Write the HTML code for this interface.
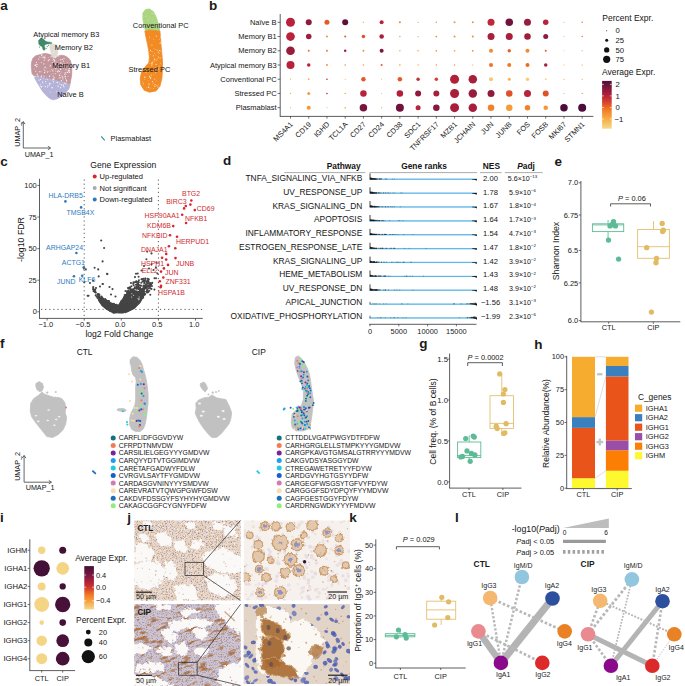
<!DOCTYPE html><html><head><meta charset="utf-8"><style>html,body{margin:0;padding:0;background:#fff;}svg{display:block;}</style></head><body>
<svg width="685" height="686" viewBox="0 0 685 686" font-family='"Liberation Sans", sans-serif'>
<rect x="0.00" y="0.00" width="685.00" height="686.00" fill="#fff"/>
<text x="0.30" y="9.90" font-size="13.5" text-anchor="start" font-weight="bold" fill="#1a1a1a">a</text>
<path d="M33.2,57.9 L35.9,55.7 L40.3,54.6 L44.7,53.5 L49.1,54.1 L52.4,55.7 L55.6,56.8 L57.8,56.3 L61.1,55.2 L64.4,55.7 L67.7,57.4 L70.4,60.6 L71.5,65.0 L71.8,70.5 L71.5,76.0 L70.7,80.3 L69.9,84.7 L63.3,82.5 L56.7,80.9 L50.2,79.2 L43.6,78.1 L38.1,77.0 L34.3,76.0 L32.1,73.8 L31.6,69.4 L31.3,65.0 L31.8,61.2 Z" fill="#c3959c" stroke="#c3959c" stroke-width="0.8" stroke-linejoin="round"/>
<path d="M34.3,75.7 L38.1,76.8 L43.6,77.9 L50.2,79.0 L56.7,80.7 L63.3,82.3 L70.1,84.5 L68.8,89.1 L65.5,92.9 L61.1,96.7 L56.7,98.9 L52.9,99.8 L49.6,98.4 L46.3,95.6 L42.5,91.3 L39.2,85.8 L36.5,81.4 L34.8,78.1 Z" fill="#b5b3d8" stroke="#b5b3d8" stroke-width="0.8" stroke-linejoin="round"/>
<path d="M50.2,44.2 L53.4,44.0 L56.7,44.8 L57.8,47.5 L57.8,51.9 L57.3,56.3 L55.6,57.9 L52.9,57.4 L51.3,54.6 L50.4,50.8 L49.9,47.0 Z" fill="#dedcd3" stroke="#dedcd3" stroke-width="0.6" stroke-linejoin="round"/>
<path d="M38.5,40.5 L40.5,38.6 L43.0,38.8 L45.0,40.5 L46.0,42.5 L45.0,45.0 L43.0,46.5 L40.5,46.0 L38.8,44.0 Z" fill="#3f8a68" stroke="#3f8a68" stroke-width="0.5" stroke-linejoin="round"/>
<path d="M45.0,41.3 L48.0,42.0 L51.5,42.4 L51.7,43.6 L48.0,43.9 L45.0,44.2 Z" fill="#3f8a68" stroke="#3f8a68" stroke-width="0.5" stroke-linejoin="round"/>
<path d="M41.8,45.0 L44.0,45.3 L45.2,48.5 L44.6,50.2 L43.2,49.9 L42.4,47.5 Z" fill="#3f8a68" stroke="#3f8a68" stroke-width="0.5" stroke-linejoin="round"/>
<circle cx="47.20" cy="46.60" r="0.55" fill="#3f8a68"/>
<circle cx="46.30" cy="48.20" r="0.55" fill="#3f8a68"/>
<circle cx="48.50" cy="45.20" r="0.55" fill="#3f8a68"/>
<circle cx="39.50" cy="47.00" r="0.55" fill="#3f8a68"/>
<path d="M142.9,12.9 L145.5,9.6 L149.4,8.9 L153.4,11.6 L156.0,16.8 L157.9,22.0 L159.2,27.3 L159.9,31.9 L154.7,31.2 L149.4,30.6 L145.5,31.2 L144.2,26.0 L142.9,19.4 Z" fill="#acd582" stroke="#acd582" stroke-width="0.8" stroke-linejoin="round"/>
<path d="M144.8,31.2 L149.4,29.9 L154.7,30.6 L159.9,31.2 L160.6,39.1 L161.2,46.9 L161.9,54.8 L162.5,61.4 L162.5,69.2 L161.9,78.4 L159.9,86.3 L156.0,90.9 L149.4,92.2 L144.2,90.2 L140.9,85.0 L140.2,78.4 L141.6,71.9 L145.5,66.6 L148.8,62.7 L149.4,57.4 L148.8,50.9 L147.5,44.3 L146.1,37.8 Z" fill="#f28b24" stroke="#f28b24" stroke-width="0.8" stroke-linejoin="round"/>
</g>
<circle cx="62.55" cy="64.24" r="0.52" fill="#fff" opacity="0.9"/>
<circle cx="49.98" cy="83.28" r="0.63" fill="#fff" opacity="0.9"/>
<circle cx="65.43" cy="72.77" r="0.62" fill="#fff" opacity="0.9"/>
<circle cx="60.86" cy="62.98" r="0.68" fill="#fff" opacity="0.9"/>
<circle cx="69.57" cy="70.30" r="0.43" fill="#fff" opacity="0.9"/>
<circle cx="48.88" cy="53.39" r="0.43" fill="#fff" opacity="0.9"/>
<circle cx="49.52" cy="75.80" r="0.43" fill="#fff" opacity="0.9"/>
<circle cx="41.23" cy="62.50" r="0.51" fill="#fff" opacity="0.9"/>
<circle cx="65.50" cy="78.71" r="0.57" fill="#fff" opacity="0.9"/>
<circle cx="45.31" cy="86.63" r="0.60" fill="#fff" opacity="0.9"/>
<circle cx="69.46" cy="72.26" r="0.64" fill="#fff" opacity="0.9"/>
<circle cx="58.81" cy="66.56" r="0.56" fill="#fff" opacity="0.9"/>
<circle cx="52.21" cy="80.27" r="0.36" fill="#fff" opacity="0.9"/>
<circle cx="48.57" cy="60.30" r="0.54" fill="#fff" opacity="0.9"/>
<circle cx="60.12" cy="84.38" r="0.48" fill="#fff" opacity="0.9"/>
<circle cx="49.56" cy="76.40" r="0.62" fill="#fff" opacity="0.9"/>
<circle cx="52.84" cy="70.88" r="0.52" fill="#fff" opacity="0.9"/>
<circle cx="55.73" cy="70.89" r="0.41" fill="#fff" opacity="0.9"/>
<circle cx="62.82" cy="77.90" r="0.65" fill="#fff" opacity="0.9"/>
<circle cx="41.29" cy="76.66" r="0.68" fill="#fff" opacity="0.9"/>
<circle cx="55.11" cy="74.04" r="0.44" fill="#fff" opacity="0.9"/>
<circle cx="52.75" cy="78.95" r="0.50" fill="#fff" opacity="0.9"/>
<circle cx="54.80" cy="61.59" r="0.53" fill="#fff" opacity="0.9"/>
<circle cx="51.40" cy="69.13" r="0.47" fill="#fff" opacity="0.9"/>
<circle cx="53.54" cy="81.93" r="0.56" fill="#fff" opacity="0.9"/>
<circle cx="50.33" cy="53.34" r="0.43" fill="#fff" opacity="0.9"/>
<circle cx="39.09" cy="80.05" r="0.65" fill="#fff" opacity="0.9"/>
<circle cx="64.66" cy="64.25" r="0.64" fill="#fff" opacity="0.9"/>
<circle cx="58.92" cy="56.00" r="0.36" fill="#fff" opacity="0.9"/>
<circle cx="41.98" cy="57.26" r="0.57" fill="#fff" opacity="0.9"/>
<circle cx="45.78" cy="55.34" r="0.41" fill="#fff" opacity="0.9"/>
<circle cx="53.10" cy="60.07" r="0.45" fill="#fff" opacity="0.9"/>
<circle cx="60.46" cy="73.83" r="0.46" fill="#fff" opacity="0.9"/>
<circle cx="50.95" cy="53.13" r="0.49" fill="#fff" opacity="0.9"/>
<circle cx="48.84" cy="61.03" r="0.39" fill="#fff" opacity="0.9"/>
<circle cx="67.99" cy="76.49" r="0.42" fill="#fff" opacity="0.9"/>
<circle cx="56.23" cy="91.22" r="0.36" fill="#fff" opacity="0.9"/>
<circle cx="60.75" cy="59.69" r="0.60" fill="#fff" opacity="0.9"/>
<circle cx="59.13" cy="78.15" r="0.43" fill="#fff" opacity="0.9"/>
<circle cx="52.66" cy="62.71" r="0.58" fill="#fff" opacity="0.9"/>
<circle cx="47.80" cy="79.64" r="0.46" fill="#fff" opacity="0.9"/>
<circle cx="57.24" cy="54.82" r="0.45" fill="#fff" opacity="0.9"/>
<circle cx="61.75" cy="71.98" r="0.44" fill="#fff" opacity="0.9"/>
<circle cx="52.35" cy="70.14" r="0.47" fill="#fff" opacity="0.9"/>
<circle cx="40.23" cy="84.36" r="0.50" fill="#fff" opacity="0.9"/>
<circle cx="39.76" cy="57.01" r="0.58" fill="#fff" opacity="0.9"/>
<circle cx="43.84" cy="75.99" r="0.46" fill="#fff" opacity="0.9"/>
<circle cx="63.31" cy="68.28" r="0.42" fill="#fff" opacity="0.9"/>
<circle cx="69.29" cy="68.50" r="0.66" fill="#fff" opacity="0.9"/>
<circle cx="59.48" cy="75.26" r="0.69" fill="#fff" opacity="0.9"/>
<circle cx="41.39" cy="86.82" r="0.38" fill="#fff" opacity="0.9"/>
<circle cx="46.72" cy="68.33" r="0.45" fill="#fff" opacity="0.9"/>
<circle cx="66.70" cy="80.99" r="0.68" fill="#fff" opacity="0.9"/>
<circle cx="54.05" cy="57.01" r="0.36" fill="#fff" opacity="0.9"/>
<circle cx="45.64" cy="81.53" r="0.62" fill="#fff" opacity="0.9"/>
<circle cx="47.12" cy="79.40" r="0.43" fill="#fff" opacity="0.9"/>
<circle cx="35.27" cy="64.80" r="0.66" fill="#fff" opacity="0.9"/>
<circle cx="50.31" cy="65.30" r="0.63" fill="#fff" opacity="0.9"/>
<circle cx="58.82" cy="56.40" r="0.39" fill="#fff" opacity="0.9"/>
<circle cx="48.84" cy="57.55" r="0.41" fill="#fff" opacity="0.9"/>
<circle cx="41.66" cy="87.71" r="0.39" fill="#fff" opacity="0.9"/>
<circle cx="68.43" cy="70.16" r="0.69" fill="#fff" opacity="0.9"/>
<circle cx="68.37" cy="66.11" r="0.44" fill="#fff" opacity="0.9"/>
<circle cx="51.08" cy="56.81" r="0.58" fill="#fff" opacity="0.9"/>
<circle cx="55.86" cy="73.59" r="0.46" fill="#fff" opacity="0.9"/>
<circle cx="36.45" cy="62.33" r="0.57" fill="#fff" opacity="0.9"/>
<circle cx="59.53" cy="83.77" r="0.44" fill="#fff" opacity="0.9"/>
<circle cx="53.66" cy="66.75" r="0.44" fill="#fff" opacity="0.9"/>
<circle cx="35.25" cy="65.48" r="0.69" fill="#fff" opacity="0.9"/>
<circle cx="49.92" cy="83.30" r="0.58" fill="#fff" opacity="0.9"/>
<circle cx="69.63" cy="70.74" r="0.46" fill="#fff" opacity="0.9"/>
<circle cx="45.09" cy="67.20" r="0.65" fill="#fff" opacity="0.9"/>
<circle cx="67.74" cy="66.53" r="0.47" fill="#fff" opacity="0.9"/>
<circle cx="53.77" cy="79.79" r="0.56" fill="#fff" opacity="0.9"/>
<circle cx="41.75" cy="55.47" r="0.54" fill="#fff" opacity="0.9"/>
<circle cx="57.42" cy="65.96" r="0.63" fill="#fff" opacity="0.9"/>
<circle cx="38.17" cy="76.07" r="0.63" fill="#fff" opacity="0.9"/>
<circle cx="44.79" cy="57.13" r="0.53" fill="#fff" opacity="0.9"/>
<circle cx="68.77" cy="66.09" r="0.66" fill="#fff" opacity="0.9"/>
<circle cx="61.85" cy="85.10" r="0.41" fill="#fff" opacity="0.9"/>
<circle cx="49.31" cy="59.58" r="0.60" fill="#fff" opacity="0.9"/>
<circle cx="58.71" cy="64.12" r="0.37" fill="#fff" opacity="0.9"/>
<circle cx="53.97" cy="77.99" r="0.65" fill="#fff" opacity="0.9"/>
<circle cx="50.13" cy="70.99" r="0.47" fill="#fff" opacity="0.9"/>
<circle cx="57.86" cy="72.00" r="0.55" fill="#fff" opacity="0.9"/>
<circle cx="34.49" cy="69.04" r="0.40" fill="#fff" opacity="0.9"/>
<circle cx="37.01" cy="64.44" r="0.64" fill="#fff" opacity="0.9"/>
<circle cx="47.91" cy="71.25" r="0.56" fill="#fff" opacity="0.9"/>
<circle cx="53.15" cy="76.04" r="0.58" fill="#fff" opacity="0.9"/>
<circle cx="49.53" cy="84.95" r="0.61" fill="#fff" opacity="0.9"/>
<circle cx="41.53" cy="75.76" r="0.52" fill="#fff" opacity="0.9"/>
<circle cx="41.00" cy="71.79" r="0.55" fill="#fff" opacity="0.9"/>
<circle cx="43.01" cy="83.03" r="0.37" fill="#fff" opacity="0.9"/>
<circle cx="34.86" cy="76.56" r="0.66" fill="#fff" opacity="0.9"/>
<circle cx="67.32" cy="66.97" r="0.59" fill="#fff" opacity="0.9"/>
<circle cx="65.96" cy="69.84" r="0.60" fill="#fff" opacity="0.9"/>
<circle cx="61.46" cy="80.54" r="0.65" fill="#fff" opacity="0.9"/>
<circle cx="54.85" cy="60.46" r="0.44" fill="#fff" opacity="0.9"/>
<circle cx="40.70" cy="79.34" r="0.62" fill="#fff" opacity="0.9"/>
<circle cx="60.69" cy="68.70" r="0.53" fill="#fff" opacity="0.9"/>
<circle cx="64.32" cy="82.17" r="0.44" fill="#fff" opacity="0.9"/>
<circle cx="65.68" cy="83.67" r="0.60" fill="#fff" opacity="0.9"/>
<circle cx="64.11" cy="72.78" r="0.41" fill="#fff" opacity="0.9"/>
<circle cx="45.02" cy="58.06" r="0.67" fill="#fff" opacity="0.9"/>
<circle cx="56.03" cy="71.59" r="0.39" fill="#fff" opacity="0.9"/>
<circle cx="43.82" cy="63.91" r="0.61" fill="#fff" opacity="0.9"/>
<circle cx="49.55" cy="53.01" r="0.57" fill="#fff" opacity="0.9"/>
<circle cx="56.23" cy="92.10" r="0.42" fill="#fff" opacity="0.9"/>
<circle cx="43.39" cy="78.03" r="0.45" fill="#fff" opacity="0.9"/>
<circle cx="55.43" cy="64.04" r="0.59" fill="#fff" opacity="0.9"/>
<circle cx="62.76" cy="79.39" r="0.48" fill="#fff" opacity="0.9"/>
<circle cx="43.36" cy="57.19" r="0.63" fill="#fff" opacity="0.9"/>
<circle cx="37.46" cy="76.02" r="0.55" fill="#fff" opacity="0.9"/>
<circle cx="44.45" cy="76.15" r="0.47" fill="#fff" opacity="0.9"/>
<circle cx="53.14" cy="52.04" r="0.50" fill="#fff" opacity="0.9"/>
<circle cx="49.98" cy="66.63" r="0.49" fill="#fff" opacity="0.9"/>
<circle cx="63.32" cy="84.80" r="0.52" fill="#fff" opacity="0.9"/>
<circle cx="57.91" cy="70.12" r="0.42" fill="#fff" opacity="0.9"/>
<circle cx="65.18" cy="76.53" r="0.70" fill="#fff" opacity="0.9"/>
<circle cx="50.46" cy="92.06" r="0.49" fill="#fff" opacity="0.9"/>
<circle cx="44.21" cy="60.18" r="0.57" fill="#fff" opacity="0.9"/>
<circle cx="53.24" cy="69.25" r="0.35" fill="#fff" opacity="0.9"/>
<circle cx="47.57" cy="72.44" r="0.49" fill="#fff" opacity="0.9"/>
<circle cx="66.45" cy="80.05" r="0.61" fill="#fff" opacity="0.9"/>
<circle cx="51.71" cy="87.80" r="0.57" fill="#fff" opacity="0.9"/>
<circle cx="57.95" cy="82.22" r="0.49" fill="#fff" opacity="0.9"/>
<circle cx="57.17" cy="82.42" r="0.68" fill="#fff" opacity="0.9"/>
<circle cx="56.22" cy="68.77" r="0.44" fill="#fff" opacity="0.9"/>
<circle cx="53.77" cy="59.30" r="0.64" fill="#fff" opacity="0.9"/>
<circle cx="51.38" cy="74.42" r="0.37" fill="#fff" opacity="0.9"/>
<circle cx="52.41" cy="87.75" r="0.50" fill="#fff" opacity="0.9"/>
<circle cx="46.21" cy="83.53" r="0.36" fill="#fff" opacity="0.9"/>
<circle cx="59.62" cy="71.29" r="0.59" fill="#fff" opacity="0.9"/>
<circle cx="56.20" cy="62.03" r="0.42" fill="#fff" opacity="0.9"/>
<circle cx="67.44" cy="64.92" r="0.38" fill="#fff" opacity="0.9"/>
<circle cx="65.23" cy="77.11" r="0.48" fill="#fff" opacity="0.9"/>
<circle cx="52.46" cy="87.36" r="0.41" fill="#fff" opacity="0.9"/>
<circle cx="58.12" cy="86.24" r="0.64" fill="#fff" opacity="0.9"/>
<circle cx="42.79" cy="81.26" r="0.43" fill="#fff" opacity="0.9"/>
<circle cx="54.44" cy="60.27" r="0.63" fill="#fff" opacity="0.9"/>
<circle cx="66.67" cy="67.82" r="0.43" fill="#fff" opacity="0.9"/>
<circle cx="44.66" cy="72.72" r="0.62" fill="#fff" opacity="0.9"/>
<circle cx="63.42" cy="61.12" r="0.57" fill="#fff" opacity="0.9"/>
<circle cx="61.13" cy="81.10" r="0.44" fill="#fff" opacity="0.9"/>
<circle cx="53.06" cy="58.65" r="0.40" fill="#fff" opacity="0.9"/>
<circle cx="60.63" cy="69.33" r="0.61" fill="#fff" opacity="0.9"/>
<circle cx="41.62" cy="86.47" r="0.60" fill="#fff" opacity="0.9"/>
<circle cx="44.22" cy="57.11" r="0.49" fill="#fff" opacity="0.9"/>
<circle cx="51.69" cy="56.80" r="0.42" fill="#fff" opacity="0.9"/>
<circle cx="67.56" cy="62.39" r="0.36" fill="#fff" opacity="0.9"/>
<circle cx="35.81" cy="71.19" r="0.52" fill="#fff" opacity="0.9"/>
<circle cx="47.12" cy="60.09" r="0.43" fill="#fff" opacity="0.9"/>
<circle cx="64.81" cy="74.20" r="0.55" fill="#fff" opacity="0.9"/>
<circle cx="40.48" cy="86.32" r="0.47" fill="#fff" opacity="0.9"/>
<circle cx="44.78" cy="70.39" r="0.55" fill="#fff" opacity="0.9"/>
<circle cx="68.75" cy="71.20" r="0.66" fill="#fff" opacity="0.9"/>
<circle cx="62.34" cy="59.31" r="0.67" fill="#fff" opacity="0.9"/>
<circle cx="58.59" cy="54.74" r="0.48" fill="#fff" opacity="0.9"/>
<circle cx="37.20" cy="74.22" r="0.64" fill="#fff" opacity="0.9"/>
<circle cx="61.78" cy="84.97" r="0.65" fill="#fff" opacity="0.9"/>
<circle cx="58.52" cy="70.71" r="0.57" fill="#fff" opacity="0.9"/>
<circle cx="41.72" cy="54.89" r="0.68" fill="#fff" opacity="0.9"/>
<circle cx="55.62" cy="68.78" r="0.56" fill="#fff" opacity="0.9"/>
<circle cx="54.41" cy="77.06" r="0.37" fill="#fff" opacity="0.9"/>
<circle cx="46.13" cy="71.81" r="0.42" fill="#fff" opacity="0.9"/>
<circle cx="67.20" cy="72.36" r="0.58" fill="#fff" opacity="0.9"/>
<circle cx="60.54" cy="87.68" r="0.60" fill="#fff" opacity="0.9"/>
<circle cx="62.09" cy="64.08" r="0.69" fill="#fff" opacity="0.9"/>
<circle cx="64.52" cy="74.52" r="0.48" fill="#fff" opacity="0.9"/>
<circle cx="53.26" cy="73.28" r="0.39" fill="#fff" opacity="0.9"/>
<circle cx="47.81" cy="85.97" r="0.66" fill="#fff" opacity="0.9"/>
<circle cx="47.37" cy="87.17" r="0.46" fill="#fff" opacity="0.9"/>
<circle cx="44.15" cy="72.39" r="0.44" fill="#fff" opacity="0.9"/>
<circle cx="54.29" cy="67.85" r="0.47" fill="#fff" opacity="0.9"/>
<circle cx="55.37" cy="57.03" r="0.58" fill="#fff" opacity="0.9"/>
<circle cx="60.05" cy="77.71" r="0.66" fill="#fff" opacity="0.9"/>
<circle cx="65.26" cy="65.98" r="0.40" fill="#fff" opacity="0.9"/>
<circle cx="46.81" cy="77.01" r="0.38" fill="#fff" opacity="0.9"/>
<circle cx="45.82" cy="79.60" r="0.37" fill="#fff" opacity="0.9"/>
<circle cx="64.60" cy="83.25" r="0.46" fill="#fff" opacity="0.9"/>
<circle cx="43.93" cy="68.93" r="0.46" fill="#fff" opacity="0.9"/>
<circle cx="61.94" cy="76.05" r="0.53" fill="#fff" opacity="0.9"/>
<circle cx="45.02" cy="67.72" r="0.37" fill="#fff" opacity="0.9"/>
<circle cx="64.05" cy="58.46" r="0.53" fill="#fff" opacity="0.9"/>
<circle cx="63.36" cy="85.74" r="0.61" fill="#fff" opacity="0.9"/>
<circle cx="57.74" cy="71.32" r="0.51" fill="#fff" opacity="0.9"/>
<circle cx="38.71" cy="59.12" r="0.59" fill="#fff" opacity="0.9"/>
<circle cx="39.38" cy="71.73" r="0.60" fill="#fff" opacity="0.9"/>
<circle cx="53.83" cy="64.76" r="0.39" fill="#fff" opacity="0.9"/>
<circle cx="42.47" cy="82.34" r="0.53" fill="#fff" opacity="0.9"/>
<circle cx="66.03" cy="82.88" r="0.41" fill="#fff" opacity="0.9"/>
<circle cx="60.41" cy="65.62" r="0.66" fill="#fff" opacity="0.9"/>
<circle cx="67.71" cy="72.42" r="0.59" fill="#fff" opacity="0.9"/>
<circle cx="63.93" cy="86.84" r="0.63" fill="#fff" opacity="0.9"/>
<circle cx="62.81" cy="76.69" r="0.52" fill="#fff" opacity="0.9"/>
<circle cx="63.85" cy="80.06" r="0.36" fill="#fff" opacity="0.9"/>
<circle cx="66.05" cy="74.01" r="0.42" fill="#fff" opacity="0.9"/>
<circle cx="43.97" cy="85.18" r="0.35" fill="#fff" opacity="0.9"/>
<circle cx="36.80" cy="66.53" r="0.66" fill="#fff" opacity="0.9"/>
<circle cx="53.72" cy="79.45" r="0.54" fill="#fff" opacity="0.9"/>
<circle cx="151.62" cy="63.06" r="0.55" fill="#fff" opacity="0.85"/>
<circle cx="154.12" cy="48.77" r="0.39" fill="#fff" opacity="0.85"/>
<circle cx="151.15" cy="65.76" r="0.46" fill="#fff" opacity="0.85"/>
<circle cx="156.67" cy="64.52" r="0.41" fill="#fff" opacity="0.85"/>
<circle cx="148.65" cy="87.13" r="0.57" fill="#fff" opacity="0.85"/>
<circle cx="155.07" cy="84.82" r="0.58" fill="#fff" opacity="0.85"/>
<circle cx="159.31" cy="53.39" r="0.44" fill="#fff" opacity="0.85"/>
<circle cx="158.10" cy="52.73" r="0.52" fill="#fff" opacity="0.85"/>
<circle cx="150.55" cy="50.53" r="0.44" fill="#fff" opacity="0.85"/>
<circle cx="159.59" cy="65.96" r="0.39" fill="#fff" opacity="0.85"/>
<circle cx="151.33" cy="75.11" r="0.51" fill="#fff" opacity="0.85"/>
<circle cx="149.40" cy="77.40" r="0.45" fill="#fff" opacity="0.85"/>
<circle cx="156.17" cy="59.97" r="0.59" fill="#fff" opacity="0.85"/>
<circle cx="156.19" cy="35.57" r="0.34" fill="#fff" opacity="0.85"/>
<circle cx="150.51" cy="88.08" r="0.42" fill="#fff" opacity="0.85"/>
<circle cx="156.36" cy="80.90" r="0.33" fill="#fff" opacity="0.85"/>
<circle cx="152.19" cy="62.60" r="0.40" fill="#fff" opacity="0.85"/>
<circle cx="149.07" cy="70.97" r="0.34" fill="#fff" opacity="0.85"/>
<circle cx="150.51" cy="78.39" r="0.56" fill="#fff" opacity="0.85"/>
<circle cx="157.87" cy="71.29" r="0.33" fill="#fff" opacity="0.85"/>
<circle cx="160.72" cy="37.09" r="0.56" fill="#fff" opacity="0.85"/>
<circle cx="160.73" cy="42.27" r="0.46" fill="#fff" opacity="0.85"/>
<circle cx="149.00" cy="84.16" r="0.60" fill="#fff" opacity="0.85"/>
<circle cx="160.48" cy="63.23" r="0.36" fill="#fff" opacity="0.85"/>
<circle cx="157.23" cy="50.56" r="0.45" fill="#fff" opacity="0.85"/>
<circle cx="154.77" cy="86.47" r="0.59" fill="#fff" opacity="0.85"/>
<circle cx="149.57" cy="76.35" r="0.55" fill="#fff" opacity="0.85"/>
<circle cx="155.95" cy="55.11" r="0.34" fill="#fff" opacity="0.85"/>
<circle cx="153.36" cy="88.56" r="0.46" fill="#fff" opacity="0.85"/>
<circle cx="153.62" cy="39.08" r="0.42" fill="#fff" opacity="0.85"/>
<circle cx="145.71" cy="72.42" r="0.38" fill="#fff" opacity="0.85"/>
<circle cx="150.29" cy="50.64" r="0.48" fill="#fff" opacity="0.85"/>
<circle cx="143.35" cy="83.67" r="0.51" fill="#fff" opacity="0.85"/>
<circle cx="146.82" cy="72.10" r="0.49" fill="#fff" opacity="0.85"/>
<circle cx="158.49" cy="84.38" r="0.39" fill="#fff" opacity="0.85"/>
<circle cx="150.85" cy="50.13" r="0.34" fill="#fff" opacity="0.85"/>
<circle cx="155.87" cy="64.35" r="0.51" fill="#fff" opacity="0.85"/>
<circle cx="152.62" cy="83.94" r="0.43" fill="#fff" opacity="0.85"/>
<circle cx="145.02" cy="76.97" r="0.50" fill="#fff" opacity="0.85"/>
<circle cx="156.40" cy="36.30" r="0.40" fill="#fff" opacity="0.85"/>
<circle cx="148.58" cy="86.96" r="0.49" fill="#fff" opacity="0.85"/>
<circle cx="146.72" cy="87.87" r="0.41" fill="#fff" opacity="0.85"/>
<circle cx="158.29" cy="69.11" r="0.55" fill="#fff" opacity="0.85"/>
<circle cx="153.55" cy="83.09" r="0.42" fill="#fff" opacity="0.85"/>
<circle cx="155.30" cy="67.86" r="0.46" fill="#fff" opacity="0.85"/>
<circle cx="152.55" cy="62.68" r="0.42" fill="#fff" opacity="0.85"/>
<circle cx="160.56" cy="68.60" r="0.46" fill="#fff" opacity="0.85"/>
<circle cx="149.43" cy="63.30" r="0.38" fill="#fff" opacity="0.85"/>
<circle cx="150.36" cy="54.60" r="0.33" fill="#fff" opacity="0.85"/>
<circle cx="152.06" cy="63.23" r="0.55" fill="#fff" opacity="0.85"/>
<circle cx="156.36" cy="71.76" r="0.31" fill="#fff" opacity="0.85"/>
<circle cx="142.74" cy="85.72" r="0.34" fill="#fff" opacity="0.85"/>
<circle cx="160.10" cy="43.19" r="0.55" fill="#fff" opacity="0.85"/>
<circle cx="159.36" cy="50.46" r="0.57" fill="#fff" opacity="0.85"/>
<circle cx="142.83" cy="81.80" r="0.41" fill="#fff" opacity="0.85"/>
<circle cx="149.55" cy="37.19" r="0.48" fill="#fff" opacity="0.85"/>
<circle cx="158.19" cy="66.82" r="0.30" fill="#fff" opacity="0.85"/>
<circle cx="154.43" cy="53.15" r="0.47" fill="#fff" opacity="0.85"/>
<circle cx="160.19" cy="58.03" r="0.53" fill="#fff" opacity="0.85"/>
<circle cx="153.37" cy="55.76" r="0.58" fill="#fff" opacity="0.85"/>
<circle cx="151.19" cy="51.73" r="0.38" fill="#fff" opacity="0.85"/>
<circle cx="154.72" cy="78.93" r="0.55" fill="#fff" opacity="0.85"/>
<circle cx="144.88" cy="79.31" r="0.37" fill="#fff" opacity="0.85"/>
<circle cx="152.50" cy="51.82" r="0.35" fill="#fff" opacity="0.85"/>
<circle cx="157.64" cy="85.90" r="0.39" fill="#fff" opacity="0.85"/>
<circle cx="160.11" cy="51.12" r="0.50" fill="#fff" opacity="0.85"/>
<circle cx="158.59" cy="56.90" r="0.51" fill="#fff" opacity="0.85"/>
<circle cx="154.24" cy="61.66" r="0.32" fill="#fff" opacity="0.85"/>
<circle cx="155.15" cy="84.37" r="0.35" fill="#fff" opacity="0.85"/>
<circle cx="154.43" cy="59.73" r="0.40" fill="#fff" opacity="0.85"/>
<circle cx="148.20" cy="80.86" r="0.35" fill="#fff" opacity="0.85"/>
<circle cx="156.20" cy="36.08" r="0.40" fill="#fff" opacity="0.85"/>
<circle cx="157.83" cy="58.14" r="0.44" fill="#fff" opacity="0.85"/>
<circle cx="150.82" cy="77.16" r="0.52" fill="#fff" opacity="0.85"/>
<circle cx="152.01" cy="64.86" r="0.58" fill="#fff" opacity="0.85"/>
<circle cx="159.15" cy="39.14" r="0.41" fill="#fff" opacity="0.85"/>
<circle cx="157.39" cy="70.70" r="0.54" fill="#fff" opacity="0.85"/>
<circle cx="156.67" cy="85.67" r="0.46" fill="#fff" opacity="0.85"/>
<circle cx="160.77" cy="70.40" r="0.40" fill="#fff" opacity="0.85"/>
<circle cx="144.74" cy="77.28" r="0.58" fill="#fff" opacity="0.85"/>
<circle cx="153.05" cy="61.30" r="0.43" fill="#fff" opacity="0.85"/>
<circle cx="158.07" cy="87.08" r="0.52" fill="#fff" opacity="0.85"/>
<circle cx="155.81" cy="72.13" r="0.50" fill="#fff" opacity="0.85"/>
<circle cx="151.88" cy="45.12" r="0.53" fill="#fff" opacity="0.85"/>
<circle cx="154.39" cy="59.21" r="0.59" fill="#fff" opacity="0.85"/>
<circle cx="155.98" cy="49.42" r="0.46" fill="#fff" opacity="0.85"/>
<circle cx="149.77" cy="60.60" r="0.43" fill="#fff" opacity="0.85"/>
<circle cx="158.61" cy="51.96" r="0.35" fill="#fff" opacity="0.85"/>
<circle cx="152.60" cy="81.54" r="0.53" fill="#fff" opacity="0.85"/>
<circle cx="153.93" cy="74.59" r="0.40" fill="#fff" opacity="0.85"/>
<circle cx="146.14" cy="16.59" r="0.37" fill="#fff" opacity="0.6"/>
<circle cx="148.19" cy="20.42" r="0.33" fill="#fff" opacity="0.6"/>
<circle cx="145.95" cy="16.55" r="0.34" fill="#fff" opacity="0.6"/>
<circle cx="156.03" cy="21.68" r="0.34" fill="#fff" opacity="0.6"/>
<circle cx="150.44" cy="27.69" r="0.42" fill="#fff" opacity="0.6"/>
<circle cx="152.31" cy="19.04" r="0.34" fill="#fff" opacity="0.6"/>
<circle cx="153.38" cy="13.39" r="0.46" fill="#fff" opacity="0.6"/>
<circle cx="144.86" cy="25.43" r="0.38" fill="#fff" opacity="0.6"/>
<circle cx="154.24" cy="22.64" r="0.33" fill="#fff" opacity="0.6"/>
<circle cx="152.08" cy="13.34" r="0.35" fill="#fff" opacity="0.6"/>
<circle cx="149.73" cy="17.14" r="0.43" fill="#fff" opacity="0.6"/>
<circle cx="158.80" cy="18.42" r="0.47" fill="#fff" opacity="0.6"/>
<circle cx="147.38" cy="24.77" r="0.37" fill="#fff" opacity="0.6"/>
<circle cx="152.03" cy="13.59" r="0.47" fill="#fff" opacity="0.6"/>
<circle cx="147.13" cy="20.34" r="0.36" fill="#fff" opacity="0.6"/>
<text x="33.20" y="37.20" font-size="7.45" text-anchor="start" fill="#141414">Atypical memory B3</text>
<text x="54.80" y="50.40" font-size="7.45" text-anchor="start" fill="#141414">Memory B2</text>
<text x="52.20" y="67.60" font-size="7.45" text-anchor="start" fill="#141414">Memory B1</text>
<text x="57.20" y="96.80" font-size="7.45" text-anchor="start" fill="#141414">Na&#239;ve B</text>
<text x="132.80" y="27.70" font-size="7.45" text-anchor="start" fill="#141414">Conventional PC</text>
<text x="128.50" y="72.20" font-size="7.45" text-anchor="start" fill="#141414">Stressed PC</text>
<line x1="101.20" y1="136.30" x2="104.70" y2="140.40" stroke="#2a8a9a" stroke-width="1.1"/>
<text x="110.60" y="140.80" font-size="7.45" text-anchor="start" fill="#141414">Plasmablast</text>
<path d="M23.3,148.0 L23.3,121.6 M23.3,148.0 L50.5,148.0" stroke="#555" stroke-width="0.9" fill="none"/>
<path d="M21.5,124.19999999999999 L23.3,121.6 L25.1,124.19999999999999" stroke="#555" stroke-width="0.9" fill="none"/>
<path d="M47.9,146.2 L50.5,148.0 L47.9,149.8" stroke="#555" stroke-width="0.9" fill="none"/>
<text x="19.80" y="132.40" font-size="7.2" text-anchor="middle" fill="#141414" transform="rotate(-90 19.80 132.40)">UMAP_2</text>
<text x="24.70" y="156.60" font-size="7.2" text-anchor="start" fill="#141414">UMAP_1</text>
<text x="209.00" y="9.90" font-size="13.5" text-anchor="start" font-weight="bold" fill="#1a1a1a">b</text>
<line x1="280.20" y1="14.00" x2="280.20" y2="116.40" stroke="#333" stroke-width="0.8"/>
<line x1="279.80" y1="116.40" x2="593.40" y2="116.40" stroke="#333" stroke-width="0.8"/>
<line x1="277.60" y1="22.30" x2="280.20" y2="22.30" stroke="#333" stroke-width="0.7"/>
<text x="276.60" y="24.90" font-size="7.5" text-anchor="end" fill="#161616">Na&#239;ve B</text>
<line x1="277.60" y1="36.53" x2="280.20" y2="36.53" stroke="#333" stroke-width="0.7"/>
<text x="276.60" y="39.13" font-size="7.5" text-anchor="end" fill="#161616">Memory B1</text>
<line x1="277.60" y1="50.76" x2="280.20" y2="50.76" stroke="#333" stroke-width="0.7"/>
<text x="276.60" y="53.36" font-size="7.5" text-anchor="end" fill="#161616">Memory B2</text>
<line x1="277.60" y1="64.99" x2="280.20" y2="64.99" stroke="#333" stroke-width="0.7"/>
<text x="276.60" y="67.59" font-size="7.5" text-anchor="end" fill="#161616">Atypical memory B3</text>
<line x1="277.60" y1="79.22" x2="280.20" y2="79.22" stroke="#333" stroke-width="0.7"/>
<text x="276.60" y="81.82" font-size="7.5" text-anchor="end" fill="#161616">Conventional PC</text>
<line x1="277.60" y1="93.45" x2="280.20" y2="93.45" stroke="#333" stroke-width="0.7"/>
<text x="276.60" y="96.05" font-size="7.5" text-anchor="end" fill="#161616">Stressed PC</text>
<line x1="277.60" y1="107.68" x2="280.20" y2="107.68" stroke="#333" stroke-width="0.7"/>
<text x="276.60" y="110.28" font-size="7.5" text-anchor="end" fill="#161616">Plasmablast</text>
<line x1="290.50" y1="116.40" x2="290.50" y2="118.60" stroke="#333" stroke-width="0.7"/>
<text x="293.50" y="124.80" font-size="7.4" text-anchor="end" fill="#161616" transform="rotate(-45 293.50 124.80)">MS4A1</text>
<line x1="308.73" y1="116.40" x2="308.73" y2="118.60" stroke="#333" stroke-width="0.7"/>
<text x="311.73" y="124.80" font-size="7.4" text-anchor="end" fill="#161616" transform="rotate(-45 311.73 124.80)">CD19</text>
<line x1="326.96" y1="116.40" x2="326.96" y2="118.60" stroke="#333" stroke-width="0.7"/>
<text x="329.96" y="124.80" font-size="7.4" text-anchor="end" fill="#161616" transform="rotate(-45 329.96 124.80)">IGHD</text>
<line x1="345.19" y1="116.40" x2="345.19" y2="118.60" stroke="#333" stroke-width="0.7"/>
<text x="348.19" y="124.80" font-size="7.4" text-anchor="end" fill="#161616" transform="rotate(-45 348.19 124.80)">TCL1A</text>
<line x1="363.42" y1="116.40" x2="363.42" y2="118.60" stroke="#333" stroke-width="0.7"/>
<text x="366.42" y="124.80" font-size="7.4" text-anchor="end" fill="#161616" transform="rotate(-45 366.42 124.80)">CD27</text>
<line x1="381.65" y1="116.40" x2="381.65" y2="118.60" stroke="#333" stroke-width="0.7"/>
<text x="384.65" y="124.80" font-size="7.4" text-anchor="end" fill="#161616" transform="rotate(-45 384.65 124.80)">CD24</text>
<line x1="399.88" y1="116.40" x2="399.88" y2="118.60" stroke="#333" stroke-width="0.7"/>
<text x="402.88" y="124.80" font-size="7.4" text-anchor="end" fill="#161616" transform="rotate(-45 402.88 124.80)">CD38</text>
<line x1="418.11" y1="116.40" x2="418.11" y2="118.60" stroke="#333" stroke-width="0.7"/>
<text x="421.11" y="124.80" font-size="7.4" text-anchor="end" fill="#161616" transform="rotate(-45 421.11 124.80)">SDC1</text>
<line x1="436.34" y1="116.40" x2="436.34" y2="118.60" stroke="#333" stroke-width="0.7"/>
<text x="439.34" y="124.80" font-size="7.4" text-anchor="end" fill="#161616" transform="rotate(-45 439.34 124.80)">TNFRSF17</text>
<line x1="454.57" y1="116.40" x2="454.57" y2="118.60" stroke="#333" stroke-width="0.7"/>
<text x="457.57" y="124.80" font-size="7.4" text-anchor="end" fill="#161616" transform="rotate(-45 457.57 124.80)">MZB1</text>
<line x1="472.80" y1="116.40" x2="472.80" y2="118.60" stroke="#333" stroke-width="0.7"/>
<text x="475.80" y="124.80" font-size="7.4" text-anchor="end" fill="#161616" transform="rotate(-45 475.80 124.80)">JCHAIN</text>
<line x1="491.03" y1="116.40" x2="491.03" y2="118.60" stroke="#333" stroke-width="0.7"/>
<text x="494.03" y="124.80" font-size="7.4" text-anchor="end" fill="#161616" transform="rotate(-45 494.03 124.80)">JUN</text>
<line x1="509.26" y1="116.40" x2="509.26" y2="118.60" stroke="#333" stroke-width="0.7"/>
<text x="512.26" y="124.80" font-size="7.4" text-anchor="end" fill="#161616" transform="rotate(-45 512.26 124.80)">JUNB</text>
<line x1="527.49" y1="116.40" x2="527.49" y2="118.60" stroke="#333" stroke-width="0.7"/>
<text x="530.49" y="124.80" font-size="7.4" text-anchor="end" fill="#161616" transform="rotate(-45 530.49 124.80)">FOS</text>
<line x1="545.72" y1="116.40" x2="545.72" y2="118.60" stroke="#333" stroke-width="0.7"/>
<text x="548.72" y="124.80" font-size="7.4" text-anchor="end" fill="#161616" transform="rotate(-45 548.72 124.80)">FOSB</text>
<line x1="563.95" y1="116.40" x2="563.95" y2="118.60" stroke="#333" stroke-width="0.7"/>
<text x="566.95" y="124.80" font-size="7.4" text-anchor="end" fill="#161616" transform="rotate(-45 566.95 124.80)">MKI67</text>
<line x1="582.18" y1="116.40" x2="582.18" y2="118.60" stroke="#333" stroke-width="0.7"/>
<text x="585.18" y="124.80" font-size="7.4" text-anchor="end" fill="#161616" transform="rotate(-45 585.18 124.80)">STMN1</text>
<circle cx="290.50" cy="22.30" r="4.50" fill="#b8223a"/>
<circle cx="308.73" cy="22.30" r="3.00" fill="#901a3c"/>
<circle cx="326.96" cy="22.30" r="2.50" fill="#e45927"/>
<circle cx="345.19" cy="22.30" r="3.00" fill="#5e0f3b"/>
<circle cx="363.42" cy="22.30" r="0.75" fill="#f7b755"/>
<circle cx="381.65" cy="22.30" r="2.00" fill="#b8223a"/>
<circle cx="399.88" cy="22.30" r="1.00" fill="#f2822a"/>
<circle cx="418.11" cy="22.30" r="0.65" fill="#f7a13c"/>
<circle cx="436.34" cy="22.30" r="0.75" fill="#f59030"/>
<circle cx="454.57" cy="22.30" r="1.00" fill="#f59534"/>
<circle cx="472.80" cy="22.30" r="1.00" fill="#f59030"/>
<circle cx="491.03" cy="22.30" r="3.50" fill="#be2837"/>
<circle cx="509.26" cy="22.30" r="3.75" fill="#6f133c"/>
<circle cx="527.49" cy="22.30" r="3.50" fill="#981c3c"/>
<circle cx="545.72" cy="22.30" r="2.75" fill="#b8223a"/>
<circle cx="563.95" cy="22.30" r="0.50" fill="#f59030"/>
<circle cx="582.18" cy="22.30" r="0.75" fill="#f07a28"/>
<circle cx="290.50" cy="36.53" r="4.35" fill="#b8223a"/>
<circle cx="308.73" cy="36.53" r="2.75" fill="#a01d3b"/>
<circle cx="326.96" cy="36.53" r="1.00" fill="#f59030"/>
<circle cx="345.19" cy="36.53" r="1.00" fill="#e45927"/>
<circle cx="363.42" cy="36.53" r="1.75" fill="#df5129"/>
<circle cx="381.65" cy="36.53" r="2.25" fill="#a81f3b"/>
<circle cx="399.88" cy="36.53" r="0.75" fill="#f7a13c"/>
<circle cx="418.11" cy="36.53" r="0.65" fill="#f7a13c"/>
<circle cx="436.34" cy="36.53" r="0.85" fill="#f48a2c"/>
<circle cx="454.57" cy="36.53" r="1.00" fill="#f59030"/>
<circle cx="472.80" cy="36.53" r="1.00" fill="#f48a2c"/>
<circle cx="491.03" cy="36.53" r="3.50" fill="#a81f3b"/>
<circle cx="509.26" cy="36.53" r="3.50" fill="#a81f3b"/>
<circle cx="527.49" cy="36.53" r="3.25" fill="#a01d3b"/>
<circle cx="545.72" cy="36.53" r="2.50" fill="#901a3c"/>
<circle cx="563.95" cy="36.53" r="0.50" fill="#f7a13c"/>
<circle cx="582.18" cy="36.53" r="0.75" fill="#f07a28"/>
<circle cx="290.50" cy="50.76" r="4.35" fill="#981c3c"/>
<circle cx="308.73" cy="50.76" r="1.00" fill="#ef7226"/>
<circle cx="326.96" cy="50.76" r="1.00" fill="#f07a28"/>
<circle cx="345.19" cy="50.76" r="1.25" fill="#a01d3b"/>
<circle cx="363.42" cy="50.76" r="1.00" fill="#f59030"/>
<circle cx="381.65" cy="50.76" r="2.00" fill="#80163c"/>
<circle cx="399.88" cy="50.76" r="0.75" fill="#f7a640"/>
<circle cx="418.11" cy="50.76" r="0.75" fill="#f69b38"/>
<circle cx="436.34" cy="50.76" r="0.85" fill="#f59030"/>
<circle cx="454.57" cy="50.76" r="0.85" fill="#f69b38"/>
<circle cx="472.80" cy="50.76" r="0.85" fill="#f07a28"/>
<circle cx="491.03" cy="50.76" r="2.00" fill="#f48a2c"/>
<circle cx="509.26" cy="50.76" r="1.75" fill="#e86226"/>
<circle cx="527.49" cy="50.76" r="2.00" fill="#f48a2c"/>
<circle cx="545.72" cy="50.76" r="1.00" fill="#e45927"/>
<circle cx="563.95" cy="50.76" r="0.50" fill="#f7b755"/>
<circle cx="582.18" cy="50.76" r="0.60" fill="#f59030"/>
<circle cx="290.50" cy="64.99" r="4.00" fill="#b8223a"/>
<circle cx="308.73" cy="64.99" r="1.75" fill="#b8223a"/>
<circle cx="326.96" cy="64.99" r="1.00" fill="#f59534"/>
<circle cx="345.19" cy="64.99" r="0.75" fill="#f48a2c"/>
<circle cx="363.42" cy="64.99" r="0.75" fill="#f69b38"/>
<circle cx="381.65" cy="64.99" r="1.00" fill="#e45927"/>
<circle cx="399.88" cy="64.99" r="0.75" fill="#f59534"/>
<circle cx="418.11" cy="64.99" r="0.65" fill="#f7a13c"/>
<circle cx="436.34" cy="64.99" r="0.75" fill="#f59534"/>
<circle cx="454.57" cy="64.99" r="0.75" fill="#f59030"/>
<circle cx="472.80" cy="64.99" r="0.60" fill="#f59534"/>
<circle cx="491.03" cy="64.99" r="2.00" fill="#ef7226"/>
<circle cx="509.26" cy="64.99" r="2.00" fill="#f07a28"/>
<circle cx="527.49" cy="64.99" r="2.00" fill="#ed6a24"/>
<circle cx="545.72" cy="64.99" r="1.75" fill="#a81f3b"/>
<circle cx="563.95" cy="64.99" r="0.50" fill="#f69b38"/>
<circle cx="582.18" cy="64.99" r="0.60" fill="#f48a2c"/>
<circle cx="290.50" cy="79.22" r="0.60" fill="#f7b755"/>
<circle cx="308.73" cy="79.22" r="0.85" fill="#f8ac44"/>
<circle cx="326.96" cy="79.22" r="0.75" fill="#a01d3b"/>
<circle cx="345.19" cy="79.22" r="0.50" fill="#f7a13c"/>
<circle cx="363.42" cy="79.22" r="2.25" fill="#e45927"/>
<circle cx="381.65" cy="79.22" r="0.50" fill="#f8ac44"/>
<circle cx="399.88" cy="79.22" r="2.25" fill="#e45927"/>
<circle cx="418.11" cy="79.22" r="1.75" fill="#c42e34"/>
<circle cx="436.34" cy="79.22" r="1.75" fill="#d6402c"/>
<circle cx="454.57" cy="79.22" r="4.50" fill="#b0203a"/>
<circle cx="472.80" cy="79.22" r="4.25" fill="#a81f3b"/>
<circle cx="491.03" cy="79.22" r="2.00" fill="#f6c86e"/>
<circle cx="509.26" cy="79.22" r="1.50" fill="#f8b24c"/>
<circle cx="527.49" cy="79.22" r="1.75" fill="#f5ce77"/>
<circle cx="545.72" cy="79.22" r="1.00" fill="#f4d988"/>
<circle cx="563.95" cy="79.22" r="0.50" fill="#f48a2c"/>
<circle cx="582.18" cy="79.22" r="0.50" fill="#f2822a"/>
<circle cx="290.50" cy="93.45" r="0.60" fill="#f8ac44"/>
<circle cx="308.73" cy="93.45" r="1.50" fill="#f69b38"/>
<circle cx="326.96" cy="93.45" r="0.75" fill="#981c3c"/>
<circle cx="345.19" cy="93.45" r="0.65" fill="#f59534"/>
<circle cx="363.42" cy="93.45" r="3.25" fill="#b8223a"/>
<circle cx="381.65" cy="93.45" r="0.50" fill="#f7a640"/>
<circle cx="399.88" cy="93.45" r="3.25" fill="#b0203a"/>
<circle cx="418.11" cy="93.45" r="3.00" fill="#901a3c"/>
<circle cx="436.34" cy="93.45" r="3.00" fill="#a81f3b"/>
<circle cx="454.57" cy="93.45" r="4.50" fill="#a81f3b"/>
<circle cx="472.80" cy="93.45" r="4.25" fill="#981c3c"/>
<circle cx="491.03" cy="93.45" r="3.50" fill="#901a3c"/>
<circle cx="509.26" cy="93.45" r="3.25" fill="#df5129"/>
<circle cx="527.49" cy="93.45" r="3.50" fill="#b8223a"/>
<circle cx="545.72" cy="93.45" r="3.00" fill="#df5129"/>
<circle cx="563.95" cy="93.45" r="0.50" fill="#f59030"/>
<circle cx="582.18" cy="93.45" r="0.60" fill="#f2822a"/>
<circle cx="290.50" cy="107.68" r="0.60" fill="#f7b755"/>
<circle cx="308.73" cy="107.68" r="2.00" fill="#f59534"/>
<circle cx="326.96" cy="107.68" r="0.60" fill="#f6c86e"/>
<circle cx="345.19" cy="107.68" r="0.75" fill="#f69b38"/>
<circle cx="363.42" cy="107.68" r="3.75" fill="#77153c"/>
<circle cx="381.65" cy="107.68" r="0.60" fill="#f8ac44"/>
<circle cx="399.88" cy="107.68" r="4.00" fill="#6f133c"/>
<circle cx="418.11" cy="107.68" r="2.50" fill="#b8223a"/>
<circle cx="436.34" cy="107.68" r="3.25" fill="#88183c"/>
<circle cx="454.57" cy="107.68" r="4.50" fill="#a81f3b"/>
<circle cx="472.80" cy="107.68" r="4.25" fill="#a81f3b"/>
<circle cx="491.03" cy="107.68" r="3.25" fill="#f2822a"/>
<circle cx="509.26" cy="107.68" r="3.25" fill="#f69b38"/>
<circle cx="527.49" cy="107.68" r="2.75" fill="#f2822a"/>
<circle cx="545.72" cy="107.68" r="2.25" fill="#f59534"/>
<circle cx="563.95" cy="107.68" r="3.75" fill="#4e0c3b"/>
<circle cx="582.18" cy="107.68" r="4.00" fill="#4e0c3b"/>
<text x="602.30" y="20.60" font-size="8.5" text-anchor="start" fill="#141414">Percent Expr.</text>
<circle cx="606.70" cy="30.70" r="0.50" fill="#111"/>
<text x="615.60" y="33.40" font-size="7.7" text-anchor="start" fill="#141414">0</text>
<circle cx="606.70" cy="40.20" r="1.50" fill="#111"/>
<text x="615.60" y="42.90" font-size="7.7" text-anchor="start" fill="#141414">25</text>
<circle cx="606.70" cy="49.90" r="2.65" fill="#111"/>
<text x="615.60" y="52.60" font-size="7.7" text-anchor="start" fill="#141414">50</text>
<circle cx="606.70" cy="59.30" r="3.60" fill="#111"/>
<text x="615.60" y="62.00" font-size="7.7" text-anchor="start" fill="#141414">75</text>
<text x="602.00" y="74.90" font-size="8.5" text-anchor="start" fill="#141414">Average Expr.</text>
<defs><linearGradient id="gb" x1="0" y1="0" x2="0" y2="1">
<stop offset="0.000" stop-color="#4e0c3b"/>
<stop offset="0.050" stop-color="#5f103b"/>
<stop offset="0.100" stop-color="#70133c"/>
<stop offset="0.150" stop-color="#81173c"/>
<stop offset="0.200" stop-color="#921a3c"/>
<stop offset="0.250" stop-color="#a31e3b"/>
<stop offset="0.300" stop-color="#b3213a"/>
<stop offset="0.350" stop-color="#c12b36"/>
<stop offset="0.400" stop-color="#cd3730"/>
<stop offset="0.450" stop-color="#d9452b"/>
<stop offset="0.500" stop-color="#e25728"/>
<stop offset="0.550" stop-color="#ec6824"/>
<stop offset="0.600" stop-color="#f07928"/>
<stop offset="0.650" stop-color="#f4892c"/>
<stop offset="0.700" stop-color="#f59534"/>
<stop offset="0.750" stop-color="#f7a13c"/>
<stop offset="0.800" stop-color="#f8ad45"/>
<stop offset="0.850" stop-color="#f7b857"/>
<stop offset="0.900" stop-color="#f6c468"/>
<stop offset="0.950" stop-color="#f5d07a"/>
<stop offset="1.000" stop-color="#f4db8b"/>
</linearGradient></defs>
<rect x="602.10" y="80.90" width="9.60" height="47.80" fill="url(#gb)"/>
<line x1="602.10" y1="84.40" x2="604.00" y2="84.40" stroke="#fff" stroke-width="0.6"/>
<line x1="609.80" y1="84.40" x2="611.70" y2="84.40" stroke="#fff" stroke-width="0.6"/>
<text x="615.50" y="87.10" font-size="7.7" text-anchor="start" fill="#141414">2</text>
<line x1="602.10" y1="95.90" x2="604.00" y2="95.90" stroke="#fff" stroke-width="0.6"/>
<line x1="609.80" y1="95.90" x2="611.70" y2="95.90" stroke="#fff" stroke-width="0.6"/>
<text x="615.50" y="98.60" font-size="7.7" text-anchor="start" fill="#141414">1</text>
<line x1="602.10" y1="107.50" x2="604.00" y2="107.50" stroke="#fff" stroke-width="0.6"/>
<line x1="609.80" y1="107.50" x2="611.70" y2="107.50" stroke="#fff" stroke-width="0.6"/>
<text x="615.50" y="110.20" font-size="7.7" text-anchor="start" fill="#141414">0</text>
<line x1="602.10" y1="119.00" x2="604.00" y2="119.00" stroke="#fff" stroke-width="0.6"/>
<line x1="609.80" y1="119.00" x2="611.70" y2="119.00" stroke="#fff" stroke-width="0.6"/>
<text x="614.40" y="121.70" font-size="7.7" text-anchor="start" fill="#141414">&#8722;1</text>
<text x="0.30" y="165.70" font-size="13.5" text-anchor="start" font-weight="bold" fill="#1a1a1a">c</text>
<line x1="39.50" y1="178.80" x2="39.50" y2="318.40" stroke="#333" stroke-width="0.8"/>
<line x1="39.10" y1="318.40" x2="202.80" y2="318.40" stroke="#333" stroke-width="0.8"/>
<line x1="37.30" y1="311.80" x2="39.50" y2="311.80" stroke="#333" stroke-width="0.7"/>
<text x="36.80" y="314.40" font-size="7.5" text-anchor="end" fill="#222">0</text>
<line x1="37.30" y1="280.21" x2="39.50" y2="280.21" stroke="#333" stroke-width="0.7"/>
<text x="36.80" y="282.81" font-size="7.5" text-anchor="end" fill="#222">25</text>
<line x1="37.30" y1="248.62" x2="39.50" y2="248.62" stroke="#333" stroke-width="0.7"/>
<text x="36.80" y="251.22" font-size="7.5" text-anchor="end" fill="#222">50</text>
<line x1="37.30" y1="217.03" x2="39.50" y2="217.03" stroke="#333" stroke-width="0.7"/>
<text x="36.80" y="219.63" font-size="7.5" text-anchor="end" fill="#222">75</text>
<line x1="37.30" y1="185.44" x2="39.50" y2="185.44" stroke="#333" stroke-width="0.7"/>
<text x="36.80" y="188.04" font-size="7.5" text-anchor="end" fill="#222">100</text>
<line x1="47.10" y1="318.40" x2="47.10" y2="320.60" stroke="#333" stroke-width="0.7"/>
<text x="45.90" y="327.40" font-size="7.5" text-anchor="middle" fill="#222">&#8722;1.0</text>
<line x1="84.20" y1="318.40" x2="84.20" y2="320.60" stroke="#333" stroke-width="0.7"/>
<text x="83.00" y="327.40" font-size="7.5" text-anchor="middle" fill="#222">&#8722;0.5</text>
<line x1="121.30" y1="318.40" x2="121.30" y2="320.60" stroke="#333" stroke-width="0.7"/>
<text x="120.10" y="327.40" font-size="7.5" text-anchor="middle" fill="#222">0.0</text>
<line x1="158.40" y1="318.40" x2="158.40" y2="320.60" stroke="#333" stroke-width="0.7"/>
<text x="157.20" y="327.40" font-size="7.5" text-anchor="middle" fill="#222">0.5</text>
<line x1="195.50" y1="318.40" x2="195.50" y2="320.60" stroke="#333" stroke-width="0.7"/>
<text x="194.30" y="327.40" font-size="7.5" text-anchor="middle" fill="#222">1.0</text>
<text x="119.30" y="336.90" font-size="8.6" text-anchor="middle" fill="#141414">log2 Fold Change</text>
<text x="24.30" y="239.50" font-size="8.8" text-anchor="middle" fill="#141414" transform="rotate(-90 24.30 239.50)">-log10 FDR</text>
<line x1="84.20" y1="179.50" x2="84.20" y2="318.00" stroke="#333" stroke-width="0.8" stroke-dasharray="1.2 2.9"/>
<line x1="158.40" y1="179.50" x2="158.40" y2="318.00" stroke="#333" stroke-width="0.8" stroke-dasharray="1.2 2.9"/>
<line x1="41.00" y1="309.40" x2="203.00" y2="309.40" stroke="#333" stroke-width="0.8" stroke-dasharray="1.2 2.9"/>
<path d="M99,297 L104,300 L110,302.5 L117,305 L120,305 L121.5,308.5 L120,312.6 L113,312.8 L107,309.5 L102,305.5 L99,301 Z" fill="#454545" stroke="#454545" stroke-width="1.2" stroke-linejoin="round"/>
<path d="M118.5,306 L122,300 L125,295.5 L129,291.5 L134,288.5 L139,287.5 L143.5,290 L144.5,294.5 L140,302.5 L134,308.5 L127,312 L120,313 Z" fill="#454545" stroke="#454545" stroke-width="1.2" stroke-linejoin="round"/>
<g fill="#454545">
<circle cx="115.7" cy="307.6" r="1.05"/>
<circle cx="118.5" cy="308.5" r="1.05"/>
<circle cx="103.6" cy="299.0" r="1.05"/>
<circle cx="112.0" cy="309.3" r="1.05"/>
<circle cx="98.0" cy="294.4" r="1.05"/>
<circle cx="105.2" cy="307.3" r="1.05"/>
<circle cx="98.9" cy="294.2" r="1.05"/>
<circle cx="113.9" cy="303.9" r="1.05"/>
<circle cx="103.2" cy="305.0" r="1.05"/>
<circle cx="113.0" cy="308.6" r="1.05"/>
<circle cx="103.8" cy="300.6" r="1.05"/>
<circle cx="101.4" cy="296.5" r="1.05"/>
<circle cx="110.6" cy="311.0" r="1.05"/>
<circle cx="117.3" cy="308.1" r="1.05"/>
<circle cx="99.6" cy="298.9" r="1.05"/>
<circle cx="105.4" cy="303.7" r="1.05"/>
<circle cx="109.5" cy="305.6" r="1.05"/>
<circle cx="106.8" cy="304.4" r="1.05"/>
<circle cx="93.2" cy="289.6" r="1.05"/>
<circle cx="109.7" cy="309.7" r="1.05"/>
<circle cx="104.3" cy="304.1" r="1.05"/>
<circle cx="115.2" cy="311.2" r="1.05"/>
<circle cx="103.1" cy="304.8" r="1.05"/>
<circle cx="106.9" cy="305.3" r="1.05"/>
<circle cx="106.1" cy="308.2" r="1.05"/>
<circle cx="106.5" cy="301.8" r="1.05"/>
<circle cx="108.3" cy="303.9" r="1.05"/>
<circle cx="114.0" cy="311.6" r="1.05"/>
<circle cx="100.7" cy="297.6" r="1.05"/>
<circle cx="93.9" cy="290.8" r="1.05"/>
<circle cx="100.1" cy="298.8" r="1.05"/>
<circle cx="97.7" cy="294.3" r="1.05"/>
<circle cx="98.3" cy="296.9" r="1.05"/>
<circle cx="110.0" cy="310.7" r="1.05"/>
<circle cx="101.5" cy="302.6" r="1.05"/>
<circle cx="114.4" cy="308.0" r="1.05"/>
<circle cx="118.3" cy="311.4" r="1.05"/>
<circle cx="97.4" cy="296.5" r="1.05"/>
<circle cx="113.9" cy="305.0" r="1.05"/>
<circle cx="97.6" cy="294.6" r="1.05"/>
<circle cx="112.1" cy="307.0" r="1.05"/>
<circle cx="101.9" cy="297.5" r="1.05"/>
<circle cx="108.4" cy="302.0" r="1.05"/>
<circle cx="108.7" cy="307.5" r="1.05"/>
<circle cx="99.4" cy="294.9" r="1.05"/>
<circle cx="94.1" cy="289.8" r="1.05"/>
<circle cx="99.8" cy="301.5" r="1.05"/>
<circle cx="102.8" cy="301.1" r="1.05"/>
<circle cx="113.7" cy="312.6" r="1.05"/>
<circle cx="106.4" cy="303.4" r="1.05"/>
<circle cx="118.5" cy="307.3" r="1.05"/>
<circle cx="101.8" cy="301.4" r="1.05"/>
<circle cx="107.4" cy="305.6" r="1.05"/>
<circle cx="94.3" cy="291.3" r="1.05"/>
<circle cx="101.2" cy="300.8" r="1.05"/>
<circle cx="115.4" cy="311.8" r="1.05"/>
<circle cx="113.6" cy="305.8" r="1.05"/>
<circle cx="116.2" cy="311.7" r="1.05"/>
<circle cx="104.5" cy="300.5" r="1.05"/>
<circle cx="95.7" cy="295.2" r="1.05"/>
<circle cx="101.6" cy="297.9" r="1.05"/>
<circle cx="101.0" cy="298.8" r="1.05"/>
<circle cx="113.5" cy="308.4" r="1.05"/>
<circle cx="119.7" cy="308.7" r="1.05"/>
<circle cx="108.7" cy="301.2" r="1.05"/>
<circle cx="98.9" cy="300.0" r="1.05"/>
<circle cx="116.9" cy="306.7" r="1.05"/>
<circle cx="107.9" cy="306.4" r="1.05"/>
<circle cx="99.1" cy="296.9" r="1.05"/>
<circle cx="103.3" cy="299.6" r="1.05"/>
<circle cx="102.3" cy="298.7" r="1.05"/>
<circle cx="106.6" cy="304.0" r="1.05"/>
<circle cx="102.7" cy="303.9" r="1.05"/>
<circle cx="116.2" cy="306.4" r="1.05"/>
<circle cx="106.4" cy="307.7" r="1.05"/>
<circle cx="108.7" cy="307.4" r="1.05"/>
<circle cx="102.1" cy="298.9" r="1.05"/>
<circle cx="119.4" cy="307.9" r="1.05"/>
<circle cx="95.0" cy="292.0" r="1.05"/>
<circle cx="109.3" cy="302.2" r="1.05"/>
<circle cx="106.4" cy="301.9" r="1.05"/>
<circle cx="99.5" cy="297.9" r="1.05"/>
<circle cx="108.5" cy="306.2" r="1.05"/>
<circle cx="107.4" cy="306.8" r="1.05"/>
<circle cx="117.5" cy="308.5" r="1.05"/>
<circle cx="101.3" cy="301.0" r="1.05"/>
<circle cx="98.4" cy="296.4" r="1.05"/>
<circle cx="106.4" cy="305.3" r="1.05"/>
<circle cx="95.2" cy="292.1" r="1.05"/>
<circle cx="96.6" cy="296.6" r="1.05"/>
<circle cx="113.9" cy="306.4" r="1.05"/>
<circle cx="95.2" cy="289.9" r="1.05"/>
<circle cx="106.3" cy="300.2" r="1.05"/>
<circle cx="100.6" cy="300.5" r="1.05"/>
<circle cx="109.7" cy="306.1" r="1.05"/>
<circle cx="102.4" cy="297.9" r="1.05"/>
<circle cx="95.8" cy="292.6" r="1.05"/>
<circle cx="93.2" cy="287.0" r="1.05"/>
<circle cx="102.4" cy="301.4" r="1.05"/>
<circle cx="116.6" cy="304.7" r="1.05"/>
<circle cx="107.2" cy="301.1" r="1.05"/>
<circle cx="93.3" cy="288.4" r="1.05"/>
<circle cx="103.2" cy="304.1" r="1.05"/>
<circle cx="105.2" cy="299.0" r="1.05"/>
<circle cx="113.5" cy="308.4" r="1.05"/>
<circle cx="120.4" cy="306.8" r="1.05"/>
<circle cx="116.2" cy="311.1" r="1.05"/>
<circle cx="93.7" cy="291.3" r="1.05"/>
<circle cx="113.3" cy="306.3" r="1.05"/>
<circle cx="115.8" cy="312.1" r="1.05"/>
<circle cx="115.1" cy="311.1" r="1.05"/>
<circle cx="100.5" cy="301.1" r="1.05"/>
<circle cx="98.6" cy="297.0" r="1.05"/>
<circle cx="102.3" cy="303.7" r="1.05"/>
<circle cx="107.3" cy="308.2" r="1.05"/>
<circle cx="110.3" cy="305.2" r="1.05"/>
<circle cx="115.1" cy="306.9" r="1.05"/>
<circle cx="106.1" cy="307.3" r="1.05"/>
<circle cx="118.6" cy="312.2" r="1.05"/>
<circle cx="105.6" cy="300.3" r="1.05"/>
<circle cx="120.4" cy="309.9" r="1.05"/>
<circle cx="104.8" cy="304.9" r="1.05"/>
<circle cx="97.7" cy="298.3" r="1.05"/>
<circle cx="119.4" cy="306.0" r="1.05"/>
<circle cx="116.9" cy="307.9" r="1.05"/>
<circle cx="118.5" cy="308.4" r="1.05"/>
<circle cx="118.9" cy="311.5" r="1.05"/>
<circle cx="119.0" cy="307.6" r="1.05"/>
<circle cx="108.7" cy="301.0" r="1.05"/>
<circle cx="109.6" cy="307.6" r="1.05"/>
<circle cx="100.3" cy="298.1" r="1.05"/>
<circle cx="109.5" cy="306.4" r="1.05"/>
<circle cx="112.9" cy="304.2" r="1.05"/>
<circle cx="98.1" cy="294.7" r="1.05"/>
<circle cx="115.2" cy="312.2" r="1.05"/>
<circle cx="108.4" cy="301.1" r="1.05"/>
<circle cx="121.0" cy="307.4" r="1.05"/>
<circle cx="108.5" cy="304.8" r="1.05"/>
<circle cx="120.0" cy="311.8" r="1.05"/>
<circle cx="103.4" cy="303.9" r="1.05"/>
<circle cx="146.0" cy="288.2" r="1.05"/>
<circle cx="126.4" cy="309.8" r="1.05"/>
<circle cx="124.6" cy="302.1" r="1.05"/>
<circle cx="137.5" cy="303.3" r="1.05"/>
<circle cx="148.8" cy="279.3" r="1.05"/>
<circle cx="138.8" cy="301.8" r="1.05"/>
<circle cx="144.6" cy="285.7" r="1.05"/>
<circle cx="150.1" cy="286.6" r="1.05"/>
<circle cx="131.0" cy="302.3" r="1.05"/>
<circle cx="150.7" cy="284.8" r="1.05"/>
<circle cx="127.3" cy="291.2" r="1.05"/>
<circle cx="141.6" cy="296.6" r="1.05"/>
<circle cx="150.7" cy="284.0" r="1.05"/>
<circle cx="142.7" cy="290.9" r="1.05"/>
<circle cx="151.2" cy="284.3" r="1.05"/>
<circle cx="134.1" cy="301.9" r="1.05"/>
<circle cx="128.4" cy="309.3" r="1.05"/>
<circle cx="146.4" cy="287.0" r="1.05"/>
<circle cx="139.4" cy="300.7" r="1.05"/>
<circle cx="122.8" cy="300.5" r="1.05"/>
<circle cx="121.7" cy="312.5" r="1.05"/>
<circle cx="145.0" cy="280.6" r="1.05"/>
<circle cx="133.1" cy="306.8" r="1.05"/>
<circle cx="120.2" cy="311.1" r="1.05"/>
<circle cx="144.9" cy="287.1" r="1.05"/>
<circle cx="119.6" cy="311.5" r="1.05"/>
<circle cx="135.0" cy="305.7" r="1.05"/>
<circle cx="141.0" cy="293.2" r="1.05"/>
<circle cx="136.3" cy="286.9" r="1.05"/>
<circle cx="137.0" cy="284.9" r="1.05"/>
<circle cx="121.8" cy="306.7" r="1.05"/>
<circle cx="141.3" cy="298.6" r="1.05"/>
<circle cx="127.1" cy="292.3" r="1.05"/>
<circle cx="149.2" cy="286.7" r="1.05"/>
<circle cx="146.8" cy="281.2" r="1.05"/>
<circle cx="134.4" cy="305.3" r="1.05"/>
<circle cx="129.5" cy="296.6" r="1.05"/>
<circle cx="144.0" cy="291.3" r="1.05"/>
<circle cx="135.5" cy="298.1" r="1.05"/>
<circle cx="130.7" cy="289.1" r="1.05"/>
<circle cx="150.2" cy="283.0" r="1.05"/>
<circle cx="134.4" cy="294.1" r="1.05"/>
<circle cx="143.5" cy="278.8" r="1.05"/>
<circle cx="136.0" cy="284.7" r="1.05"/>
<circle cx="145.7" cy="285.1" r="1.05"/>
<circle cx="130.1" cy="307.0" r="1.05"/>
<circle cx="127.3" cy="291.8" r="1.05"/>
<circle cx="147.3" cy="291.2" r="1.05"/>
<circle cx="141.3" cy="282.7" r="1.05"/>
<circle cx="132.2" cy="299.3" r="1.05"/>
<circle cx="130.6" cy="295.0" r="1.05"/>
<circle cx="132.3" cy="293.8" r="1.05"/>
<circle cx="148.3" cy="292.1" r="1.05"/>
<circle cx="132.5" cy="289.5" r="1.05"/>
<circle cx="121.2" cy="301.3" r="1.05"/>
<circle cx="127.8" cy="302.4" r="1.05"/>
<circle cx="125.9" cy="306.0" r="1.05"/>
<circle cx="151.4" cy="288.9" r="1.05"/>
<circle cx="139.4" cy="293.5" r="1.05"/>
<circle cx="129.8" cy="309.1" r="1.05"/>
<circle cx="129.2" cy="305.6" r="1.05"/>
<circle cx="144.7" cy="281.3" r="1.05"/>
<circle cx="147.4" cy="290.7" r="1.05"/>
<circle cx="131.1" cy="293.2" r="1.05"/>
<circle cx="132.2" cy="292.3" r="1.05"/>
<circle cx="144.8" cy="288.4" r="1.05"/>
<circle cx="123.6" cy="304.3" r="1.05"/>
<circle cx="133.2" cy="296.5" r="1.05"/>
<circle cx="124.1" cy="301.4" r="1.05"/>
<circle cx="139.8" cy="300.0" r="1.05"/>
<circle cx="131.0" cy="300.3" r="1.05"/>
<circle cx="146.9" cy="287.2" r="1.05"/>
<circle cx="140.2" cy="294.3" r="1.05"/>
<circle cx="147.7" cy="283.8" r="1.05"/>
<circle cx="133.8" cy="301.4" r="1.05"/>
<circle cx="132.6" cy="298.1" r="1.05"/>
<circle cx="138.1" cy="281.9" r="1.05"/>
<circle cx="140.5" cy="297.2" r="1.05"/>
<circle cx="121.1" cy="307.1" r="1.05"/>
<circle cx="138.1" cy="300.1" r="1.05"/>
<circle cx="138.3" cy="292.3" r="1.05"/>
<circle cx="132.9" cy="303.4" r="1.05"/>
<circle cx="127.4" cy="299.0" r="1.05"/>
<circle cx="133.3" cy="283.8" r="1.05"/>
<circle cx="123.4" cy="304.7" r="1.05"/>
<circle cx="133.3" cy="293.0" r="1.05"/>
<circle cx="130.7" cy="299.1" r="1.05"/>
<circle cx="128.8" cy="298.8" r="1.05"/>
<circle cx="135.2" cy="295.8" r="1.05"/>
<circle cx="136.6" cy="292.0" r="1.05"/>
<circle cx="131.4" cy="304.4" r="1.05"/>
<circle cx="133.7" cy="306.4" r="1.05"/>
<circle cx="128.7" cy="291.8" r="1.05"/>
<circle cx="143.1" cy="291.4" r="1.05"/>
<circle cx="143.5" cy="285.5" r="1.05"/>
<circle cx="130.9" cy="304.9" r="1.05"/>
<circle cx="133.4" cy="295.5" r="1.05"/>
<circle cx="123.6" cy="303.5" r="1.05"/>
<circle cx="144.6" cy="291.5" r="1.05"/>
<circle cx="127.0" cy="309.9" r="1.05"/>
<circle cx="133.2" cy="296.1" r="1.05"/>
<circle cx="136.3" cy="281.4" r="1.05"/>
<circle cx="140.6" cy="285.6" r="1.05"/>
<circle cx="136.1" cy="294.2" r="1.05"/>
<circle cx="130.6" cy="301.2" r="1.05"/>
<circle cx="134.6" cy="297.3" r="1.05"/>
<circle cx="124.3" cy="309.8" r="1.05"/>
<circle cx="124.1" cy="297.4" r="1.05"/>
<circle cx="130.6" cy="297.1" r="1.05"/>
<circle cx="141.0" cy="285.7" r="1.05"/>
<circle cx="132.7" cy="298.8" r="1.05"/>
<circle cx="125.4" cy="304.3" r="1.05"/>
<circle cx="137.2" cy="300.9" r="1.05"/>
<circle cx="151.9" cy="286.0" r="1.05"/>
<circle cx="125.7" cy="301.5" r="1.05"/>
<circle cx="136.4" cy="291.8" r="1.05"/>
<circle cx="136.6" cy="288.0" r="1.05"/>
<circle cx="144.0" cy="289.0" r="1.05"/>
<circle cx="122.6" cy="311.3" r="1.05"/>
<circle cx="131.4" cy="291.8" r="1.05"/>
<circle cx="145.2" cy="294.1" r="1.05"/>
<circle cx="144.4" cy="289.1" r="1.05"/>
<circle cx="125.3" cy="303.0" r="1.05"/>
<circle cx="141.7" cy="297.9" r="1.05"/>
<circle cx="137.2" cy="287.1" r="1.05"/>
<circle cx="144.5" cy="283.2" r="1.05"/>
<circle cx="127.0" cy="298.4" r="1.05"/>
<circle cx="122.4" cy="304.4" r="1.05"/>
<circle cx="138.7" cy="298.7" r="1.05"/>
<circle cx="147.3" cy="289.4" r="1.05"/>
<circle cx="131.3" cy="306.7" r="1.05"/>
<circle cx="142.5" cy="288.7" r="1.05"/>
<circle cx="146.5" cy="291.7" r="1.05"/>
<circle cx="144.5" cy="294.7" r="1.05"/>
<circle cx="130.5" cy="293.1" r="1.05"/>
<circle cx="141.1" cy="297.5" r="1.05"/>
<circle cx="141.1" cy="292.7" r="1.05"/>
<circle cx="126.8" cy="310.9" r="1.05"/>
<circle cx="143.8" cy="281.5" r="1.05"/>
<circle cx="127.3" cy="298.5" r="1.05"/>
<circle cx="122.9" cy="301.2" r="1.05"/>
<circle cx="140.9" cy="294.0" r="1.05"/>
<circle cx="131.6" cy="297.2" r="1.05"/>
<circle cx="149.0" cy="283.3" r="1.05"/>
<circle cx="126.4" cy="295.0" r="1.05"/>
<circle cx="134.7" cy="301.7" r="1.05"/>
<circle cx="127.5" cy="306.6" r="1.05"/>
<circle cx="120.9" cy="303.5" r="1.05"/>
<circle cx="124.7" cy="295.0" r="1.05"/>
<circle cx="128.8" cy="294.1" r="1.05"/>
<circle cx="124.7" cy="299.9" r="1.05"/>
<circle cx="131.6" cy="298.6" r="1.05"/>
<circle cx="128.3" cy="304.0" r="1.05"/>
<circle cx="136.2" cy="294.8" r="1.05"/>
<circle cx="149.3" cy="285.3" r="1.05"/>
<circle cx="139.0" cy="285.0" r="1.05"/>
<circle cx="127.7" cy="299.6" r="1.05"/>
<circle cx="132.8" cy="293.3" r="1.05"/>
<circle cx="120.8" cy="308.6" r="1.05"/>
<circle cx="140.7" cy="290.3" r="1.05"/>
<circle cx="132.6" cy="308.1" r="1.05"/>
<circle cx="139.3" cy="289.0" r="1.05"/>
<circle cx="123.1" cy="312.4" r="1.05"/>
<circle cx="137.8" cy="301.8" r="1.05"/>
<circle cx="132.7" cy="290.4" r="1.05"/>
<circle cx="126.2" cy="295.1" r="1.05"/>
<circle cx="147.7" cy="278.8" r="1.05"/>
<circle cx="137.5" cy="297.4" r="1.05"/>
<circle cx="137.5" cy="292.7" r="1.05"/>
<circle cx="131.7" cy="299.3" r="1.05"/>
<circle cx="140.1" cy="287.7" r="1.05"/>
<circle cx="126.6" cy="308.7" r="1.05"/>
<circle cx="137.1" cy="287.4" r="1.05"/>
<circle cx="149.3" cy="290.7" r="1.05"/>
<circle cx="128.1" cy="303.6" r="1.05"/>
<circle cx="127.7" cy="310.3" r="1.05"/>
<circle cx="147.3" cy="290.2" r="1.05"/>
<circle cx="141.5" cy="279.2" r="1.05"/>
<circle cx="119.6" cy="304.6" r="1.05"/>
<circle cx="145.8" cy="287.2" r="1.05"/>
<circle cx="137.9" cy="289.9" r="1.05"/>
<circle cx="123.7" cy="309.7" r="1.05"/>
<circle cx="128.0" cy="302.5" r="1.05"/>
<circle cx="146.7" cy="282.8" r="1.05"/>
<circle cx="131.0" cy="293.1" r="1.05"/>
<circle cx="131.4" cy="295.4" r="1.05"/>
<circle cx="136.2" cy="293.9" r="1.05"/>
<circle cx="142.8" cy="293.6" r="1.05"/>
<circle cx="139.6" cy="299.0" r="1.05"/>
<circle cx="128.6" cy="309.1" r="1.05"/>
<circle cx="124.5" cy="298.9" r="1.05"/>
<circle cx="125.5" cy="302.0" r="1.05"/>
<circle cx="147.1" cy="292.4" r="1.05"/>
<circle cx="130.6" cy="301.6" r="1.05"/>
<circle cx="150.1" cy="288.2" r="1.05"/>
<circle cx="134.7" cy="294.5" r="1.05"/>
<circle cx="142.9" cy="288.6" r="1.05"/>
<circle cx="125.1" cy="299.9" r="1.05"/>
<circle cx="130.1" cy="289.0" r="1.05"/>
<circle cx="143.8" cy="292.7" r="1.05"/>
<circle cx="119.6" cy="305.7" r="1.05"/>
<circle cx="135.7" cy="300.6" r="1.05"/>
<circle cx="144.0" cy="288.2" r="1.05"/>
<circle cx="139.9" cy="289.3" r="1.05"/>
<circle cx="122.6" cy="308.2" r="1.05"/>
<circle cx="125.4" cy="312.2" r="1.05"/>
<circle cx="134.8" cy="287.3" r="1.05"/>
<circle cx="134.5" cy="293.8" r="1.05"/>
<circle cx="125.8" cy="308.1" r="1.05"/>
<circle cx="149.5" cy="284.0" r="1.05"/>
<circle cx="131.2" cy="295.0" r="1.05"/>
<circle cx="138.8" cy="287.5" r="1.05"/>
<circle cx="130.0" cy="296.3" r="1.05"/>
<circle cx="134.3" cy="304.6" r="1.05"/>
<circle cx="129.5" cy="306.9" r="1.05"/>
<circle cx="142.4" cy="294.2" r="1.05"/>
<circle cx="129.4" cy="298.2" r="1.05"/>
<circle cx="148.4" cy="281.0" r="1.05"/>
<circle cx="136.1" cy="301.9" r="1.05"/>
<circle cx="133.9" cy="294.9" r="1.05"/>
<circle cx="148.4" cy="281.8" r="1.05"/>
<circle cx="122.6" cy="303.5" r="1.05"/>
<circle cx="128.5" cy="290.3" r="1.05"/>
<circle cx="125.3" cy="304.0" r="1.05"/>
<circle cx="139.6" cy="293.6" r="1.05"/>
<circle cx="138.1" cy="283.8" r="1.05"/>
<circle cx="142.2" cy="279.0" r="1.05"/>
<circle cx="139.9" cy="290.7" r="1.05"/>
<circle cx="129.4" cy="307.4" r="1.05"/>
<circle cx="136.7" cy="295.8" r="1.05"/>
<circle cx="146.2" cy="286.4" r="1.05"/>
<circle cx="122.4" cy="302.8" r="1.05"/>
<circle cx="141.5" cy="292.1" r="1.05"/>
<circle cx="128.2" cy="305.3" r="1.05"/>
<circle cx="129.8" cy="294.0" r="1.05"/>
<circle cx="127.1" cy="306.6" r="1.05"/>
<circle cx="123.7" cy="299.8" r="1.05"/>
<circle cx="135.3" cy="302.6" r="1.05"/>
<circle cx="144.0" cy="288.4" r="1.05"/>
<circle cx="142.6" cy="296.9" r="1.05"/>
<circle cx="136.4" cy="291.0" r="1.05"/>
<circle cx="133.4" cy="291.6" r="1.05"/>
<circle cx="141.5" cy="296.5" r="1.05"/>
<circle cx="138.2" cy="285.1" r="1.05"/>
<circle cx="142.7" cy="293.2" r="1.05"/>
<circle cx="125.6" cy="302.7" r="1.05"/>
<circle cx="133.7" cy="298.9" r="1.05"/>
<circle cx="125.0" cy="307.1" r="1.05"/>
<circle cx="138.9" cy="280.2" r="1.05"/>
<circle cx="137.5" cy="300.0" r="1.05"/>
<circle cx="132.3" cy="307.9" r="1.05"/>
<circle cx="131.1" cy="290.8" r="1.05"/>
<circle cx="133.6" cy="302.5" r="1.05"/>
<circle cx="146.0" cy="284.6" r="1.05"/>
<circle cx="135.0" cy="282.2" r="1.05"/>
<circle cx="137.4" cy="295.1" r="1.05"/>
<circle cx="143.6" cy="280.2" r="1.05"/>
<circle cx="138.8" cy="289.8" r="1.05"/>
<circle cx="138.4" cy="287.5" r="1.05"/>
<circle cx="128.2" cy="300.8" r="1.05"/>
<circle cx="133.1" cy="297.8" r="1.05"/>
<circle cx="145.4" cy="278.9" r="1.05"/>
<circle cx="147.6" cy="281.9" r="1.05"/>
<circle cx="135.6" cy="293.4" r="1.05"/>
<circle cx="136.7" cy="282.1" r="1.05"/>
<circle cx="128.8" cy="302.6" r="1.05"/>
<circle cx="143.5" cy="286.6" r="1.05"/>
<circle cx="125.6" cy="304.2" r="1.05"/>
<circle cx="137.7" cy="298.8" r="1.05"/>
<circle cx="144.7" cy="287.5" r="1.05"/>
<circle cx="120.1" cy="306.2" r="1.05"/>
<circle cx="138.7" cy="286.1" r="1.05"/>
<circle cx="144.9" cy="286.9" r="1.05"/>
<circle cx="134.4" cy="302.2" r="1.05"/>
<circle cx="132.4" cy="296.6" r="1.05"/>
<circle cx="133.1" cy="300.1" r="1.05"/>
<circle cx="148.4" cy="286.1" r="1.05"/>
<circle cx="127.4" cy="296.6" r="1.05"/>
<circle cx="131.5" cy="290.0" r="1.05"/>
<circle cx="128.9" cy="288.0" r="1.05"/>
<circle cx="147.9" cy="280.3" r="1.05"/>
<circle cx="132.7" cy="294.9" r="1.05"/>
<circle cx="136.2" cy="281.9" r="1.05"/>
<circle cx="130.6" cy="305.3" r="1.05"/>
<circle cx="133.7" cy="285.3" r="1.05"/>
<circle cx="129.3" cy="287.6" r="1.05"/>
<circle cx="143.7" cy="294.6" r="1.05"/>
<circle cx="135.3" cy="288.9" r="1.05"/>
<circle cx="143.8" cy="294.0" r="1.05"/>
<circle cx="144.4" cy="283.0" r="1.05"/>
<circle cx="141.1" cy="298.1" r="1.05"/>
<circle cx="123.9" cy="301.2" r="1.05"/>
<circle cx="128.7" cy="304.5" r="1.05"/>
<circle cx="120.3" cy="303.3" r="1.05"/>
<circle cx="148.6" cy="288.2" r="1.05"/>
<circle cx="130.2" cy="287.3" r="1.05"/>
<circle cx="143.2" cy="297.6" r="1.05"/>
<circle cx="136.5" cy="301.4" r="1.05"/>
<circle cx="130.4" cy="293.9" r="1.05"/>
<circle cx="137.5" cy="283.9" r="1.05"/>
<circle cx="140.0" cy="289.9" r="1.05"/>
<circle cx="137.5" cy="288.5" r="1.05"/>
<circle cx="138.8" cy="282.3" r="1.05"/>
<circle cx="139.6" cy="294.0" r="1.05"/>
<circle cx="140.5" cy="297.9" r="1.05"/>
<circle cx="139.8" cy="293.6" r="1.05"/>
<circle cx="131.4" cy="286.3" r="1.05"/>
<circle cx="120.5" cy="310.0" r="1.05"/>
<circle cx="147.6" cy="285.9" r="1.05"/>
<circle cx="142.6" cy="281.4" r="1.05"/>
<circle cx="145.3" cy="278.6" r="1.05"/>
<circle cx="150.1" cy="285.1" r="1.05"/>
<circle cx="125.1" cy="309.4" r="1.05"/>
<circle cx="152.2" cy="282.9" r="1.05"/>
<circle cx="134.2" cy="293.2" r="1.05"/>
<circle cx="127.0" cy="295.1" r="1.05"/>
<circle cx="126.5" cy="295.0" r="1.05"/>
<circle cx="134.2" cy="294.0" r="1.05"/>
<circle cx="128.1" cy="293.6" r="1.05"/>
<circle cx="127.9" cy="308.6" r="1.05"/>
<circle cx="101.2" cy="240.5" r="1.05"/>
<circle cx="104.1" cy="248.0" r="1.05"/>
<circle cx="102.6" cy="261.4" r="1.05"/>
<circle cx="94.6" cy="267.7" r="1.05"/>
<circle cx="85.8" cy="269.4" r="1.05"/>
<circle cx="98.2" cy="269.4" r="1.05"/>
<circle cx="107.0" cy="273.8" r="1.05"/>
<circle cx="98.7" cy="276.4" r="1.05"/>
<circle cx="102.6" cy="284.0" r="1.05"/>
<circle cx="87.6" cy="295.7" r="1.05"/>
<circle cx="90.0" cy="283.0" r="1.05"/>
<circle cx="88.5" cy="295.7" r="1.05"/>
<circle cx="107.4" cy="274.1" r="1.05"/>
<circle cx="102.8" cy="284.0" r="1.05"/>
<circle cx="109.5" cy="287.0" r="1.05"/>
<circle cx="112.5" cy="289.1" r="1.05"/>
<circle cx="136.0" cy="273.8" r="1.05"/>
<circle cx="138.6" cy="276.8" r="1.05"/>
<circle cx="135.0" cy="277.1" r="1.05"/>
<circle cx="133.5" cy="282.4" r="1.05"/>
<circle cx="150.3" cy="294.7" r="1.05"/>
<circle cx="154.4" cy="289.6" r="1.05"/>
<circle cx="156.0" cy="278.3" r="1.05"/>
<circle cx="137.7" cy="273.5" r="1.05"/>
<circle cx="147.2" cy="251.6" r="1.05"/>
<circle cx="151.5" cy="253.4" r="1.05"/>
<circle cx="146.4" cy="259.2" r="1.05"/>
<circle cx="151.5" cy="264.3" r="1.05"/>
<circle cx="155.9" cy="267.2" r="1.05"/>
<circle cx="157.4" cy="273.5" r="1.05"/>
<circle cx="154.5" cy="278.2" r="1.05"/>
<circle cx="153.5" cy="270.0" r="1.05"/>
<circle cx="149.0" cy="268.5" r="1.05"/>
<circle cx="144.0" cy="266.0" r="1.05"/>
<circle cx="141.5" cy="270.5" r="1.05"/>
<circle cx="156.5" cy="262.5" r="1.05"/>
<circle cx="83.8" cy="268.5" r="1.05"/>
<circle cx="84.3" cy="282.2" r="1.05"/>
<circle cx="96.0" cy="288.0" r="1.05"/>
<circle cx="93.0" cy="280.5" r="1.05"/>
<circle cx="100.0" cy="286.5" r="1.05"/>
<circle cx="111.0" cy="294.5" r="1.05"/>
<circle cx="115.5" cy="296.5" r="1.05"/>
<circle cx="128.0" cy="288.0" r="1.05"/>
<circle cx="131.0" cy="283.0" r="1.05"/>
<circle cx="125.5" cy="291.0" r="1.05"/>
</g>
<g fill="#fff">
<circle cx="139.3" cy="299.0" r="0.5"/>
<circle cx="133.6" cy="295.2" r="0.5"/>
<circle cx="137.4" cy="289.9" r="0.5"/>
<circle cx="131.8" cy="293.8" r="0.5"/>
<circle cx="136.0" cy="290.1" r="0.5"/>
<circle cx="135.1" cy="289.5" r="0.5"/>
<circle cx="131.6" cy="297.1" r="0.5"/>
<circle cx="138.1" cy="298.4" r="0.5"/>
<circle cx="139.1" cy="297.0" r="0.5"/>
<circle cx="137.1" cy="290.2" r="0.5"/>
<circle cx="138.5" cy="290.6" r="0.5"/>
<circle cx="138.4" cy="299.7" r="0.5"/>
</g>
<circle cx="65.40" cy="201.40" r="1.30" fill="#2f78b8"/>
<circle cx="81.10" cy="207.40" r="1.30" fill="#2f78b8"/>
<circle cx="76.40" cy="253.00" r="1.30" fill="#2f78b8"/>
<circle cx="83.80" cy="267.30" r="1.30" fill="#2f78b8"/>
<circle cx="73.90" cy="276.20" r="1.30" fill="#2f78b8"/>
<circle cx="82.20" cy="275.80" r="1.30" fill="#2f78b8"/>
<text x="48.50" y="198.20" font-size="6.95" text-anchor="start" fill="#2f7cbf">HLA-DRB5</text>
<text x="66.60" y="215.10" font-size="6.95" text-anchor="start" fill="#2f7cbf">TMSB4X</text>
<text x="46.00" y="249.90" font-size="6.95" text-anchor="start" fill="#2f7cbf">ARHGAP24</text>
<text x="61.80" y="265.20" font-size="6.95" text-anchor="start" fill="#2f7cbf">ACTG1</text>
<text x="57.00" y="283.60" font-size="6.95" text-anchor="start" fill="#2f7cbf">JUND</text>
<text x="78.70" y="281.60" font-size="6.95" text-anchor="start" fill="#2f7cbf">KLF6</text>
<circle cx="191.30" cy="200.50" r="1.30" fill="#d7262d"/>
<circle cx="190.40" cy="204.60" r="1.30" fill="#d7262d"/>
<circle cx="185.80" cy="206.00" r="1.30" fill="#d7262d"/>
<circle cx="184.10" cy="208.40" r="1.30" fill="#d7262d"/>
<circle cx="194.80" cy="210.10" r="1.30" fill="#d7262d"/>
<circle cx="182.20" cy="214.80" r="1.30" fill="#d7262d"/>
<circle cx="186.10" cy="223.00" r="1.30" fill="#d7262d"/>
<circle cx="173.20" cy="226.10" r="1.30" fill="#d7262d"/>
<circle cx="170.00" cy="235.20" r="1.30" fill="#d7262d"/>
<circle cx="177.00" cy="236.70" r="1.30" fill="#d7262d"/>
<circle cx="168.90" cy="246.30" r="1.30" fill="#d7262d"/>
<circle cx="175.30" cy="248.30" r="1.30" fill="#d7262d"/>
<circle cx="166.20" cy="253.90" r="1.30" fill="#d7262d"/>
<circle cx="162.10" cy="257.80" r="1.30" fill="#d7262d"/>
<circle cx="166.20" cy="259.60" r="1.30" fill="#d7262d"/>
<circle cx="175.50" cy="258.10" r="1.30" fill="#d7262d"/>
<circle cx="168.00" cy="264.90" r="1.30" fill="#d7262d"/>
<circle cx="163.90" cy="268.40" r="1.30" fill="#d7262d"/>
<circle cx="161.00" cy="271.60" r="1.30" fill="#d7262d"/>
<circle cx="163.30" cy="277.50" r="1.30" fill="#d7262d"/>
<circle cx="159.80" cy="281.20" r="1.30" fill="#d7262d"/>
<circle cx="161.00" cy="285.90" r="1.30" fill="#d7262d"/>
<circle cx="160.60" cy="287.30" r="1.30" fill="#d7262d"/>
<text x="182.00" y="196.40" font-size="6.95" text-anchor="start" fill="#cf2b31">BTG2</text>
<text x="166.20" y="204.30" font-size="6.95" text-anchor="start" fill="#cf2b31">BIRC3</text>
<text x="196.80" y="211.00" font-size="6.95" text-anchor="start" fill="#cf2b31">CD69</text>
<text x="144.60" y="218.00" font-size="6.95" text-anchor="start" fill="#cf2b31">HSP90AA1</text>
<text x="184.90" y="221.10" font-size="6.95" text-anchor="start" fill="#cf2b31">NFKB1</text>
<text x="147.00" y="228.20" font-size="6.95" text-anchor="start" fill="#cf2b31">KDM6B</text>
<text x="142.00" y="237.80" font-size="6.95" text-anchor="start" fill="#cf2b31">NFKBID</text>
<text x="175.90" y="244.00" font-size="6.95" text-anchor="start" fill="#cf2b31">HERPUD1</text>
<text x="140.90" y="252.40" font-size="6.95" text-anchor="start" fill="#cf2b31">DNAJA1</text>
<text x="141.10" y="265.70" font-size="6.95" text-anchor="start" fill="#cf2b31">HSPH1</text>
<text x="176.10" y="265.70" font-size="6.95" text-anchor="start" fill="#cf2b31">JUNB</text>
<text x="141.70" y="273.30" font-size="6.95" text-anchor="start" fill="#cf2b31">ELL2</text>
<text x="165.00" y="274.70" font-size="6.95" text-anchor="start" fill="#cf2b31">JUN</text>
<text x="165.60" y="284.00" font-size="6.95" text-anchor="start" fill="#cf2b31">ZNF331</text>
<text x="158.00" y="294.90" font-size="6.95" text-anchor="start" fill="#cf2b31">HSPA1B</text>
<text x="90.30" y="167.60" font-size="8.6" text-anchor="start" fill="#141414">Gene Expression</text>
<circle cx="94.70" cy="176.40" r="2.00" fill="#d7262d"/>
<text x="99.60" y="179.00" font-size="7.5" text-anchor="start" fill="#141414">Up-regulated</text>
<circle cx="94.70" cy="187.90" r="2.00" fill="#aaaaaa"/>
<text x="99.60" y="190.50" font-size="7.5" text-anchor="start" fill="#141414">Not significant</text>
<circle cx="94.70" cy="199.60" r="2.00" fill="#2f78b8"/>
<text x="99.60" y="202.20" font-size="7.5" text-anchor="start" fill="#141414">Down-regulated</text>
<text x="223.10" y="164.80" font-size="13.5" text-anchor="start" font-weight="bold" fill="#1a1a1a">d</text>
<text x="360.70" y="168.70" font-size="8.4" text-anchor="end" font-weight="bold" fill="#141414">Pathway</text>
<text x="424.00" y="168.60" font-size="8.4" text-anchor="middle" font-weight="bold" fill="#141414">Gene ranks</text>
<text x="491.40" y="168.80" font-size="8.4" text-anchor="middle" font-weight="bold" fill="#141414">NES</text>
<text x="526.0" y="168.8" font-size="8.4" text-anchor="middle" font-weight="bold" fill="#141414"><tspan font-style="italic">P</tspan>adj</text>
<line x1="284.30" y1="172.60" x2="365.30" y2="172.60" stroke="#888" stroke-width="0.7"/>
<line x1="369.60" y1="172.60" x2="477.00" y2="172.60" stroke="#888" stroke-width="0.7"/>
<line x1="480.00" y1="172.60" x2="501.60" y2="172.60" stroke="#888" stroke-width="0.7"/>
<line x1="504.90" y1="172.60" x2="542.70" y2="172.60" stroke="#888" stroke-width="0.7"/>
<text x="362.30" y="181.00" font-size="8.4" text-anchor="end" fill="#141414">TNFA_SIGNALING_VIA_NFKB</text>
<text x="490.50" y="180.90" font-size="7.6" text-anchor="middle" fill="#141414">2.00</text>
<text x="522.5" y="180.90" font-size="7.1" text-anchor="middle" fill="#141414">5.6&#215;10<tspan font-size="4.4" dy="-2.6">&#8722;13</tspan></text>
<line x1="369.8" y1="179.20" x2="477" y2="179.20" stroke="#7cc6ee" stroke-width="1.3"/>
<line x1="369.8" y1="179.40" x2="477" y2="179.40" stroke="#3ea6de" stroke-width="0.5"/>
<line x1="370.00" y1="173.40" x2="370.00" y2="179.70" stroke="#111" stroke-width="0.8"/>
<path d="M371.8,177.9V179.5M373.7,178.1V179.5M380.8,178.4V179.5M386.4,178.5V179.5M373.4,178.1V179.5M372.8,178.0V179.5M374.0,178.1V179.5M371.7,177.9V179.5M378.0,178.3V179.5M371.5,177.9V179.5M374.2,178.2V179.5M394.4,178.5V179.5M372.9,178.0V179.5M380.0,178.4V179.5M374.6,178.2V179.5M385.2,178.5V179.5M377.4,178.3V179.5M381.4,178.4V179.5M373.0,178.1V179.5M372.2,178.0V179.5M371.0,177.8V179.5M379.2,178.4V179.5M377.3,178.3V179.5M379.5,178.4V179.5M375.6,178.2V179.5M375.0,178.2V179.5M375.1,178.2V179.5M375.1,178.2V179.5M371.3,177.9V179.5M386.1,178.5V179.5M380.9,178.4V179.5M371.5,177.9V179.5M381.2,178.4V179.5M392.4,178.5V179.5M372.4,178.0V179.5M376.4,178.3V179.5M371.9,178.0V179.5M379.6,178.4V179.5" stroke="#1a1a1a" stroke-width="0.4" fill="none" opacity="0.85"/>
<path d="M370,179.5 L370,177.3 Q371.5,178.5 377,178.8 L377,179.5Z" fill="#1a1a1a"/>
<path d="M472,179.0 L476.8,179.0 L476.8,180.8 Q475,179.6 472,179.5Z" fill="#1a1a1a"/>
<text x="362.30" y="194.77" font-size="8.4" text-anchor="end" fill="#141414">UV_RESPONSE_UP</text>
<text x="490.50" y="194.67" font-size="7.6" text-anchor="middle" fill="#141414">1.78</text>
<text x="522.5" y="194.67" font-size="7.1" text-anchor="middle" fill="#141414">5.9&#215;10<tspan font-size="4.4" dy="-2.6">&#8722;6</tspan></text>
<line x1="369.8" y1="193.07" x2="477" y2="193.07" stroke="#7cc6ee" stroke-width="1.3"/>
<line x1="369.8" y1="193.27" x2="477" y2="193.27" stroke="#3ea6de" stroke-width="0.5"/>
<line x1="370.00" y1="187.27" x2="370.00" y2="193.57" stroke="#111" stroke-width="0.8"/>
<path d="M385.9,192.3V193.4M377.3,192.2V193.4M380.5,192.3V193.4M379.1,192.2V193.4M376.3,192.1V193.4M383.4,192.3V193.4M373.7,192.0V193.4M385.3,192.3V193.4M402.1,192.4V193.4M372.4,191.9V193.4M387.7,192.3V193.4M376.0,192.1V193.4M374.6,192.1V193.4M372.4,191.9V193.4M392.9,192.4V193.4M371.9,191.8V193.4M381.3,192.3V193.4M375.3,192.1V193.4M388.6,192.4V193.4M379.1,192.2V193.4M400.8,192.4V193.4M372.4,191.9V193.4M372.3,191.9V193.4M383.6,192.3V193.4M374.1,192.0V193.4M390.2,192.4V193.4M378.8,192.2V193.4M374.8,192.1V193.4M394.7,192.4V193.4M371.6,191.8V193.4M378.6,192.2V193.4M376.6,192.2V193.4M371.5,191.8V193.4M372.1,191.8V193.4M371.9,191.8V193.4M373.3,192.0V193.4M373.2,191.9V193.4M373.4,192.0V193.4" stroke="#1a1a1a" stroke-width="0.4" fill="none" opacity="0.85"/>
<path d="M370,193.4 L370,191.2 Q371.5,192.4 377,192.7 L377,193.4Z" fill="#1a1a1a"/>
<path d="M472,192.9 L476.8,192.9 L476.8,194.7 Q475,193.5 472,193.4Z" fill="#1a1a1a"/>
<text x="362.30" y="208.54" font-size="8.4" text-anchor="end" fill="#141414">KRAS_SIGNALING_DN</text>
<text x="490.50" y="208.44" font-size="7.6" text-anchor="middle" fill="#141414">1.67</text>
<text x="522.5" y="208.44" font-size="7.1" text-anchor="middle" fill="#141414">1.8&#215;10<tspan font-size="4.4" dy="-2.6">&#8722;4</tspan></text>
<line x1="369.8" y1="206.94" x2="477" y2="206.94" stroke="#7cc6ee" stroke-width="1.3"/>
<line x1="369.8" y1="207.14" x2="477" y2="207.14" stroke="#3ea6de" stroke-width="0.5"/>
<line x1="370.00" y1="201.14" x2="370.00" y2="207.44" stroke="#111" stroke-width="0.8"/>
<path d="M375.0,205.9V207.2M372.4,205.7V207.2M388.0,206.2V207.2M378.2,206.1V207.2M382.9,206.2V207.2M385.2,206.2V207.2M371.6,205.7V207.2M377.7,206.1V207.2M377.7,206.1V207.2M371.3,205.6V207.2M394.5,206.2V207.2M371.9,205.7V207.2M377.5,206.1V207.2M392.8,206.2V207.2M374.1,205.9V207.2M374.9,205.9V207.2M382.4,206.2V207.2M372.2,205.7V207.2M376.3,206.0V207.2M374.7,205.9V207.2M381.2,206.2V207.2M378.8,206.1V207.2M376.6,206.0V207.2M378.0,206.1V207.2M371.4,205.6V207.2M385.7,206.2V207.2M375.2,206.0V207.2M390.6,206.2V207.2M378.9,206.1V207.2M388.3,206.2V207.2M391.9,206.2V207.2M379.5,206.1V207.2M374.1,205.9V207.2M373.9,205.9V207.2M374.9,205.9V207.2M372.1,205.7V207.2M385.6,206.2V207.2M400.4,206.2V207.2" stroke="#1a1a1a" stroke-width="0.4" fill="none" opacity="0.85"/>
<path d="M370,207.2 L370,205.0 Q371.5,206.2 377,206.5 L377,207.2Z" fill="#1a1a1a"/>
<path d="M472,206.7 L476.8,206.7 L476.8,208.5 Q475,207.3 472,207.2Z" fill="#1a1a1a"/>
<text x="362.30" y="222.31" font-size="8.4" text-anchor="end" fill="#141414">APOPTOSIS</text>
<text x="490.50" y="222.21" font-size="7.6" text-anchor="middle" fill="#141414">1.64</text>
<text x="522.5" y="222.21" font-size="7.1" text-anchor="middle" fill="#141414">1.7&#215;10<tspan font-size="4.4" dy="-2.6">&#8722;3</tspan></text>
<line x1="369.8" y1="220.81" x2="477" y2="220.81" stroke="#7cc6ee" stroke-width="1.3"/>
<line x1="369.8" y1="221.01" x2="477" y2="221.01" stroke="#3ea6de" stroke-width="0.5"/>
<line x1="370.00" y1="215.01" x2="370.00" y2="221.31" stroke="#111" stroke-width="0.8"/>
<path d="M371.9,219.6V221.1M403.0,220.1V221.1M379.0,220.0V221.1M377.5,219.9V221.1M383.0,220.1V221.1M399.8,220.1V221.1M379.3,220.0V221.1M374.3,219.8V221.1M376.8,219.9V221.1M379.5,220.0V221.1M381.0,220.0V221.1M372.3,219.6V221.1M373.1,219.7V221.1M385.0,220.1V221.1M375.2,219.8V221.1M373.3,219.7V221.1M373.6,219.7V221.1M377.5,219.9V221.1M382.2,220.0V221.1M372.2,219.6V221.1M372.4,219.6V221.1M398.6,220.1V221.1M375.4,219.8V221.1M379.7,220.0V221.1M376.2,219.9V221.1M374.3,219.8V221.1M389.6,220.1V221.1M373.2,219.7V221.1M373.4,219.7V221.1M374.2,219.8V221.1M381.8,220.0V221.1M378.3,220.0V221.1M383.0,220.1V221.1M378.6,220.0V221.1M371.9,219.6V221.1M371.7,219.5V221.1M383.6,220.1V221.1M373.7,219.7V221.1" stroke="#1a1a1a" stroke-width="0.4" fill="none" opacity="0.85"/>
<path d="M370,221.1 L370,218.9 Q371.5,220.1 377,220.4 L377,221.1Z" fill="#1a1a1a"/>
<path d="M472,220.6 L476.8,220.6 L476.8,222.4 Q475,221.2 472,221.1Z" fill="#1a1a1a"/>
<text x="362.30" y="236.08" font-size="8.4" text-anchor="end" fill="#141414">INFLAMMATORY_RESPONSE</text>
<text x="490.50" y="235.98" font-size="7.6" text-anchor="middle" fill="#141414">1.54</text>
<text x="522.5" y="235.98" font-size="7.1" text-anchor="middle" fill="#141414">4.7&#215;10<tspan font-size="4.4" dy="-2.6">&#8722;3</tspan></text>
<line x1="369.8" y1="234.68" x2="477" y2="234.68" stroke="#7cc6ee" stroke-width="1.3"/>
<line x1="369.8" y1="234.88" x2="477" y2="234.88" stroke="#3ea6de" stroke-width="0.5"/>
<line x1="370.00" y1="228.88" x2="370.00" y2="235.18" stroke="#111" stroke-width="0.8"/>
<path d="M385.0,233.9V235.0M382.9,233.9V235.0M373.9,233.6V235.0M384.9,233.9V235.0M374.0,233.6V235.0M392.8,234.0V235.0M403.6,234.0V235.0M384.7,233.9V235.0M371.5,233.4V235.0M372.3,233.5V235.0M380.0,233.9V235.0M382.4,233.9V235.0M377.7,233.8V235.0M386.1,233.9V235.0M394.1,234.0V235.0M376.2,233.7V235.0M385.1,233.9V235.0M375.2,233.7V235.0M382.6,233.9V235.0M386.3,233.9V235.0M381.4,233.9V235.0M376.8,233.8V235.0M378.8,233.8V235.0M372.0,233.4V235.0M389.9,234.0V235.0M390.4,234.0V235.0M378.4,233.8V235.0M384.6,233.9V235.0M371.0,233.3V235.0M375.9,233.7V235.0M395.3,234.0V235.0M379.4,233.9V235.0M379.6,233.9V235.0M392.3,234.0V235.0M412.8,234.0V235.0M397.8,234.0V235.0M385.6,233.9V235.0M374.1,233.6V235.0" stroke="#1a1a1a" stroke-width="0.4" fill="none" opacity="0.85"/>
<path d="M370,235.0 L370,232.8 Q371.5,234.0 377,234.3 L377,235.0Z" fill="#1a1a1a"/>
<path d="M472,234.5 L476.8,234.5 L476.8,236.3 Q475,235.1 472,235.0Z" fill="#1a1a1a"/>
<text x="362.30" y="249.85" font-size="8.4" text-anchor="end" fill="#141414">ESTROGEN_RESPONSE_LATE</text>
<text x="490.50" y="249.75" font-size="7.6" text-anchor="middle" fill="#141414">1.47</text>
<text x="522.5" y="249.75" font-size="7.1" text-anchor="middle" fill="#141414">1.8&#215;10<tspan font-size="4.4" dy="-2.6">&#8722;2</tspan></text>
<line x1="369.8" y1="248.55" x2="477" y2="248.55" stroke="#7cc6ee" stroke-width="1.3"/>
<line x1="369.8" y1="248.75" x2="477" y2="248.75" stroke="#3ea6de" stroke-width="0.5"/>
<line x1="370.00" y1="242.75" x2="370.00" y2="249.05" stroke="#111" stroke-width="0.8"/>
<path d="M382.3,247.8V248.8M376.3,247.6V248.8M409.2,247.8V248.8M380.6,247.8V248.8M394.4,247.8V248.8M386.4,247.8V248.8M371.8,247.3V248.8M390.8,247.8V248.8M389.5,247.8V248.8M394.8,247.8V248.8M383.9,247.8V248.8M394.6,247.8V248.8M380.8,247.8V248.8M379.0,247.7V248.8M372.4,247.4V248.8M387.2,247.8V248.8M393.4,247.8V248.8M391.0,247.8V248.8M374.2,247.5V248.8M371.8,247.3V248.8M404.6,247.8V248.8M382.6,247.8V248.8M382.8,247.8V248.8M382.5,247.8V248.8M380.5,247.8V248.8M372.1,247.3V248.8M391.5,247.8V248.8M386.6,247.8V248.8M426.0,247.8V248.8M371.1,247.2V248.8M385.5,247.8V248.8M373.6,247.5V248.8M377.1,247.7V248.8M379.0,247.7V248.8M376.2,247.6V248.8M393.5,247.8V248.8M381.3,247.8V248.8M382.2,247.8V248.8" stroke="#1a1a1a" stroke-width="0.4" fill="none" opacity="0.85"/>
<path d="M370,248.8 L370,246.6 Q371.5,247.8 377,248.1 L377,248.8Z" fill="#1a1a1a"/>
<path d="M472,248.3 L476.8,248.3 L476.8,250.1 Q475,248.9 472,248.8Z" fill="#1a1a1a"/>
<text x="362.30" y="263.62" font-size="8.4" text-anchor="end" fill="#141414">KRAS_SIGNALING_UP</text>
<text x="490.50" y="263.52" font-size="7.6" text-anchor="middle" fill="#141414">1.42</text>
<text x="522.5" y="263.52" font-size="7.1" text-anchor="middle" fill="#141414">3.9&#215;10<tspan font-size="4.4" dy="-2.6">&#8722;2</tspan></text>
<line x1="369.8" y1="262.42" x2="477" y2="262.42" stroke="#7cc6ee" stroke-width="1.3"/>
<line x1="369.8" y1="262.62" x2="477" y2="262.62" stroke="#3ea6de" stroke-width="0.5"/>
<line x1="370.00" y1="256.62" x2="370.00" y2="262.92" stroke="#111" stroke-width="0.8"/>
<path d="M373.6,261.3V262.7M381.5,261.6V262.7M411.5,261.7V262.7M396.3,261.7V262.7M373.7,261.3V262.7M377.0,261.5V262.7M393.0,261.7V262.7M374.5,261.4V262.7M376.4,261.5V262.7M379.0,261.6V262.7M376.9,261.5V262.7M374.4,261.4V262.7M397.2,261.7V262.7M376.8,261.5V262.7M384.0,261.7V262.7M372.4,261.2V262.7M400.0,261.7V262.7M403.2,261.7V262.7M391.5,261.7V262.7M378.8,261.6V262.7M377.2,261.5V262.7M398.3,261.7V262.7M374.6,261.4V262.7M372.0,261.2V262.7M371.1,261.1V262.7M404.1,261.7V262.7M410.7,261.7V262.7M373.6,261.3V262.7M374.1,261.4V262.7M371.5,261.1V262.7M386.5,261.7V262.7M381.6,261.6V262.7M403.6,261.7V262.7M373.5,261.3V262.7M374.4,261.4V262.7M378.2,261.6V262.7M384.1,261.7V262.7M373.9,261.4V262.7" stroke="#1a1a1a" stroke-width="0.4" fill="none" opacity="0.85"/>
<path d="M370,262.7 L370,260.5 Q371.5,261.7 377,262.0 L377,262.7Z" fill="#1a1a1a"/>
<path d="M472,262.2 L476.8,262.2 L476.8,264.0 Q475,262.8 472,262.7Z" fill="#1a1a1a"/>
<text x="362.30" y="277.39" font-size="8.4" text-anchor="end" fill="#141414">HEME_METABOLISM</text>
<text x="490.50" y="277.29" font-size="7.6" text-anchor="middle" fill="#141414">1.43</text>
<text x="522.5" y="277.29" font-size="7.1" text-anchor="middle" fill="#141414">3.9&#215;10<tspan font-size="4.4" dy="-2.6">&#8722;2</tspan></text>
<line x1="369.8" y1="276.29" x2="477" y2="276.29" stroke="#7cc6ee" stroke-width="1.3"/>
<line x1="369.8" y1="276.49" x2="477" y2="276.49" stroke="#3ea6de" stroke-width="0.5"/>
<line x1="370.00" y1="270.49" x2="370.00" y2="276.79" stroke="#111" stroke-width="0.8"/>
<path d="M406.8,275.6V276.6M376.4,275.4V276.6M385.3,275.6V276.6M378.7,275.5V276.6M377.2,275.4V276.6M389.9,275.6V276.6M383.3,275.5V276.6M404.9,275.6V276.6M371.5,275.0V276.6M385.9,275.6V276.6M378.2,275.4V276.6M372.9,275.1V276.6M375.1,275.3V276.6M388.3,275.6V276.6M384.4,275.5V276.6M375.1,275.3V276.6M380.7,275.5V276.6M384.6,275.5V276.6M375.3,275.3V276.6M412.5,275.6V276.6M371.1,274.9V276.6M375.5,275.3V276.6M383.8,275.5V276.6M381.2,275.5V276.6M379.7,275.5V276.6M423.5,275.6V276.6M385.2,275.6V276.6M410.0,275.6V276.6M385.3,275.6V276.6M376.1,275.4V276.6M372.7,275.1V276.6M406.6,275.6V276.6M380.0,275.5V276.6M380.8,275.5V276.6M375.2,275.3V276.6M372.3,275.1V276.6M378.7,275.4V276.6M379.9,275.5V276.6" stroke="#1a1a1a" stroke-width="0.4" fill="none" opacity="0.85"/>
<path d="M370,276.6 L370,274.4 Q371.5,275.6 377,275.9 L377,276.6Z" fill="#1a1a1a"/>
<path d="M472,276.1 L476.8,276.1 L476.8,277.9 Q475,276.7 472,276.6Z" fill="#1a1a1a"/>
<text x="362.30" y="291.16" font-size="8.4" text-anchor="end" fill="#141414">UV_RESPONSE_DN</text>
<text x="490.50" y="291.06" font-size="7.6" text-anchor="middle" fill="#141414">1.48</text>
<text x="522.5" y="291.06" font-size="7.1" text-anchor="middle" fill="#141414">3.9&#215;10<tspan font-size="4.4" dy="-2.6">&#8722;2</tspan></text>
<line x1="369.8" y1="290.16" x2="477" y2="290.16" stroke="#7cc6ee" stroke-width="1.3"/>
<line x1="369.8" y1="290.36" x2="477" y2="290.36" stroke="#3ea6de" stroke-width="0.5"/>
<line x1="370.00" y1="284.36" x2="370.00" y2="290.66" stroke="#111" stroke-width="0.8"/>
<path d="M375.3,289.2V290.5M371.8,288.9V290.5M385.6,289.4V290.5M374.2,289.1V290.5M394.6,289.5V290.5M372.0,288.9V290.5M384.9,289.4V290.5M372.2,288.9V290.5M396.8,289.5V290.5M371.0,288.8V290.5M375.2,289.2V290.5M383.4,289.4V290.5M375.6,289.2V290.5M388.5,289.4V290.5M371.5,288.9V290.5M376.6,289.2V290.5M385.4,289.4V290.5M371.1,288.8V290.5M376.7,289.3V290.5M374.0,289.1V290.5M374.9,289.2V290.5M377.1,289.3V290.5M413.1,289.5V290.5M372.4,289.0V290.5M376.9,289.3V290.5M377.3,289.3V290.5M375.2,289.2V290.5M399.7,289.5V290.5M377.9,289.3V290.5M380.2,289.4V290.5M379.2,289.3V290.5M376.7,289.2V290.5M379.0,289.3V290.5M371.3,288.8V290.5M376.8,289.3V290.5M377.2,289.3V290.5M372.5,289.0V290.5M378.9,289.3V290.5" stroke="#1a1a1a" stroke-width="0.4" fill="none" opacity="0.85"/>
<path d="M370,290.5 L370,288.3 Q371.5,289.5 377,289.8 L377,290.5Z" fill="#1a1a1a"/>
<path d="M472,290.0 L476.8,290.0 L476.8,291.8 Q475,290.6 472,290.5Z" fill="#1a1a1a"/>
<text x="362.30" y="304.93" font-size="8.4" text-anchor="end" fill="#141414">APICAL_JUNCTION</text>
<text x="490.50" y="304.83" font-size="7.6" text-anchor="middle" fill="#141414">&#8722;1.56</text>
<text x="522.5" y="304.83" font-size="7.1" text-anchor="middle" fill="#141414">3.1&#215;10<tspan font-size="4.4" dy="-2.6">&#8722;3</tspan></text>
<line x1="369.8" y1="304.03" x2="477" y2="304.03" stroke="#7cc6ee" stroke-width="1.3"/>
<line x1="369.8" y1="304.23" x2="477" y2="304.23" stroke="#3ea6de" stroke-width="0.5"/>
<line x1="370.00" y1="301.83" x2="370.00" y2="304.53" stroke="#111" stroke-width="0.6"/>
<path d="M475.0,302.8V304.3M454.4,303.3V304.3M471.3,303.1V304.3M475.7,302.7V304.3M475.3,302.8V304.3M473.4,302.9V304.3M470.5,303.1V304.3M453.8,303.3V304.3M460.7,303.3V304.3M467.8,303.2V304.3M475.2,302.8V304.3M472.0,303.0V304.3M470.1,303.1V304.3M471.9,303.0V304.3M467.9,303.2V304.3M472.5,303.0V304.3M462.1,303.3V304.3M470.3,303.1V304.3M472.2,303.0V304.3M466.3,303.2V304.3M473.5,302.9V304.3M453.7,303.3V304.3M474.8,302.8V304.3M475.1,302.8V304.3M470.8,303.1V304.3M383.5,303.3V304.3M376.5,303.3V304.3M375.3,303.3V304.3M402.1,303.3V304.3M372.8,303.3V304.3M374.1,303.3V304.3M407.9,303.3V304.3M401.7,303.3V304.3M386.1,303.3V304.3M379.3,303.3V304.3" stroke="#1a1a1a" stroke-width="0.4" fill="none" opacity="0.85"/>
<path d="M468,303.7 Q474,304.0 477,305.8 L477,303.5Z" fill="#1a1a1a"/>
<text x="362.30" y="318.70" font-size="8.4" text-anchor="end" fill="#141414">OXIDATIVE_PHOSPHORYLATION</text>
<text x="490.50" y="318.60" font-size="7.6" text-anchor="middle" fill="#141414">&#8722;1.99</text>
<text x="522.5" y="318.60" font-size="7.1" text-anchor="middle" fill="#141414">2.3&#215;10<tspan font-size="4.4" dy="-2.6">&#8722;6</tspan></text>
<line x1="369.8" y1="317.90" x2="477" y2="317.90" stroke="#7cc6ee" stroke-width="1.3"/>
<line x1="369.8" y1="318.10" x2="477" y2="318.10" stroke="#3ea6de" stroke-width="0.5"/>
<line x1="370.00" y1="315.70" x2="370.00" y2="318.40" stroke="#111" stroke-width="0.6"/>
<path d="M469.9,317.0V318.2M467.4,317.1V318.2M473.6,316.8V318.2M467.9,317.1V318.2M471.6,316.9V318.2M459.3,317.2V318.2M473.6,316.8V318.2M475.8,316.6V318.2M475.2,316.6V318.2M474.4,316.7V318.2M471.6,316.9V318.2M472.6,316.9V318.2M472.1,316.9V318.2M474.2,316.7V318.2M475.7,316.6V318.2M474.3,316.7V318.2M469.9,317.0V318.2M474.6,316.7V318.2M472.9,316.8V318.2M473.8,316.8V318.2M474.2,316.7V318.2M470.9,317.0V318.2M473.6,316.8V318.2M471.6,316.9V318.2M467.2,317.1V318.2M406.0,317.2V318.2M380.3,317.2V318.2M377.9,317.2V318.2M390.7,317.2V318.2M393.8,317.2V318.2M385.2,317.2V318.2M394.5,317.2V318.2M397.8,317.2V318.2M403.0,317.2V318.2M381.2,317.2V318.2" stroke="#1a1a1a" stroke-width="0.4" fill="none" opacity="0.85"/>
<path d="M468,317.6 Q474,317.9 477,319.7 L477,317.4Z" fill="#1a1a1a"/>
<line x1="369.10" y1="324.30" x2="476.50" y2="324.30" stroke="#333" stroke-width="0.8"/>
<line x1="370.00" y1="324.30" x2="370.00" y2="326.30" stroke="#333" stroke-width="0.7"/>
<text x="370.00" y="333.80" font-size="7.4" text-anchor="middle" fill="#222">0</text>
<line x1="398.80" y1="324.30" x2="398.80" y2="326.30" stroke="#333" stroke-width="0.7"/>
<text x="398.80" y="333.80" font-size="7.4" text-anchor="middle" fill="#222">5000</text>
<line x1="427.60" y1="324.30" x2="427.60" y2="326.30" stroke="#333" stroke-width="0.7"/>
<text x="427.60" y="333.80" font-size="7.4" text-anchor="middle" fill="#222">10000</text>
<line x1="456.40" y1="324.30" x2="456.40" y2="326.30" stroke="#333" stroke-width="0.7"/>
<text x="456.40" y="333.80" font-size="7.4" text-anchor="middle" fill="#222">15000</text>
<text x="554.40" y="165.60" font-size="13.5" text-anchor="start" font-weight="bold" fill="#1a1a1a">e</text>
<line x1="580.90" y1="181.00" x2="580.90" y2="321.80" stroke="#333" stroke-width="0.8"/>
<line x1="580.50" y1="321.80" x2="680.30" y2="321.80" stroke="#333" stroke-width="0.8"/>
<line x1="578.80" y1="320.60" x2="580.90" y2="320.60" stroke="#333" stroke-width="0.7"/>
<text x="578.30" y="323.20" font-size="7.5" text-anchor="end" fill="#222">6.0</text>
<line x1="578.80" y1="282.90" x2="580.90" y2="282.90" stroke="#333" stroke-width="0.7"/>
<text x="578.30" y="285.50" font-size="7.5" text-anchor="end" fill="#222">6.25</text>
<line x1="578.80" y1="250.40" x2="580.90" y2="250.40" stroke="#333" stroke-width="0.7"/>
<text x="578.30" y="253.00" font-size="7.5" text-anchor="end" fill="#222">6.5</text>
<line x1="578.80" y1="215.00" x2="580.90" y2="215.00" stroke="#333" stroke-width="0.7"/>
<text x="578.30" y="217.60" font-size="7.5" text-anchor="end" fill="#222">6.75</text>
<line x1="578.80" y1="182.80" x2="580.90" y2="182.80" stroke="#333" stroke-width="0.7"/>
<text x="578.30" y="185.40" font-size="7.5" text-anchor="end" fill="#222">7.0</text>
<line x1="608.70" y1="321.80" x2="608.70" y2="323.80" stroke="#333" stroke-width="0.7"/>
<text x="608.70" y="329.50" font-size="7.4" text-anchor="middle" fill="#222">CTL</text>
<line x1="653.30" y1="321.80" x2="653.30" y2="323.80" stroke="#333" stroke-width="0.7"/>
<text x="653.30" y="329.50" font-size="7.4" text-anchor="middle" fill="#222">CIP</text>
<text x="559.00" y="251.00" font-size="8.7" text-anchor="middle" fill="#141414" transform="rotate(-90 559.00 251.00)">Shannon Index</text>
<line x1="608.05" y1="220.00" x2="608.05" y2="223.80" stroke="#5dbb96" stroke-width="0.9"/>
<line x1="608.05" y1="231.60" x2="608.05" y2="240.50" stroke="#5dbb96" stroke-width="0.9"/>
<rect x="592.40" y="223.80" width="31.30" height="7.80" fill="#ffffff" stroke="#5dbb96" stroke-width="0.9"/>
<line x1="592.40" y1="224.90" x2="623.70" y2="224.90" stroke="#5dbb96" stroke-width="0.9"/>
<line x1="653.50" y1="221.10" x2="653.50" y2="229.50" stroke="#e3bf6f" stroke-width="0.9"/>
<line x1="653.50" y1="258.30" x2="653.50" y2="258.30" stroke="#e3bf6f" stroke-width="0.9"/>
<rect x="637.60" y="229.50" width="31.80" height="28.80" fill="#ffffff" stroke="#e3bf6f" stroke-width="0.9"/>
<line x1="637.60" y1="246.70" x2="669.40" y2="246.70" stroke="#e3bf6f" stroke-width="0.9"/>
<circle cx="613.50" cy="221.60" r="2.65" fill="#5dbb96"/>
<circle cx="610.00" cy="225.90" r="2.65" fill="#5dbb96"/>
<circle cx="615.40" cy="225.90" r="2.65" fill="#5dbb96"/>
<circle cx="612.20" cy="224.50" r="2.65" fill="#5dbb96"/>
<circle cx="608.50" cy="240.10" r="2.65" fill="#5dbb96"/>
<circle cx="618.60" cy="259.10" r="2.65" fill="#5dbb96"/>
<circle cx="662.20" cy="223.40" r="2.65" fill="#e0bb62"/>
<circle cx="662.60" cy="231.60" r="2.65" fill="#e0bb62"/>
<circle cx="663.30" cy="230.20" r="2.65" fill="#e0bb62"/>
<circle cx="646.70" cy="247.70" r="2.65" fill="#e0bb62"/>
<circle cx="656.50" cy="258.50" r="2.65" fill="#e0bb62"/>
<circle cx="656.00" cy="262.70" r="2.65" fill="#e0bb62"/>
<circle cx="651.40" cy="312.10" r="2.65" fill="#e0bb62"/>
<path d="M610.6,206.5 L610.6,203.8 L650.5,203.8 L650.5,206.5" stroke="#333" stroke-width="0.8" fill="none"/>
<text x="631.9" y="200.6" font-size="7.4" text-anchor="middle" fill="#141414"><tspan font-style="italic">P</tspan> = 0.06</text>
<text x="0.00" y="348.20" font-size="13.5" text-anchor="start" font-weight="bold" fill="#1a1a1a">f</text>
<text x="84.60" y="354.90" font-size="8.4" text-anchor="middle" fill="#141414">CTL</text>
<text x="258.80" y="354.90" font-size="8.4" text-anchor="middle" fill="#141414">CIP</text>
<path d="M35.9,383.5 L39.2,381.6 L42.5,383.5 L43.5,387.3 L42.0,391.1 L39.2,391.6 L36.8,389.2 L35.9,386.4 Z" fill="#c1c1c1" stroke="#c1c1c1" stroke-width="0.8" stroke-linejoin="round"/>
<path d="M42.0,392.0 L43.9,393.9 L46.8,394.9 L50.6,396.3 L55.3,397.7 L58.1,397.3 L61.9,398.7 L64.8,402.5 L65.7,407.2 L65.2,412.9 L66.7,417.6 L65.7,424.2 L62.9,429.9 L58.1,434.7 L52.5,437.5 L46.8,436.6 L43.0,431.8 L39.2,427.1 L35.4,422.3 L31.6,416.7 L30.2,411.0 L30.7,403.4 L33.5,398.7 L38.3,395.4 Z" fill="#c1c1c1" stroke="#c1c1c1" stroke-width="0.8" stroke-linejoin="round"/>
<circle cx="47.25" cy="392.52" r="1.14" fill="#c1c1c1"/>
<circle cx="55.78" cy="392.05" r="0.95" fill="#c1c1c1"/>
<circle cx="51.99" cy="397.73" r="0.95" fill="#c1c1c1"/>
<circle cx="55.11" cy="397.25" r="0.76" fill="#c1c1c1"/>
<path d="M200.4,383.5 L204.2,382.1 L206.6,385.4 L207.5,388.7 L205.2,392.0 L202.3,389.2 L200.2,385.9 Z" fill="#c1c1c1" stroke="#c1c1c1" stroke-width="0.8" stroke-linejoin="round"/>
<path d="M195.7,403.4 L198.5,400.1 L204.2,397.7 L208.9,397.3 L211.8,394.9 L216.5,397.7 L221.2,398.7 L226.0,399.6 L227.9,403.4 L229.8,407.2 L231.7,412.9 L230.7,419.5 L228.8,424.2 L225.0,429.0 L221.2,433.7 L216.5,437.5 L211.8,437.5 L208.0,433.7 L203.3,428.0 L199.5,422.3 L196.6,416.7 L195.2,412.9 L196.2,408.1 Z" fill="#c1c1c1" stroke="#c1c1c1" stroke-width="0.8" stroke-linejoin="round"/>
<circle cx="208.47" cy="394.41" r="0.95" fill="#c1c1c1"/>
<circle cx="212.73" cy="392.52" r="1.14" fill="#c1c1c1"/>
<circle cx="216.04" cy="392.05" r="0.95" fill="#c1c1c1"/>
<circle cx="218.88" cy="390.91" r="0.85" fill="#c1c1c1"/>
<ellipse cx="35.9" cy="415.7" rx="1.4" ry="0.8" fill="#fff" opacity="0.8"/>
<ellipse cx="48.7" cy="410.0" rx="1.4" ry="0.8" fill="#fff" opacity="0.8"/>
<ellipse cx="47.7" cy="420.5" rx="1.4" ry="0.8" fill="#fff" opacity="0.8"/>
<ellipse cx="56.2" cy="419.5" rx="1.4" ry="0.8" fill="#fff" opacity="0.8"/>
<ellipse cx="59.1" cy="416.7" rx="1.4" ry="0.8" fill="#fff" opacity="0.8"/>
<ellipse cx="38.3" cy="421.4" rx="1.4" ry="0.8" fill="#fff" opacity="0.8"/>
<ellipse cx="54.4" cy="425.2" rx="1.4" ry="0.8" fill="#fff" opacity="0.8"/>
<ellipse cx="203.3" cy="411.5" rx="1.5" ry="1.0" fill="#fff" opacity="0.85"/>
<ellipse cx="201.4" cy="415.7" rx="1.5" ry="1.0" fill="#fff" opacity="0.85"/>
<ellipse cx="223.1" cy="411.0" rx="1.5" ry="1.0" fill="#fff" opacity="0.85"/>
<ellipse cx="224.1" cy="419.0" rx="1.5" ry="1.0" fill="#fff" opacity="0.85"/>
<ellipse cx="218.4" cy="416.7" rx="1.5" ry="1.0" fill="#fff" opacity="0.85"/>
<ellipse cx="199.5" cy="403.4" rx="1.5" ry="1.0" fill="#fff" opacity="0.85"/>
<path d="M130.3,359.2 L133.0,356.8 L136.9,357.2 L140.2,360.5 L142.2,364.4 L143.5,369.7 L144.8,373.6 L146.1,378.9 L147.4,386.7 L148.1,394.6 L148.1,402.5 L147.4,409.1 L146.7,415.6 L145.4,423.5 L143.5,428.7 L140.2,431.4 L135.6,431.6 L131.7,429.4 L129.7,424.8 L129.7,418.2 L131.0,413.0 L133.0,409.1 L134.9,405.1 L135.6,399.9 L135.6,393.3 L135.6,386.7 L136.2,381.5 L135.6,377.6 L133.0,374.9 L131.7,371.0 L131.0,365.7 L129.9,362.5 Z" fill="#c1c1c1" stroke="#c1c1c1" stroke-width="0.8" stroke-linejoin="round"/>
<path d="M117.2,409.1 L120.5,408.4 L124.4,408.8 L126.4,410.4 L124.4,411.7 L120.5,411.2 L117.6,410.6 Z" fill="#c1c1c1" stroke="#c1c1c1" stroke-width="0.8" stroke-linejoin="round"/>
<path d="M295.3,357.4 L298.3,355.9 L301.4,358.4 L304.4,362.5 L307.5,368.6 L309.6,374.7 L310.6,380.9 L311.6,389.0 L312.6,395.2 L313.6,401.3 L312.6,409.5 L311.6,417.7 L310.6,423.8 L308.5,428.9 L303.4,430.9 L296.3,430.9 L292.2,427.9 L291.2,421.7 L292.2,413.6 L296.3,409.5 L301.4,405.4 L303.4,399.3 L303.4,391.1 L301.4,383.9 L298.3,376.8 L296.3,370.7 L294.6,363.5 Z" fill="#c1c1c1" stroke="#c1c1c1" stroke-width="0.8" stroke-linejoin="round"/>
<circle cx="140.30" cy="366.00" r="1.05" fill="#f8dcb0"/>
<circle cx="139.20" cy="368.00" r="1.05" fill="#f27b52"/>
<circle cx="141.00" cy="371.00" r="1.05" fill="#1e9ef0"/>
<circle cx="142.00" cy="372.00" r="1.05" fill="#1e9ef0"/>
<circle cx="140.30" cy="379.50" r="1.05" fill="#f8dcb0"/>
<circle cx="132.00" cy="381.50" r="1.05" fill="#f8dcb0"/>
<circle cx="137.80" cy="384.70" r="1.05" fill="#155fd0"/>
<circle cx="140.90" cy="384.00" r="1.05" fill="#1e9ef0"/>
<circle cx="143.80" cy="384.20" r="1.05" fill="#7c1fa3"/>
<circle cx="144.60" cy="388.30" r="1.05" fill="#d07cb4"/>
<circle cx="142.30" cy="391.30" r="1.05" fill="#8fee7c"/>
<circle cx="139.50" cy="393.00" r="1.05" fill="#8fee7c"/>
<circle cx="141.70" cy="393.50" r="1.05" fill="#15707f"/>
<circle cx="143.40" cy="396.00" r="1.05" fill="#1e9ef0"/>
<circle cx="141.40" cy="400.40" r="1.05" fill="#f27b52"/>
<circle cx="144.60" cy="403.50" r="1.05" fill="#155fd0"/>
<circle cx="145.00" cy="404.00" r="1.05" fill="#1e9ef0"/>
<circle cx="140.70" cy="404.90" r="1.05" fill="#8fee7c"/>
<circle cx="134.60" cy="407.90" r="1.05" fill="#f8dcb0"/>
<circle cx="137.00" cy="408.00" r="1.05" fill="#f8dcb0"/>
<circle cx="143.00" cy="409.50" r="1.05" fill="#d07cb4"/>
<circle cx="139.00" cy="410.50" r="1.05" fill="#8fee7c"/>
<circle cx="136.70" cy="410.40" r="1.05" fill="#8fee7c"/>
<circle cx="139.40" cy="410.50" r="1.05" fill="#7c1fa3"/>
<circle cx="141.20" cy="409.20" r="1.05" fill="#155fd0"/>
<circle cx="144.20" cy="411.30" r="1.05" fill="#8fee7c"/>
<circle cx="144.70" cy="415.10" r="1.05" fill="#8fee7c"/>
<circle cx="132.70" cy="413.70" r="1.05" fill="#f8dcb0"/>
<circle cx="131.80" cy="420.50" r="1.05" fill="#f8dcb0"/>
<circle cx="134.00" cy="420.70" r="1.05" fill="#f8dcb0"/>
<circle cx="136.70" cy="420.90" r="1.05" fill="#7c1fa3"/>
<circle cx="138.80" cy="420.50" r="1.05" fill="#155fd0"/>
<circle cx="140.20" cy="421.10" r="1.05" fill="#155fd0"/>
<circle cx="137.80" cy="423.40" r="1.05" fill="#8fee7c"/>
<circle cx="139.90" cy="425.00" r="1.05" fill="#7c1fa3"/>
<circle cx="139.30" cy="426.40" r="1.05" fill="#f27b52"/>
<circle cx="127.00" cy="422.00" r="1.05" fill="#22cbdc"/>
<circle cx="127.30" cy="424.50" r="1.05" fill="#22cbdc"/>
<circle cx="122.90" cy="411.30" r="1.05" fill="#22cbdc"/>
<circle cx="128.80" cy="374.20" r="1.05" fill="#f8dcb0"/>
<circle cx="130.00" cy="401.00" r="1.05" fill="#f8dcb0"/>
<circle cx="66.00" cy="407.40" r="1.00" fill="#d07cb4"/>
<circle cx="304.07" cy="409.62" r="0.95" fill="#7c1fa3"/>
<circle cx="301.24" cy="362.52" r="0.95" fill="#8fee7c"/>
<circle cx="300.11" cy="408.06" r="0.95" fill="#155fd0"/>
<circle cx="307.06" cy="416.19" r="0.95" fill="#1e9ef0"/>
<circle cx="306.91" cy="388.27" r="0.95" fill="#f27b52"/>
<circle cx="307.98" cy="377.04" r="0.95" fill="#f27b52"/>
<circle cx="300.18" cy="364.39" r="0.95" fill="#1e9ef0"/>
<circle cx="307.05" cy="384.89" r="0.95" fill="#1e9ef0"/>
<circle cx="305.10" cy="388.67" r="0.95" fill="#7c1fa3"/>
<circle cx="306.00" cy="387.71" r="0.95" fill="#8fee7c"/>
<circle cx="308.23" cy="380.35" r="0.95" fill="#1d6fb8"/>
<circle cx="304.88" cy="425.07" r="0.95" fill="#155fd0"/>
<circle cx="301.42" cy="413.21" r="0.95" fill="#f8dcb0"/>
<circle cx="306.86" cy="371.82" r="0.95" fill="#1e9ef0"/>
<circle cx="298.81" cy="409.96" r="0.95" fill="#8fee7c"/>
<circle cx="294.32" cy="429.09" r="0.95" fill="#f8dcb0"/>
<circle cx="301.44" cy="414.40" r="0.95" fill="#8fee7c"/>
<circle cx="297.59" cy="408.25" r="0.95" fill="#7c1fa3"/>
<circle cx="304.00" cy="422.84" r="0.95" fill="#8fee7c"/>
<circle cx="304.37" cy="415.26" r="0.95" fill="#15707f"/>
<circle cx="304.25" cy="375.06" r="0.95" fill="#8fee7c"/>
<circle cx="295.20" cy="424.44" r="0.95" fill="#155fd0"/>
<circle cx="301.44" cy="428.00" r="0.95" fill="#22cbdc"/>
<circle cx="308.02" cy="419.19" r="0.95" fill="#8fee7c"/>
<circle cx="301.68" cy="371.36" r="0.95" fill="#1d6fb8"/>
<circle cx="301.09" cy="376.26" r="0.95" fill="#7c1fa3"/>
<circle cx="296.97" cy="411.57" r="0.95" fill="#8fee7c"/>
<circle cx="299.46" cy="366.75" r="0.95" fill="#1e9ef0"/>
<circle cx="302.63" cy="414.86" r="0.95" fill="#1e9ef0"/>
<circle cx="306.00" cy="382.74" r="0.95" fill="#f27b52"/>
<circle cx="309.18" cy="426.90" r="0.95" fill="#1d6fb8"/>
<circle cx="301.19" cy="415.46" r="0.95" fill="#1d6fb8"/>
<circle cx="296.55" cy="407.62" r="0.95" fill="#22cbdc"/>
<circle cx="294.74" cy="420.42" r="0.95" fill="#1e9ef0"/>
<circle cx="303.43" cy="428.77" r="0.95" fill="#7c1fa3"/>
<circle cx="302.82" cy="387.48" r="0.95" fill="#155fd0"/>
<circle cx="305.63" cy="386.91" r="0.95" fill="#1e9ef0"/>
<circle cx="309.68" cy="405.67" r="0.95" fill="#8fee7c"/>
<circle cx="305.74" cy="409.46" r="0.95" fill="#155fd0"/>
<circle cx="301.78" cy="422.61" r="0.95" fill="#155fd0"/>
<circle cx="301.90" cy="383.36" r="0.95" fill="#15707f"/>
<circle cx="303.93" cy="372.31" r="0.95" fill="#7c1fa3"/>
<circle cx="301.06" cy="370.53" r="0.95" fill="#22cbdc"/>
<circle cx="302.21" cy="411.35" r="0.95" fill="#8fee7c"/>
<circle cx="306.80" cy="411.35" r="0.95" fill="#155fd0"/>
<circle cx="310.30" cy="397.28" r="0.95" fill="#155fd0"/>
<circle cx="305.43" cy="417.83" r="0.95" fill="#15707f"/>
<circle cx="301.73" cy="380.67" r="0.95" fill="#1d6fb8"/>
<circle cx="309.80" cy="428.49" r="0.95" fill="#1d6fb8"/>
<circle cx="300.99" cy="408.45" r="0.95" fill="#f8dcb0"/>
<circle cx="308.31" cy="420.98" r="0.95" fill="#15707f"/>
<circle cx="306.59" cy="421.67" r="0.95" fill="#7c1fa3"/>
<circle cx="299.76" cy="363.76" r="0.95" fill="#155fd0"/>
<circle cx="306.42" cy="410.28" r="0.95" fill="#f8dcb0"/>
<circle cx="305.27" cy="428.71" r="0.95" fill="#8fee7c"/>
<circle cx="305.32" cy="428.72" r="0.95" fill="#22cbdc"/>
<circle cx="300.61" cy="359.32" r="0.95" fill="#8fee7c"/>
<circle cx="303.98" cy="365.02" r="0.95" fill="#8fee7c"/>
<circle cx="303.64" cy="374.82" r="0.95" fill="#1e9ef0"/>
<circle cx="305.35" cy="425.18" r="0.95" fill="#1e9ef0"/>
<circle cx="300.37" cy="428.41" r="0.95" fill="#155fd0"/>
<circle cx="299.50" cy="368.13" r="0.95" fill="#d07cb4"/>
<circle cx="298.54" cy="424.33" r="0.95" fill="#8fee7c"/>
<circle cx="302.30" cy="360.92" r="0.95" fill="#8fee7c"/>
<circle cx="308.26" cy="397.12" r="0.95" fill="#8fee7c"/>
<circle cx="301.68" cy="409.64" r="0.95" fill="#8fee7c"/>
<circle cx="308.41" cy="387.21" r="0.95" fill="#1e9ef0"/>
<circle cx="305.33" cy="417.36" r="0.95" fill="#f27b52"/>
<circle cx="302.44" cy="418.44" r="0.95" fill="#1e9ef0"/>
<circle cx="297.32" cy="360.73" r="0.95" fill="#f27b52"/>
<circle cx="305.42" cy="382.37" r="0.95" fill="#7c1fa3"/>
<circle cx="301.59" cy="420.70" r="0.95" fill="#8fee7c"/>
<circle cx="301.64" cy="412.65" r="0.95" fill="#8fee7c"/>
<circle cx="301.89" cy="411.94" r="0.95" fill="#155fd0"/>
<circle cx="306.25" cy="400.85" r="0.95" fill="#8fee7c"/>
<circle cx="300.52" cy="408.92" r="0.95" fill="#7c1fa3"/>
<circle cx="301.44" cy="378.56" r="0.95" fill="#d07cb4"/>
<circle cx="305.86" cy="401.06" r="0.95" fill="#1d6fb8"/>
<circle cx="309.45" cy="427.19" r="0.95" fill="#155fd0"/>
<circle cx="303.96" cy="362.52" r="0.95" fill="#22cbdc"/>
<circle cx="305.24" cy="397.96" r="0.95" fill="#8fee7c"/>
<circle cx="303.06" cy="377.38" r="0.95" fill="#1d6fb8"/>
<circle cx="293.33" cy="423.33" r="0.95" fill="#8fee7c"/>
<circle cx="298.64" cy="406.43" r="0.95" fill="#d07cb4"/>
<circle cx="309.75" cy="407.54" r="0.95" fill="#155fd0"/>
<circle cx="298.50" cy="363.03" r="0.95" fill="#f27b52"/>
<circle cx="303.72" cy="366.71" r="0.95" fill="#8fee7c"/>
<circle cx="310.65" cy="390.45" r="0.95" fill="#1d6fb8"/>
<circle cx="302.70" cy="428.06" r="0.95" fill="#f8dcb0"/>
<circle cx="304.70" cy="407.38" r="0.95" fill="#8fee7c"/>
<circle cx="297.99" cy="370.91" r="0.95" fill="#7c1fa3"/>
<circle cx="303.59" cy="362.02" r="0.95" fill="#7c1fa3"/>
<circle cx="293.20" cy="408.92" r="0.95" fill="#8fee7c"/>
<circle cx="298.99" cy="370.86" r="0.95" fill="#8fee7c"/>
<circle cx="313.63" cy="403.03" r="0.95" fill="#155fd0"/>
<circle cx="298.30" cy="410.84" r="0.95" fill="#d07cb4"/>
<circle cx="300.58" cy="410.94" r="0.95" fill="#22cbdc"/>
<circle cx="309.91" cy="425.29" r="0.95" fill="#f27b52"/>
<circle cx="302.37" cy="423.59" r="0.95" fill="#155fd0"/>
<circle cx="300.60" cy="411.90" r="0.95" fill="#8fee7c"/>
<circle cx="308.76" cy="384.20" r="0.95" fill="#8fee7c"/>
<circle cx="296.90" cy="411.16" r="0.95" fill="#155fd0"/>
<circle cx="308.19" cy="391.92" r="0.95" fill="#1d6fb8"/>
<circle cx="312.90" cy="405.13" r="0.95" fill="#15707f"/>
<circle cx="297.35" cy="423.78" r="0.95" fill="#22cbdc"/>
<circle cx="299.47" cy="421.97" r="0.95" fill="#8fee7c"/>
<circle cx="300.16" cy="371.53" r="0.95" fill="#d07cb4"/>
<circle cx="297.57" cy="410.45" r="0.95" fill="#15707f"/>
<circle cx="309.53" cy="429.08" r="0.95" fill="#f8dcb0"/>
<circle cx="298.26" cy="429.18" r="0.95" fill="#1d6fb8"/>
<circle cx="294.43" cy="414.05" r="0.95" fill="#155fd0"/>
<circle cx="301.58" cy="410.82" r="0.95" fill="#15707f"/>
<circle cx="295.45" cy="425.61" r="0.95" fill="#f27b52"/>
<circle cx="303.70" cy="413.19" r="0.95" fill="#7c1fa3"/>
<circle cx="307.34" cy="383.40" r="0.95" fill="#1d6fb8"/>
<circle cx="307.06" cy="392.59" r="0.95" fill="#d07cb4"/>
<circle cx="302.19" cy="388.87" r="0.95" fill="#8fee7c"/>
<circle cx="310.06" cy="393.22" r="0.95" fill="#1e9ef0"/>
<circle cx="308.07" cy="394.14" r="0.95" fill="#15707f"/>
<circle cx="309.20" cy="386.03" r="0.95" fill="#155fd0"/>
<circle cx="303.83" cy="407.00" r="0.95" fill="#1e9ef0"/>
<circle cx="293.86" cy="416.83" r="0.95" fill="#15707f"/>
<circle cx="306.59" cy="390.67" r="0.95" fill="#15707f"/>
<circle cx="308.85" cy="407.68" r="0.95" fill="#7c1fa3"/>
<circle cx="302.33" cy="361.17" r="0.95" fill="#155fd0"/>
<circle cx="306.05" cy="398.61" r="0.95" fill="#155fd0"/>
<circle cx="300.83" cy="421.60" r="0.95" fill="#1d6fb8"/>
<circle cx="297.88" cy="427.85" r="0.95" fill="#f27b52"/>
<circle cx="302.48" cy="388.85" r="0.95" fill="#1e9ef0"/>
<circle cx="304.78" cy="421.64" r="0.95" fill="#1e9ef0"/>
<circle cx="297.57" cy="407.46" r="0.95" fill="#1e9ef0"/>
<circle cx="304.75" cy="390.43" r="0.95" fill="#8fee7c"/>
<circle cx="306.04" cy="417.18" r="0.95" fill="#155fd0"/>
<circle cx="301.04" cy="408.06" r="0.95" fill="#d07cb4"/>
<circle cx="309.46" cy="425.68" r="0.95" fill="#8fee7c"/>
<circle cx="307.33" cy="376.57" r="0.95" fill="#155fd0"/>
<circle cx="305.71" cy="408.17" r="0.95" fill="#155fd0"/>
<circle cx="303.78" cy="364.37" r="0.95" fill="#8fee7c"/>
<circle cx="299.21" cy="408.70" r="0.95" fill="#8fee7c"/>
<circle cx="300.36" cy="381.33" r="0.95" fill="#15707f"/>
<circle cx="305.85" cy="390.72" r="0.95" fill="#1e9ef0"/>
<circle cx="295.06" cy="415.03" r="0.95" fill="#f8dcb0"/>
<circle cx="307.26" cy="424.02" r="0.95" fill="#1e9ef0"/>
<circle cx="297.17" cy="367.40" r="0.95" fill="#d07cb4"/>
<circle cx="299.63" cy="407.56" r="0.95" fill="#7c1fa3"/>
<circle cx="297.68" cy="416.27" r="0.95" fill="#f27b52"/>
<circle cx="304.25" cy="407.24" r="0.95" fill="#1e9ef0"/>
<circle cx="301.69" cy="412.38" r="0.95" fill="#155fd0"/>
<circle cx="307.14" cy="395.69" r="0.95" fill="#15707f"/>
<circle cx="309.88" cy="388.28" r="0.95" fill="#155fd0"/>
<circle cx="284.50" cy="408.70" r="1.10" fill="#1e9ef0"/>
<circle cx="283.70" cy="409.60" r="1.00" fill="#1e9ef0"/>
<circle cx="290.60" cy="407.80" r="1.00" fill="#155fd0"/>
<line x1="92.40" y1="470.60" x2="95.80" y2="473.90" stroke="#1d6fb8" stroke-width="1.8"/>
<line x1="256.80" y1="470.60" x2="259.60" y2="473.60" stroke="#22cbdc" stroke-width="1.8"/>
<path d="M24.1,482.2 L24.1,455.5 M24.1,482.2 L51.4,482.2" stroke="#555" stroke-width="0.9" fill="none"/>
<path d="M22.3,458.1 L24.1,455.5 L25.900000000000002,458.1" stroke="#555" stroke-width="0.9" fill="none"/>
<path d="M48.8,480.4 L51.4,482.2 L48.8,484.0" stroke="#555" stroke-width="0.9" fill="none"/>
<text x="20.40" y="466.45" font-size="7.2" text-anchor="middle" fill="#141414" transform="rotate(-90 20.40 466.45)">UMAP_2</text>
<text x="25.70" y="490.30" font-size="7.2" text-anchor="start" fill="#141414">UMAP_1</text>
<circle cx="113.20" cy="438.00" r="2.50" fill="#15707f"/>
<text x="118.70" y="440.45" font-size="6.85" text-anchor="start" fill="#141414">CARFLIDFGGVDYW</text>
<circle cx="279.20" cy="438.00" r="2.50" fill="#15707f"/>
<text x="285.30" y="440.45" font-size="6.85" text-anchor="start" fill="#141414">CTTDDLVGATPWGYDTFDFW</text>
<circle cx="113.20" cy="445.52" r="2.50" fill="#f27b52"/>
<text x="118.70" y="447.97" font-size="6.85" text-anchor="start" fill="#141414">CFRPDTNMVDW</text>
<circle cx="279.20" cy="445.52" r="2.50" fill="#f27b52"/>
<text x="285.30" y="447.97" font-size="6.85" text-anchor="start" fill="#141414">CARHGRGLELLSTMPKYYYGMDVW</text>
<circle cx="113.20" cy="453.04" r="2.50" fill="#7c1fa3"/>
<text x="118.70" y="455.49" font-size="6.85" text-anchor="start" fill="#141414">CARSILIELGEGYYYGMDVW</text>
<circle cx="279.20" cy="453.04" r="2.50" fill="#7c1fa3"/>
<text x="285.30" y="455.49" font-size="6.85" text-anchor="start" fill="#141414">CARGPKAVGTGMSALGTRRYYYMDVW</text>
<circle cx="113.20" cy="460.56" r="2.50" fill="#1e9ef0"/>
<text x="118.70" y="463.01" font-size="6.85" text-anchor="start" fill="#141414">CARQYYDTVTGGIMDVW</text>
<circle cx="279.20" cy="460.56" r="2.50" fill="#1e9ef0"/>
<text x="285.30" y="463.01" font-size="6.85" text-anchor="start" fill="#141414">CAKGVDSYASGGYDW</text>
<circle cx="113.20" cy="468.08" r="2.50" fill="#22cbdc"/>
<text x="118.70" y="470.53" font-size="6.85" text-anchor="start" fill="#141414">CARETAFGADWYFDLW</text>
<circle cx="279.20" cy="468.08" r="2.50" fill="#22cbdc"/>
<text x="285.30" y="470.53" font-size="6.85" text-anchor="start" fill="#141414">CTREGAWETRETYYFDYW</text>
<circle cx="113.20" cy="475.60" r="2.50" fill="#155fd0"/>
<text x="118.70" y="478.05" font-size="6.85" text-anchor="start" fill="#141414">CVRGVLSAYTFYGMDVW</text>
<circle cx="279.20" cy="475.60" r="2.50" fill="#155fd0"/>
<text x="285.30" y="478.05" font-size="6.85" text-anchor="start" fill="#141414">CARDGVYHGTGSYYDFW</text>
<circle cx="113.20" cy="483.12" r="2.50" fill="#d07cb4"/>
<text x="118.70" y="485.57" font-size="6.85" text-anchor="start" fill="#141414">CARDASGVNINYYYSMDVW</text>
<circle cx="279.20" cy="483.12" r="2.50" fill="#d07cb4"/>
<text x="285.30" y="485.57" font-size="6.85" text-anchor="start" fill="#141414">CARGEGFWSGSYTGFVYFDYW</text>
<circle cx="113.20" cy="490.64" r="2.50" fill="#f8dcb0"/>
<text x="118.70" y="493.09" font-size="6.85" text-anchor="start" fill="#141414">CAREVRATVTQWGPGWFDSW</text>
<circle cx="279.20" cy="490.64" r="2.50" fill="#f8dcb0"/>
<text x="285.30" y="493.09" font-size="6.85" text-anchor="start" fill="#141414">CARGGGFSDYDPQYFYYMDVW</text>
<circle cx="113.20" cy="498.16" r="2.50" fill="#1d6fb8"/>
<text x="118.70" y="500.61" font-size="6.85" text-anchor="start" fill="#141414">CAKDVFDSSGYFSYHYHYGMDVW</text>
<circle cx="279.20" cy="498.16" r="2.50" fill="#1d6fb8"/>
<text x="285.30" y="500.61" font-size="6.85" text-anchor="start" fill="#141414">CAGFGESTGGYFDYW</text>
<circle cx="113.20" cy="505.68" r="2.50" fill="#8fee7c"/>
<text x="118.70" y="508.13" font-size="6.85" text-anchor="start" fill="#141414">CAKAGCGGFCYGNYFDFW</text>
<circle cx="279.20" cy="505.68" r="2.50" fill="#8fee7c"/>
<text x="285.30" y="508.13" font-size="6.85" text-anchor="start" fill="#141414">CARDRNGWDKYYYFMDVW</text>
<text x="419.20" y="348.00" font-size="13.5" text-anchor="start" font-weight="bold" fill="#1a1a1a">g</text>
<line x1="449.60" y1="353.50" x2="449.60" y2="488.10" stroke="#333" stroke-width="0.8"/>
<line x1="449.20" y1="488.10" x2="521.50" y2="488.10" stroke="#333" stroke-width="0.8"/>
<line x1="447.50" y1="481.90" x2="449.60" y2="481.90" stroke="#333" stroke-width="0.7"/>
<text x="448.00" y="484.60" font-size="7.7" text-anchor="end" fill="#222">0.0</text>
<line x1="447.50" y1="440.95" x2="449.60" y2="440.95" stroke="#333" stroke-width="0.7"/>
<text x="448.00" y="443.65" font-size="7.7" text-anchor="end" fill="#222">0.5</text>
<line x1="447.50" y1="400.00" x2="449.60" y2="400.00" stroke="#333" stroke-width="0.7"/>
<text x="448.00" y="402.70" font-size="7.7" text-anchor="end" fill="#222">1.0</text>
<line x1="447.50" y1="359.05" x2="449.60" y2="359.05" stroke="#333" stroke-width="0.7"/>
<text x="448.00" y="361.75" font-size="7.7" text-anchor="end" fill="#222">1.5</text>
<line x1="469.00" y1="488.10" x2="469.00" y2="490.10" stroke="#333" stroke-width="0.7"/>
<text x="469.00" y="496.90" font-size="7.4" text-anchor="middle" fill="#222">CTL</text>
<line x1="502.90" y1="488.10" x2="502.90" y2="490.10" stroke="#333" stroke-width="0.7"/>
<text x="502.90" y="496.90" font-size="7.4" text-anchor="middle" fill="#222">CIP</text>
<text x="435.60" y="421.50" font-size="8.5" text-anchor="middle" fill="#141414" transform="rotate(-90 435.60 421.50)">Cell freq. (% of B cells)</text>
<line x1="469.20" y1="435.30" x2="469.20" y2="442.00" stroke="#5dbb96" stroke-width="0.9"/>
<line x1="469.20" y1="457.60" x2="469.20" y2="461.30" stroke="#5dbb96" stroke-width="0.9"/>
<rect x="457.60" y="442.00" width="23.20" height="15.60" fill="#ffffff" stroke="#5dbb96" stroke-width="0.9"/>
<line x1="457.60" y1="455.60" x2="480.80" y2="455.60" stroke="#5dbb96" stroke-width="0.9"/>
<line x1="501.75" y1="373.90" x2="501.75" y2="395.70" stroke="#e3bf6f" stroke-width="0.9"/>
<line x1="501.75" y1="428.40" x2="501.75" y2="432.80" stroke="#e3bf6f" stroke-width="0.9"/>
<rect x="490.00" y="395.70" width="23.50" height="32.70" fill="#ffffff" stroke="#e3bf6f" stroke-width="0.9"/>
<line x1="490.00" y1="423.40" x2="513.50" y2="423.40" stroke="#e3bf6f" stroke-width="0.9"/>
<circle cx="465.70" cy="438.50" r="2.60" fill="#5dbb96"/>
<circle cx="473.20" cy="436.10" r="2.60" fill="#5dbb96"/>
<circle cx="474.30" cy="437.10" r="2.60" fill="#5dbb96"/>
<circle cx="467.00" cy="450.90" r="2.60" fill="#5dbb96"/>
<circle cx="462.50" cy="456.40" r="2.60" fill="#5dbb96"/>
<circle cx="471.40" cy="453.40" r="2.60" fill="#5dbb96"/>
<circle cx="474.90" cy="454.90" r="2.60" fill="#5dbb96"/>
<circle cx="470.20" cy="461.30" r="2.60" fill="#5dbb96"/>
<circle cx="460.80" cy="457.00" r="2.60" fill="#5dbb96"/>
<circle cx="499.70" cy="373.90" r="2.60" fill="#e0bb62"/>
<circle cx="504.90" cy="389.50" r="2.60" fill="#e0bb62"/>
<circle cx="503.40" cy="394.00" r="2.60" fill="#e0bb62"/>
<circle cx="503.40" cy="402.40" r="2.60" fill="#e0bb62"/>
<circle cx="496.20" cy="426.20" r="2.60" fill="#e0bb62"/>
<circle cx="506.10" cy="423.70" r="2.60" fill="#e0bb62"/>
<circle cx="497.20" cy="428.60" r="2.60" fill="#e0bb62"/>
<circle cx="504.90" cy="432.80" r="2.60" fill="#e0bb62"/>
<circle cx="503.60" cy="433.50" r="2.60" fill="#e0bb62"/>
<path d="M467.7,366.0 L467.7,362.7 L502.4,362.7 L502.4,366.0" stroke="#333" stroke-width="0.8" fill="none"/>
<text x="485.6" y="360.3" font-size="7.4" text-anchor="middle" fill="#141414"><tspan font-style="italic">P</tspan> = 0.0002</text>
<text x="534.20" y="348.60" font-size="13.5" text-anchor="start" font-weight="bold" fill="#1a1a1a">h</text>
<rect x="572.00" y="478.21" width="23.00" height="9.99" fill="#fdf92e"/>
<rect x="572.00" y="427.89" width="23.00" height="50.33" fill="#e8541a"/>
<rect x="572.00" y="417.11" width="23.00" height="10.77" fill="#3b80be"/>
<rect x="572.00" y="356.80" width="23.00" height="60.31" fill="#f6ad2f"/>
<rect x="605.90" y="470.72" width="22.60" height="17.48" fill="#fdf92e"/>
<rect x="605.90" y="450.23" width="22.60" height="20.50" fill="#fd7e05"/>
<rect x="605.90" y="440.37" width="22.60" height="9.85" fill="#9a4ea6"/>
<rect x="605.90" y="376.38" width="22.60" height="63.99" fill="#e8541a"/>
<rect x="605.90" y="366.00" width="22.60" height="10.38" fill="#3b80be"/>
<rect x="605.90" y="356.80" width="22.60" height="9.20" fill="#f6ad2f"/>
<line x1="595.00" y1="356.80" x2="605.90" y2="356.80" stroke="#bbb" stroke-width="0.5"/>
<line x1="595.00" y1="417.11" x2="605.90" y2="376.38" stroke="#bbb" stroke-width="0.5"/>
<line x1="595.00" y1="478.21" x2="605.90" y2="470.72" stroke="#bbb" stroke-width="0.5"/>
<line x1="595.00" y1="488.20" x2="605.90" y2="488.20" stroke="#bbb" stroke-width="0.5"/>
<rect x="597.1" y="373.1" width="5.3" height="2.3" fill="#c4c4c4"/>
<rect x="596.4" y="440.9" width="6.8" height="2.3" fill="#c4c4c4"/><rect x="598.65" y="438.6" width="2.3" height="6.9" fill="#c4c4c4"/>
<line x1="566.70" y1="355.80" x2="566.70" y2="488.60" stroke="#333" stroke-width="0.8"/>
<line x1="566.30" y1="488.60" x2="631.80" y2="488.60" stroke="#333" stroke-width="0.8"/>
<line x1="564.60" y1="488.20" x2="566.70" y2="488.20" stroke="#333" stroke-width="0.7"/>
<text x="564.10" y="490.80" font-size="7.4" text-anchor="end" fill="#222">0</text>
<line x1="564.60" y1="455.35" x2="566.70" y2="455.35" stroke="#333" stroke-width="0.7"/>
<text x="564.10" y="457.95" font-size="7.4" text-anchor="end" fill="#222">25</text>
<line x1="564.60" y1="422.50" x2="566.70" y2="422.50" stroke="#333" stroke-width="0.7"/>
<text x="564.10" y="425.10" font-size="7.4" text-anchor="end" fill="#222">50</text>
<line x1="564.60" y1="389.65" x2="566.70" y2="389.65" stroke="#333" stroke-width="0.7"/>
<text x="564.10" y="392.25" font-size="7.4" text-anchor="end" fill="#222">75</text>
<line x1="564.60" y1="356.80" x2="566.70" y2="356.80" stroke="#333" stroke-width="0.7"/>
<text x="564.10" y="359.40" font-size="7.4" text-anchor="end" fill="#222">100</text>
<line x1="583.50" y1="488.60" x2="583.50" y2="490.60" stroke="#333" stroke-width="0.7"/>
<text x="583.50" y="497.00" font-size="7.4" text-anchor="middle" fill="#222">CTL</text>
<line x1="617.20" y1="488.60" x2="617.20" y2="490.60" stroke="#333" stroke-width="0.7"/>
<text x="617.20" y="497.00" font-size="7.4" text-anchor="middle" fill="#222">CIP</text>
<text x="549.10" y="423.50" font-size="8.5" text-anchor="middle" fill="#141414" transform="rotate(-90 549.10 423.50)">Relative Abundance(%)</text>
<text x="637.90" y="399.60" font-size="8.4" text-anchor="start" fill="#141414">C_genes</text>
<rect x="635.00" y="404.60" width="7.20" height="7.20" fill="#f6ad2f"/>
<text x="645.80" y="410.80" font-size="7.4" text-anchor="start" fill="#141414">IGHA1</text>
<rect x="635.00" y="414.10" width="7.20" height="7.20" fill="#3b80be"/>
<text x="645.80" y="420.30" font-size="7.4" text-anchor="start" fill="#141414">IGHA2</text>
<rect x="635.00" y="423.60" width="7.20" height="7.20" fill="#e8541a"/>
<text x="645.80" y="429.80" font-size="7.4" text-anchor="start" fill="#141414">IGHG1</text>
<rect x="635.00" y="433.10" width="7.20" height="7.20" fill="#9a4ea6"/>
<text x="645.80" y="439.30" font-size="7.4" text-anchor="start" fill="#141414">IGHG2</text>
<rect x="635.00" y="442.60" width="7.20" height="7.20" fill="#fd7e05"/>
<text x="645.80" y="448.80" font-size="7.4" text-anchor="start" fill="#141414">IGHG3</text>
<rect x="635.00" y="452.10" width="7.20" height="7.20" fill="#fdf92e"/>
<text x="645.80" y="458.30" font-size="7.4" text-anchor="start" fill="#141414">IGHM</text>
<text x="0.00" y="522.20" font-size="13.5" text-anchor="start" font-weight="bold" fill="#1a1a1a">i</text>
<line x1="29.80" y1="539.30" x2="29.80" y2="670.60" stroke="#333" stroke-width="0.8"/>
<line x1="29.40" y1="670.60" x2="75.10" y2="670.60" stroke="#333" stroke-width="0.8"/>
<line x1="27.70" y1="550.30" x2="29.80" y2="550.30" stroke="#333" stroke-width="0.7"/>
<text x="27.40" y="553.00" font-size="7.7" text-anchor="end" fill="#161616">IGHM</text>
<line x1="27.70" y1="568.37" x2="29.80" y2="568.37" stroke="#333" stroke-width="0.7"/>
<text x="27.40" y="571.07" font-size="7.7" text-anchor="end" fill="#161616">IGHA1</text>
<line x1="27.70" y1="586.44" x2="29.80" y2="586.44" stroke="#333" stroke-width="0.7"/>
<text x="27.40" y="589.14" font-size="7.7" text-anchor="end" fill="#161616">IGHA2</text>
<line x1="27.70" y1="604.51" x2="29.80" y2="604.51" stroke="#333" stroke-width="0.7"/>
<text x="27.40" y="607.21" font-size="7.7" text-anchor="end" fill="#161616">IGHG1</text>
<line x1="27.70" y1="622.58" x2="29.80" y2="622.58" stroke="#333" stroke-width="0.7"/>
<text x="27.40" y="625.28" font-size="7.7" text-anchor="end" fill="#161616">IGHG2</text>
<line x1="27.70" y1="640.65" x2="29.80" y2="640.65" stroke="#333" stroke-width="0.7"/>
<text x="27.40" y="643.35" font-size="7.7" text-anchor="end" fill="#161616">IGHG3</text>
<line x1="27.70" y1="658.72" x2="29.80" y2="658.72" stroke="#333" stroke-width="0.7"/>
<text x="27.40" y="661.42" font-size="7.7" text-anchor="end" fill="#161616">IGHG4</text>
<line x1="41.70" y1="670.60" x2="41.70" y2="672.60" stroke="#333" stroke-width="0.7"/>
<text x="41.70" y="680.80" font-size="7.4" text-anchor="middle" fill="#222">CTL</text>
<line x1="62.70" y1="670.60" x2="62.70" y2="672.60" stroke="#333" stroke-width="0.7"/>
<text x="62.70" y="680.80" font-size="7.4" text-anchor="middle" fill="#222">CIP</text>
<circle cx="41.70" cy="550.30" r="3.70" fill="#f3d585"/>
<circle cx="62.70" cy="550.30" r="3.50" fill="#431038"/>
<circle cx="41.70" cy="568.37" r="8.15" fill="#431038"/>
<circle cx="62.70" cy="568.37" r="6.35" fill="#f3d585"/>
<circle cx="41.70" cy="586.44" r="3.95" fill="#f3d585"/>
<circle cx="62.70" cy="586.44" r="3.15" fill="#431038"/>
<circle cx="41.70" cy="604.51" r="7.40" fill="#f3d585"/>
<circle cx="62.70" cy="604.51" r="7.65" fill="#471139"/>
<circle cx="41.70" cy="622.58" r="2.30" fill="#f3d585"/>
<circle cx="62.70" cy="622.58" r="3.30" fill="#431038"/>
<circle cx="41.70" cy="640.65" r="5.25" fill="#f3d585"/>
<circle cx="62.70" cy="640.65" r="6.35" fill="#471139"/>
<circle cx="41.70" cy="658.72" r="5.50" fill="#f3d585"/>
<circle cx="62.70" cy="658.72" r="6.85" fill="#471139"/>
<text x="75.20" y="560.80" font-size="8.4" text-anchor="start" fill="#141414">Average Expr.</text>
<defs><linearGradient id="gi" x1="0" y1="0" x2="0" y2="1">
<stop offset="0.000" stop-color="#431038"/>
<stop offset="0.050" stop-color="#50123a"/>
<stop offset="0.100" stop-color="#5c133d"/>
<stop offset="0.150" stop-color="#69153f"/>
<stop offset="0.200" stop-color="#78173f"/>
<stop offset="0.250" stop-color="#881a3d"/>
<stop offset="0.300" stop-color="#991d3b"/>
<stop offset="0.350" stop-color="#a92139"/>
<stop offset="0.400" stop-color="#b72835"/>
<stop offset="0.450" stop-color="#c43030"/>
<stop offset="0.500" stop-color="#d2382c"/>
<stop offset="0.550" stop-color="#db4c2a"/>
<stop offset="0.600" stop-color="#e56127"/>
<stop offset="0.650" stop-color="#ee7525"/>
<stop offset="0.700" stop-color="#f2842c"/>
<stop offset="0.750" stop-color="#f49136"/>
<stop offset="0.800" stop-color="#f79e40"/>
<stop offset="0.850" stop-color="#f7ac4f"/>
<stop offset="0.900" stop-color="#f6bc63"/>
<stop offset="0.950" stop-color="#f4cb78"/>
<stop offset="1.000" stop-color="#f3da8c"/>
</linearGradient></defs>
<rect x="84.30" y="566.10" width="9.60" height="43.30" fill="url(#gi)"/>
<line x1="84.30" y1="575.00" x2="86.20" y2="575.00" stroke="#fff" stroke-width="0.6"/>
<line x1="92.00" y1="575.00" x2="93.90" y2="575.00" stroke="#fff" stroke-width="0.6"/>
<text x="95.90" y="577.60" font-size="7.4" text-anchor="start" fill="#141414">0.4</text>
<line x1="84.30" y1="587.20" x2="86.20" y2="587.20" stroke="#fff" stroke-width="0.6"/>
<line x1="92.00" y1="587.20" x2="93.90" y2="587.20" stroke="#fff" stroke-width="0.6"/>
<text x="95.90" y="589.80" font-size="7.4" text-anchor="start" fill="#141414">0.0</text>
<line x1="84.30" y1="600.70" x2="86.20" y2="600.70" stroke="#fff" stroke-width="0.6"/>
<line x1="92.00" y1="600.70" x2="93.90" y2="600.70" stroke="#fff" stroke-width="0.6"/>
<text x="95.90" y="603.30" font-size="7.4" text-anchor="start" fill="#141414">&#8722;0.4</text>
<text x="76.10" y="623.40" font-size="8.4" text-anchor="start" fill="#141414">Percent Expr.</text>
<circle cx="88.30" cy="632.10" r="2.45" fill="#111"/>
<text x="98.80" y="634.70" font-size="7.4" text-anchor="start" fill="#141414">20</text>
<circle cx="88.30" cy="642.60" r="4.00" fill="#111"/>
<text x="98.80" y="645.20" font-size="7.4" text-anchor="start" fill="#141414">40</text>
<circle cx="88.30" cy="656.60" r="6.65" fill="#111"/>
<text x="98.80" y="659.20" font-size="7.4" text-anchor="start" fill="#141414">60</text>
<defs><filter id="soft" x="-5%" y="-5%" width="110%" height="110%"><feGaussianBlur stdDeviation="0.6"/></filter><filter id="rag" x="-10%" y="-10%" width="120%" height="120%"><feTurbulence type="fractalNoise" baseFrequency="0.18" numOctaves="2" seed="2" result="t"/><feDisplacementMap in="SourceGraphic" in2="t" scale="7" xChannelSelector="R" yChannelSelector="G"/></filter><filter id="rag2" x="-10%" y="-10%" width="120%" height="120%"><feTurbulence type="fractalNoise" baseFrequency="0.3" numOctaves="2" seed="9" result="t"/><feDisplacementMap in="SourceGraphic" in2="t" scale="3.5" xChannelSelector="R" yChannelSelector="G"/></filter><filter id="grB1" x="0" y="0" width="100%" height="100%" color-interpolation-filters="sRGB"><feTurbulence type="fractalNoise" baseFrequency="0.75" numOctaves="2" seed="7"/><feColorMatrix type="matrix" values="0 0 0 0 0.72  0 0 0 0 0.53  0 0 0 0 0.38  3.6 0 0 0 -1.95"/></filter><filter id="grU1" x="0" y="0" width="100%" height="100%" color-interpolation-filters="sRGB"><feTurbulence type="fractalNoise" baseFrequency="0.8" numOctaves="1" seed="11"/><feColorMatrix type="matrix" values="0 0 0 0 0.52  0 0 0 0 0.54  0 0 0 0 0.78  0 5 0 0 -2.9"/></filter><filter id="grB2" x="0" y="0" width="100%" height="100%" color-interpolation-filters="sRGB"><feTurbulence type="fractalNoise" baseFrequency="0.09 0.30" numOctaves="3" seed="4"/><feColorMatrix type="matrix" values="0 0 0 0 0.68  0 0 0 0 0.44  0 0 0 0 0.24  6 0 0 0 -3.25"/></filter><filter id="grW1" x="0" y="0" width="100%" height="100%" color-interpolation-filters="sRGB"><feTurbulence type="fractalNoise" baseFrequency="0.7" numOctaves="1" seed="21"/><feColorMatrix type="matrix" values="0 0 0 0 0.98  0 0 0 0 0.97  0 0 0 0 0.96  0 0 4 0 -2.3"/></filter></defs>
<text x="127.20" y="522.40" font-size="13.5" text-anchor="start" font-weight="bold" fill="#1a1a1a">j</text>
<defs><clipPath id="clip11"><rect x="134.2" y="520.3" width="106.6" height="80.3"/></clipPath></defs>
<g clip-path="url(#clip11)"><g filter="url(#soft)">
<rect x="134.20" y="520.30" width="106.60" height="80.30" fill="#e8d6c6"/>
<rect x="134.2" y="520.3" width="106.6" height="80.3" fill="#000" filter="url(#grB1)"/>
<rect x="134.2" y="520.3" width="106.6" height="80.3" fill="#000" filter="url(#grU1)"/>
<rect x="134.2" y="520.3" width="106.6" height="80.3" fill="#000" filter="url(#grW1)"/>
<g filter="url(#rag)">
<path d="M134.3,545.3 L141.0,542.9 L148.1,546.1 L152.9,553.2 L150.5,559.6 L142.5,560.7 L134.3,561.2 Z" fill="#fbf9f7" stroke="#fbf9f7" stroke-width="1.2" stroke-linejoin="round"/>
<path d="M134.3,565.1 L144.1,561.6 L155.3,560.7 L162.4,565.1 L164.0,574.7 L160.8,584.2 L152.1,589.0 L141.0,587.4 L134.3,582.7 Z" fill="#fbf9f7" stroke="#fbf9f7" stroke-width="1.2" stroke-linejoin="round"/>
<path d="M165.6,562.0 L171.2,561.2 L175.2,566.7 L176.0,576.3 L172.8,580.3 L167.2,577.9 L164.8,569.9 Z" fill="#fbf9f7" stroke="#fbf9f7" stroke-width="1.2" stroke-linejoin="round"/>
<path d="M203.8,554.8 L212.6,550.0 L225.3,549.2 L234.8,553.2 L242.0,560.4 L242.0,571.5 L228.5,573.1 L215.7,569.9 L206.2,564.4 Z" fill="#fbf9f7" stroke="#fbf9f7" stroke-width="1.2" stroke-linejoin="round"/>
<path d="M205.4,578.7 L215.7,573.9 L228.5,576.3 L236.4,584.2 L233.3,593.8 L222.1,595.4 L211.0,592.2 Z" fill="#fbf9f7" stroke="#fbf9f7" stroke-width="1.2" stroke-linejoin="round"/>
<path d="M156.9,534.1 L164.8,532.5 L171.2,538.1 L170.4,545.3 L162.4,546.1 L156.9,541.3 Z" fill="#fbf9f7" stroke="#fbf9f7" stroke-width="1.2" stroke-linejoin="round"/>
<path d="M175.2,542.1 L182.3,541.3 L186.3,546.8 L183.9,552.4 L176.8,551.6 Z" fill="#fbf9f7" stroke="#fbf9f7" stroke-width="1.2" stroke-linejoin="round"/>
<path d="M183.9,522.2 L193.5,522.5 L194.3,527.8 L186.3,528.5 Z" fill="#fbf9f7" stroke="#fbf9f7" stroke-width="1.2" stroke-linejoin="round"/>
<path d="M211.8,522.2 L222.1,523.0 L222.9,529.3 L213.4,530.1 Z" fill="#fbf9f7" stroke="#fbf9f7" stroke-width="1.2" stroke-linejoin="round"/>
<path d="M224.5,526.2 L234.8,527.0 L236.4,535.7 L227.7,537.3 Z" fill="#fbf9f7" stroke="#fbf9f7" stroke-width="1.2" stroke-linejoin="round"/>
<path d="M176.0,587.4 L185.5,585.0 L196.7,589.0 L198.2,599.4 L177.6,599.4 Z" fill="#fbf9f7" stroke="#fbf9f7" stroke-width="1.2" stroke-linejoin="round"/>
<path d="M191.9,541.3 L199.8,539.7 L203.0,545.3 L196.7,549.2 L191.1,546.8 Z" fill="#fbf9f7" stroke="#fbf9f7" stroke-width="1.2" stroke-linejoin="round"/>
<path d="M142.5,522.2 L150.5,521.9 L152.1,527.0 L144.1,527.8 Z" fill="#fbf9f7" stroke="#fbf9f7" stroke-width="1.2" stroke-linejoin="round"/>
<path d="M139.4,534.9 L147.3,534.1 L148.9,539.7 L141.0,540.5 Z" fill="#fbf9f7" stroke="#fbf9f7" stroke-width="1.2" stroke-linejoin="round"/>
</g>
<circle cx="182.42" cy="565.25" r="0.77" fill="#c49a78" opacity="0.6"/>
<circle cx="182.37" cy="588.96" r="0.48" fill="#a8a6cc" opacity="0.6"/>
<circle cx="184.92" cy="569.60" r="0.47" fill="#c49a78" opacity="0.6"/>
<circle cx="166.54" cy="527.58" r="0.72" fill="#a8a6cc" opacity="0.6"/>
<circle cx="201.83" cy="568.11" r="0.56" fill="#c49a78" opacity="0.6"/>
<circle cx="203.91" cy="569.73" r="0.46" fill="#d2b090" opacity="0.6"/>
<circle cx="222.86" cy="525.37" r="0.41" fill="#d2b090" opacity="0.6"/>
<circle cx="198.12" cy="582.78" r="0.53" fill="#a8a6cc" opacity="0.6"/>
<circle cx="224.00" cy="561.99" r="0.66" fill="#c49a78" opacity="0.6"/>
<circle cx="134.69" cy="527.12" r="0.66" fill="#c49a78" opacity="0.6"/>
<circle cx="240.55" cy="600.25" r="0.74" fill="#a8a6cc" opacity="0.6"/>
<circle cx="161.28" cy="581.17" r="0.61" fill="#d2b090" opacity="0.6"/>
<circle cx="141.69" cy="581.83" r="0.56" fill="#c49a78" opacity="0.6"/>
<circle cx="175.40" cy="597.23" r="0.74" fill="#d2b090" opacity="0.6"/>
<circle cx="156.96" cy="594.74" r="0.42" fill="#c49a78" opacity="0.6"/>
<circle cx="238.71" cy="552.21" r="0.43" fill="#a8a6cc" opacity="0.6"/>
<circle cx="155.36" cy="574.50" r="0.53" fill="#c49a78" opacity="0.6"/>
<circle cx="169.65" cy="597.72" r="0.70" fill="#d2b090" opacity="0.6"/>
<circle cx="148.55" cy="577.07" r="0.40" fill="#c49a78" opacity="0.6"/>
<circle cx="219.16" cy="534.57" r="0.62" fill="#c49a78" opacity="0.6"/>
<circle cx="188.45" cy="599.42" r="0.71" fill="#c49a78" opacity="0.6"/>
<circle cx="202.82" cy="529.66" r="0.57" fill="#d2b090" opacity="0.6"/>
<circle cx="134.25" cy="589.71" r="0.79" fill="#a8a6cc" opacity="0.6"/>
<circle cx="166.62" cy="591.35" r="0.48" fill="#c49a78" opacity="0.6"/>
<circle cx="240.36" cy="568.64" r="0.63" fill="#d2b090" opacity="0.6"/>
<circle cx="239.66" cy="537.42" r="0.50" fill="#a8a6cc" opacity="0.6"/>
<circle cx="169.27" cy="544.09" r="0.43" fill="#d2b090" opacity="0.6"/>
<circle cx="156.45" cy="571.42" r="0.41" fill="#c49a78" opacity="0.6"/>
<circle cx="173.82" cy="556.69" r="0.78" fill="#c49a78" opacity="0.6"/>
<circle cx="222.93" cy="531.20" r="0.55" fill="#a8a6cc" opacity="0.6"/>
<circle cx="150.63" cy="593.25" r="0.73" fill="#d2b090" opacity="0.6"/>
<circle cx="211.53" cy="533.03" r="0.65" fill="#a8a6cc" opacity="0.6"/>
<circle cx="155.16" cy="596.60" r="0.75" fill="#a8a6cc" opacity="0.6"/>
<circle cx="142.57" cy="524.11" r="0.44" fill="#a8a6cc" opacity="0.6"/>
<circle cx="236.82" cy="539.44" r="0.68" fill="#c49a78" opacity="0.6"/>
<circle cx="179.06" cy="592.96" r="0.60" fill="#a8a6cc" opacity="0.6"/>
<circle cx="152.90" cy="578.14" r="0.43" fill="#d2b090" opacity="0.6"/>
<circle cx="185.29" cy="572.78" r="0.65" fill="#d2b090" opacity="0.6"/>
<circle cx="164.07" cy="593.96" r="0.48" fill="#d2b090" opacity="0.6"/>
<circle cx="141.57" cy="553.34" r="0.50" fill="#d2b090" opacity="0.6"/>
<circle cx="152.99" cy="549.91" r="0.63" fill="#d2b090" opacity="0.6"/>
<circle cx="144.03" cy="531.41" r="0.58" fill="#c49a78" opacity="0.6"/>
<circle cx="204.23" cy="575.81" r="0.63" fill="#d2b090" opacity="0.6"/>
<circle cx="197.08" cy="594.46" r="0.59" fill="#c49a78" opacity="0.6"/>
<circle cx="208.92" cy="597.61" r="0.41" fill="#a8a6cc" opacity="0.6"/>
<circle cx="142.18" cy="525.70" r="0.52" fill="#d2b090" opacity="0.6"/>
<circle cx="240.73" cy="526.34" r="0.62" fill="#a8a6cc" opacity="0.6"/>
<circle cx="138.94" cy="595.48" r="0.69" fill="#d2b090" opacity="0.6"/>
<circle cx="218.76" cy="593.77" r="0.54" fill="#a8a6cc" opacity="0.6"/>
<circle cx="184.65" cy="526.54" r="0.74" fill="#d2b090" opacity="0.6"/>
<circle cx="226.25" cy="566.30" r="0.65" fill="#c49a78" opacity="0.6"/>
<circle cx="174.62" cy="521.30" r="0.43" fill="#d2b090" opacity="0.6"/>
<circle cx="202.36" cy="600.06" r="0.75" fill="#a8a6cc" opacity="0.6"/>
<circle cx="169.39" cy="595.32" r="0.68" fill="#c49a78" opacity="0.6"/>
<circle cx="181.16" cy="587.62" r="0.43" fill="#a8a6cc" opacity="0.6"/>
<circle cx="137.38" cy="568.58" r="0.59" fill="#d2b090" opacity="0.6"/>
<circle cx="236.26" cy="529.36" r="0.71" fill="#a8a6cc" opacity="0.6"/>
<circle cx="232.32" cy="540.84" r="0.40" fill="#c49a78" opacity="0.6"/>
<circle cx="149.47" cy="569.42" r="0.61" fill="#c49a78" opacity="0.6"/>
<circle cx="204.55" cy="555.79" r="0.76" fill="#c49a78" opacity="0.6"/>
<circle cx="177.35" cy="540.42" r="0.65" fill="#d2b090" opacity="0.6"/>
<circle cx="228.04" cy="551.17" r="0.63" fill="#c49a78" opacity="0.6"/>
<circle cx="156.57" cy="531.10" r="0.54" fill="#d2b090" opacity="0.6"/>
<circle cx="210.02" cy="596.59" r="0.51" fill="#d2b090" opacity="0.6"/>
<circle cx="146.23" cy="558.15" r="0.77" fill="#c49a78" opacity="0.6"/>
<circle cx="174.98" cy="562.05" r="0.67" fill="#a8a6cc" opacity="0.6"/>
<circle cx="223.65" cy="599.16" r="0.58" fill="#d2b090" opacity="0.6"/>
<circle cx="222.54" cy="542.63" r="0.64" fill="#a8a6cc" opacity="0.6"/>
<circle cx="209.74" cy="566.12" r="0.52" fill="#a8a6cc" opacity="0.6"/>
<circle cx="136.24" cy="531.21" r="0.58" fill="#d2b090" opacity="0.6"/>
<circle cx="216.20" cy="541.69" r="0.71" fill="#d2b090" opacity="0.6"/>
<circle cx="239.10" cy="529.56" r="0.44" fill="#a8a6cc" opacity="0.6"/>
<circle cx="204.03" cy="585.13" r="0.78" fill="#a8a6cc" opacity="0.6"/>
<circle cx="155.31" cy="586.45" r="0.50" fill="#a8a6cc" opacity="0.6"/>
<circle cx="135.35" cy="558.22" r="0.69" fill="#d2b090" opacity="0.6"/>
<circle cx="158.34" cy="582.82" r="0.62" fill="#a8a6cc" opacity="0.6"/>
<circle cx="187.54" cy="600.34" r="0.46" fill="#a8a6cc" opacity="0.6"/>
<circle cx="230.80" cy="527.30" r="0.77" fill="#a8a6cc" opacity="0.6"/>
<circle cx="175.56" cy="556.48" r="0.48" fill="#d2b090" opacity="0.6"/>
<circle cx="174.37" cy="565.98" r="0.75" fill="#c49a78" opacity="0.6"/>
<circle cx="183.63" cy="572.60" r="0.48" fill="#a8a6cc" opacity="0.6"/>
<circle cx="226.53" cy="584.40" r="0.77" fill="#d2b090" opacity="0.6"/>
<circle cx="156.94" cy="592.57" r="0.79" fill="#c49a78" opacity="0.6"/>
<circle cx="191.44" cy="583.80" r="0.53" fill="#a8a6cc" opacity="0.6"/>
<circle cx="225.43" cy="548.29" r="0.43" fill="#c49a78" opacity="0.6"/>
<circle cx="170.66" cy="554.14" r="0.51" fill="#d2b090" opacity="0.6"/>
<circle cx="157.47" cy="589.96" r="0.57" fill="#d2b090" opacity="0.6"/>
<circle cx="152.63" cy="547.20" r="0.72" fill="#d2b090" opacity="0.6"/>
<circle cx="184.36" cy="600.59" r="0.76" fill="#a8a6cc" opacity="0.6"/>
<circle cx="223.74" cy="575.66" r="0.78" fill="#c49a78" opacity="0.6"/>
<circle cx="195.92" cy="575.63" r="0.70" fill="#c49a78" opacity="0.6"/>
<circle cx="190.34" cy="543.60" r="0.69" fill="#a8a6cc" opacity="0.6"/>
<circle cx="151.72" cy="561.59" r="0.76" fill="#c49a78" opacity="0.6"/>
<circle cx="167.43" cy="550.91" r="0.74" fill="#a8a6cc" opacity="0.6"/>
<circle cx="156.40" cy="588.62" r="0.79" fill="#a8a6cc" opacity="0.6"/>
<circle cx="163.30" cy="560.26" r="0.56" fill="#d2b090" opacity="0.6"/>
<circle cx="187.84" cy="568.90" r="0.41" fill="#d2b090" opacity="0.6"/>
<circle cx="189.21" cy="552.47" r="0.72" fill="#a8a6cc" opacity="0.6"/>
<circle cx="147.20" cy="527.79" r="0.47" fill="#a8a6cc" opacity="0.6"/>
<circle cx="183.12" cy="594.24" r="0.72" fill="#c49a78" opacity="0.6"/>
<circle cx="162.90" cy="558.29" r="0.45" fill="#c49a78" opacity="0.6"/>
<circle cx="230.24" cy="595.44" r="0.77" fill="#a8a6cc" opacity="0.6"/>
<circle cx="168.02" cy="535.67" r="0.65" fill="#c49a78" opacity="0.6"/>
<circle cx="148.00" cy="582.88" r="0.41" fill="#d2b090" opacity="0.6"/>
<circle cx="150.78" cy="521.25" r="0.51" fill="#a8a6cc" opacity="0.6"/>
<circle cx="172.08" cy="570.07" r="0.44" fill="#a8a6cc" opacity="0.6"/>
<circle cx="196.27" cy="588.71" r="0.65" fill="#a8a6cc" opacity="0.6"/>
<circle cx="155.28" cy="562.89" r="0.57" fill="#c49a78" opacity="0.6"/>
<circle cx="201.68" cy="586.56" r="0.65" fill="#a8a6cc" opacity="0.6"/>
<circle cx="155.97" cy="570.99" r="0.66" fill="#a8a6cc" opacity="0.6"/>
<circle cx="157.24" cy="563.90" r="0.63" fill="#d2b090" opacity="0.6"/>
<circle cx="159.00" cy="579.78" r="0.72" fill="#d2b090" opacity="0.6"/>
<circle cx="167.87" cy="545.59" r="0.77" fill="#d2b090" opacity="0.6"/>
<circle cx="217.17" cy="535.92" r="0.44" fill="#d2b090" opacity="0.6"/>
<circle cx="148.33" cy="527.38" r="0.56" fill="#c49a78" opacity="0.6"/>
<circle cx="222.91" cy="554.16" r="0.72" fill="#d2b090" opacity="0.6"/>
<circle cx="155.59" cy="570.73" r="0.72" fill="#d2b090" opacity="0.6"/>
<circle cx="155.62" cy="575.10" r="0.76" fill="#c49a78" opacity="0.6"/>
<circle cx="146.50" cy="560.91" r="0.70" fill="#a8a6cc" opacity="0.6"/>
<circle cx="240.65" cy="587.19" r="0.72" fill="#c49a78" opacity="0.6"/>
<circle cx="145.52" cy="523.31" r="0.62" fill="#a8a6cc" opacity="0.6"/>
<circle cx="230.68" cy="558.95" r="0.48" fill="#d2b090" opacity="0.6"/>
<circle cx="155.94" cy="587.77" r="0.80" fill="#a8a6cc" opacity="0.6"/>
<circle cx="144.35" cy="525.27" r="0.78" fill="#c49a78" opacity="0.6"/>
<circle cx="142.47" cy="528.07" r="0.56" fill="#c49a78" opacity="0.6"/>
<circle cx="189.13" cy="554.84" r="0.64" fill="#d2b090" opacity="0.6"/>
<circle cx="201.79" cy="523.58" r="0.48" fill="#c49a78" opacity="0.6"/>
<circle cx="182.59" cy="579.67" r="0.56" fill="#d2b090" opacity="0.6"/>
<circle cx="198.68" cy="527.91" r="0.72" fill="#c49a78" opacity="0.6"/>
<circle cx="229.41" cy="584.68" r="0.68" fill="#a8a6cc" opacity="0.6"/>
<circle cx="234.36" cy="566.05" r="0.48" fill="#a8a6cc" opacity="0.6"/>
<circle cx="238.95" cy="584.93" r="0.50" fill="#d2b090" opacity="0.6"/>
<circle cx="213.56" cy="582.77" r="0.73" fill="#c49a78" opacity="0.6"/>
<circle cx="148.40" cy="546.79" r="0.62" fill="#c49a78" opacity="0.6"/>
<circle cx="215.99" cy="581.75" r="0.56" fill="#a8a6cc" opacity="0.6"/>
<circle cx="153.90" cy="584.33" r="0.52" fill="#d2b090" opacity="0.6"/>
<circle cx="135.33" cy="548.86" r="0.66" fill="#a8a6cc" opacity="0.6"/>
<circle cx="139.48" cy="542.22" r="0.78" fill="#c49a78" opacity="0.6"/>
<circle cx="170.21" cy="573.28" r="0.63" fill="#a8a6cc" opacity="0.6"/>
<circle cx="142.39" cy="561.63" r="0.60" fill="#d2b090" opacity="0.6"/>
<circle cx="208.95" cy="581.47" r="0.79" fill="#d2b090" opacity="0.6"/>
<circle cx="146.43" cy="528.98" r="0.49" fill="#c49a78" opacity="0.6"/>
<circle cx="177.01" cy="524.35" r="0.48" fill="#c49a78" opacity="0.6"/>
<circle cx="135.35" cy="541.06" r="0.51" fill="#c49a78" opacity="0.6"/>
<circle cx="192.84" cy="561.08" r="0.79" fill="#a8a6cc" opacity="0.6"/>
<circle cx="224.42" cy="528.30" r="0.58" fill="#a8a6cc" opacity="0.6"/>
<circle cx="142.32" cy="568.28" r="0.70" fill="#d2b090" opacity="0.6"/>
<circle cx="175.39" cy="595.67" r="0.55" fill="#d2b090" opacity="0.6"/>
<circle cx="225.41" cy="563.82" r="0.64" fill="#c49a78" opacity="0.6"/>
<circle cx="234.97" cy="554.08" r="0.61" fill="#a8a6cc" opacity="0.6"/>
<circle cx="167.50" cy="562.89" r="0.59" fill="#c49a78" opacity="0.6"/>
<circle cx="193.96" cy="543.07" r="0.69" fill="#c49a78" opacity="0.6"/>
<circle cx="137.06" cy="582.33" r="0.63" fill="#a8a6cc" opacity="0.6"/>
<circle cx="150.89" cy="580.90" r="0.56" fill="#c49a78" opacity="0.6"/>
<circle cx="213.98" cy="524.33" r="0.80" fill="#c49a78" opacity="0.6"/>
<circle cx="142.04" cy="593.02" r="0.57" fill="#c49a78" opacity="0.6"/>
<circle cx="160.95" cy="580.97" r="0.42" fill="#d2b090" opacity="0.6"/>
<circle cx="234.11" cy="578.34" r="0.59" fill="#d2b090" opacity="0.6"/>
<circle cx="198.55" cy="529.54" r="0.65" fill="#c49a78" opacity="0.6"/>
<circle cx="146.78" cy="589.45" r="0.54" fill="#d2b090" opacity="0.6"/>
</g></g>
<defs><clipPath id="clip12"><rect x="243.7" y="520.3" width="106.3" height="80.3"/></clipPath></defs>
<g clip-path="url(#clip12)"><g filter="url(#soft)">
<rect x="243.70" y="520.30" width="106.30" height="80.30" fill="#f6f1ed"/>
<circle cx="294.15" cy="573.10" r="1.67" fill="#e6dde6" opacity="0.85"/>
<circle cx="284.27" cy="600.33" r="1.48" fill="#e2d8e4" opacity="0.85"/>
<circle cx="329.84" cy="575.75" r="1.60" fill="#e2d8e4" opacity="0.85"/>
<circle cx="243.88" cy="570.43" r="1.98" fill="#ebe0d8" opacity="0.85"/>
<circle cx="260.95" cy="593.05" r="1.06" fill="#e6dde6" opacity="0.85"/>
<circle cx="251.63" cy="575.46" r="1.34" fill="#ebe0d8" opacity="0.85"/>
<circle cx="328.51" cy="527.31" r="1.92" fill="#e2d8e4" opacity="0.85"/>
<circle cx="297.80" cy="527.61" r="1.99" fill="#ebe0d8" opacity="0.85"/>
<circle cx="255.66" cy="554.28" r="1.14" fill="#ebe0d8" opacity="0.85"/>
<circle cx="337.46" cy="565.12" r="1.98" fill="#e6dde6" opacity="0.85"/>
<circle cx="302.71" cy="561.03" r="1.08" fill="#e2d8e4" opacity="0.85"/>
<circle cx="288.22" cy="568.16" r="1.48" fill="#ebe0d8" opacity="0.85"/>
<circle cx="301.22" cy="571.75" r="1.08" fill="#e6dde6" opacity="0.85"/>
<circle cx="347.48" cy="573.59" r="1.36" fill="#ebe0d8" opacity="0.85"/>
<circle cx="335.77" cy="551.26" r="1.31" fill="#ebe0d8" opacity="0.85"/>
<circle cx="268.68" cy="549.47" r="1.51" fill="#e2d8e4" opacity="0.85"/>
<circle cx="262.77" cy="550.89" r="1.86" fill="#e6dde6" opacity="0.85"/>
<circle cx="298.87" cy="538.14" r="1.43" fill="#ebe0d8" opacity="0.85"/>
<circle cx="265.43" cy="569.07" r="1.75" fill="#e6dde6" opacity="0.85"/>
<circle cx="262.63" cy="576.18" r="1.04" fill="#ebe0d8" opacity="0.85"/>
<circle cx="296.67" cy="568.65" r="1.73" fill="#e2d8e4" opacity="0.85"/>
<circle cx="292.52" cy="537.07" r="1.28" fill="#ebe0d8" opacity="0.85"/>
<circle cx="317.79" cy="589.00" r="1.24" fill="#e6dde6" opacity="0.85"/>
<circle cx="293.10" cy="564.37" r="1.18" fill="#e2d8e4" opacity="0.85"/>
<circle cx="267.07" cy="569.04" r="1.95" fill="#ebe0d8" opacity="0.85"/>
<circle cx="262.79" cy="584.13" r="1.50" fill="#e6dde6" opacity="0.85"/>
<circle cx="309.51" cy="599.30" r="2.00" fill="#e2d8e4" opacity="0.85"/>
<circle cx="260.16" cy="594.78" r="1.88" fill="#e2d8e4" opacity="0.85"/>
<circle cx="332.14" cy="571.64" r="1.23" fill="#e2d8e4" opacity="0.85"/>
<circle cx="297.08" cy="559.63" r="1.35" fill="#e2d8e4" opacity="0.85"/>
<circle cx="344.33" cy="592.11" r="1.16" fill="#ebe0d8" opacity="0.85"/>
<circle cx="309.27" cy="523.99" r="1.33" fill="#e2d8e4" opacity="0.85"/>
<circle cx="311.76" cy="556.04" r="1.79" fill="#e2d8e4" opacity="0.85"/>
<circle cx="274.00" cy="540.77" r="1.68" fill="#e2d8e4" opacity="0.85"/>
<circle cx="246.60" cy="565.11" r="1.27" fill="#e6dde6" opacity="0.85"/>
<circle cx="269.34" cy="555.25" r="1.98" fill="#e2d8e4" opacity="0.85"/>
<circle cx="304.31" cy="578.02" r="1.94" fill="#ebe0d8" opacity="0.85"/>
<circle cx="324.53" cy="553.84" r="1.59" fill="#ebe0d8" opacity="0.85"/>
<circle cx="327.60" cy="566.89" r="1.35" fill="#ebe0d8" opacity="0.85"/>
<circle cx="311.53" cy="551.22" r="1.16" fill="#e2d8e4" opacity="0.85"/>
<circle cx="319.19" cy="592.88" r="1.80" fill="#e6dde6" opacity="0.85"/>
<circle cx="340.49" cy="563.26" r="1.79" fill="#ebe0d8" opacity="0.85"/>
<circle cx="327.93" cy="577.34" r="1.19" fill="#ebe0d8" opacity="0.85"/>
<circle cx="342.99" cy="575.64" r="1.54" fill="#e2d8e4" opacity="0.85"/>
<circle cx="308.66" cy="537.32" r="1.60" fill="#e2d8e4" opacity="0.85"/>
<circle cx="285.60" cy="540.03" r="1.41" fill="#ebe0d8" opacity="0.85"/>
<circle cx="252.45" cy="547.00" r="1.69" fill="#e2d8e4" opacity="0.85"/>
<circle cx="276.92" cy="576.17" r="1.76" fill="#e2d8e4" opacity="0.85"/>
<circle cx="311.43" cy="555.31" r="1.18" fill="#e6dde6" opacity="0.85"/>
<circle cx="295.56" cy="555.93" r="1.18" fill="#e2d8e4" opacity="0.85"/>
<circle cx="306.86" cy="556.99" r="1.88" fill="#e6dde6" opacity="0.85"/>
<circle cx="344.03" cy="520.92" r="1.36" fill="#ebe0d8" opacity="0.85"/>
<circle cx="333.93" cy="575.58" r="1.30" fill="#e2d8e4" opacity="0.85"/>
<circle cx="341.37" cy="560.53" r="1.70" fill="#e6dde6" opacity="0.85"/>
<circle cx="296.93" cy="551.52" r="1.50" fill="#e2d8e4" opacity="0.85"/>
<circle cx="270.26" cy="557.21" r="1.85" fill="#e6dde6" opacity="0.85"/>
<circle cx="287.02" cy="576.42" r="1.79" fill="#e2d8e4" opacity="0.85"/>
<circle cx="315.28" cy="573.56" r="1.97" fill="#e2d8e4" opacity="0.85"/>
<circle cx="304.33" cy="545.36" r="1.76" fill="#e6dde6" opacity="0.85"/>
<circle cx="277.96" cy="560.44" r="1.36" fill="#ebe0d8" opacity="0.85"/>
<circle cx="261.81" cy="558.61" r="1.80" fill="#e6dde6" opacity="0.85"/>
<circle cx="270.47" cy="523.99" r="1.80" fill="#ebe0d8" opacity="0.85"/>
<circle cx="287.13" cy="570.69" r="1.28" fill="#e2d8e4" opacity="0.85"/>
<circle cx="277.82" cy="530.40" r="1.64" fill="#e2d8e4" opacity="0.85"/>
<circle cx="308.38" cy="583.28" r="1.41" fill="#e2d8e4" opacity="0.85"/>
<circle cx="313.70" cy="547.59" r="1.77" fill="#ebe0d8" opacity="0.85"/>
<circle cx="284.59" cy="552.38" r="1.81" fill="#e6dde6" opacity="0.85"/>
<circle cx="327.55" cy="587.41" r="1.11" fill="#ebe0d8" opacity="0.85"/>
<circle cx="299.27" cy="524.55" r="1.84" fill="#e2d8e4" opacity="0.85"/>
<circle cx="330.99" cy="549.11" r="1.73" fill="#ebe0d8" opacity="0.85"/>
<circle cx="325.64" cy="589.27" r="1.31" fill="#e6dde6" opacity="0.85"/>
<circle cx="323.32" cy="589.32" r="1.56" fill="#e6dde6" opacity="0.85"/>
<circle cx="245.08" cy="534.03" r="1.16" fill="#e2d8e4" opacity="0.85"/>
<circle cx="329.66" cy="594.74" r="1.98" fill="#ebe0d8" opacity="0.85"/>
<circle cx="301.76" cy="522.04" r="1.91" fill="#ebe0d8" opacity="0.85"/>
<circle cx="316.51" cy="563.36" r="1.45" fill="#e2d8e4" opacity="0.85"/>
<circle cx="244.36" cy="530.47" r="1.39" fill="#ebe0d8" opacity="0.85"/>
<circle cx="311.26" cy="557.82" r="1.63" fill="#ebe0d8" opacity="0.85"/>
<circle cx="334.36" cy="591.99" r="1.03" fill="#ebe0d8" opacity="0.85"/>
<circle cx="245.88" cy="532.75" r="1.76" fill="#ebe0d8" opacity="0.85"/>
<circle cx="317.09" cy="597.09" r="1.68" fill="#ebe0d8" opacity="0.85"/>
<circle cx="302.03" cy="597.60" r="1.37" fill="#e6dde6" opacity="0.85"/>
<circle cx="332.89" cy="530.68" r="1.06" fill="#e6dde6" opacity="0.85"/>
<circle cx="288.67" cy="585.01" r="1.84" fill="#e6dde6" opacity="0.85"/>
<circle cx="246.99" cy="575.43" r="1.56" fill="#e2d8e4" opacity="0.85"/>
<circle cx="345.80" cy="580.26" r="1.95" fill="#e6dde6" opacity="0.85"/>
<circle cx="306.76" cy="567.44" r="1.80" fill="#e2d8e4" opacity="0.85"/>
<circle cx="265.66" cy="581.07" r="1.42" fill="#e2d8e4" opacity="0.85"/>
<circle cx="331.98" cy="584.55" r="1.39" fill="#e2d8e4" opacity="0.85"/>
<circle cx="308.21" cy="596.81" r="1.99" fill="#e2d8e4" opacity="0.85"/>
<circle cx="342.92" cy="549.39" r="1.30" fill="#ebe0d8" opacity="0.85"/>
<circle cx="307.49" cy="574.03" r="1.01" fill="#e6dde6" opacity="0.85"/>
<circle cx="256.80" cy="555.30" r="1.34" fill="#ebe0d8" opacity="0.85"/>
<circle cx="324.20" cy="547.58" r="1.38" fill="#ebe0d8" opacity="0.85"/>
<circle cx="280.11" cy="591.72" r="1.64" fill="#e2d8e4" opacity="0.85"/>
<circle cx="282.15" cy="538.81" r="1.39" fill="#e2d8e4" opacity="0.85"/>
<circle cx="303.70" cy="587.63" r="1.67" fill="#ebe0d8" opacity="0.85"/>
<circle cx="322.89" cy="540.55" r="1.42" fill="#e6dde6" opacity="0.85"/>
<circle cx="256.38" cy="567.43" r="1.49" fill="#ebe0d8" opacity="0.85"/>
<circle cx="301.96" cy="568.15" r="1.58" fill="#ebe0d8" opacity="0.85"/>
<circle cx="279.39" cy="550.36" r="1.91" fill="#ebe0d8" opacity="0.85"/>
<circle cx="344.00" cy="568.34" r="1.07" fill="#e2d8e4" opacity="0.85"/>
<circle cx="286.19" cy="536.76" r="1.32" fill="#ebe0d8" opacity="0.85"/>
<circle cx="309.18" cy="589.23" r="1.14" fill="#ebe0d8" opacity="0.85"/>
<circle cx="279.03" cy="573.10" r="1.40" fill="#e2d8e4" opacity="0.85"/>
<circle cx="278.63" cy="563.45" r="1.83" fill="#e2d8e4" opacity="0.85"/>
<circle cx="254.45" cy="540.39" r="1.81" fill="#e6dde6" opacity="0.85"/>
<circle cx="315.32" cy="534.08" r="1.44" fill="#ebe0d8" opacity="0.85"/>
<circle cx="250.84" cy="575.53" r="1.19" fill="#ebe0d8" opacity="0.85"/>
<circle cx="311.53" cy="571.47" r="1.59" fill="#ebe0d8" opacity="0.85"/>
<circle cx="322.73" cy="545.20" r="1.13" fill="#ebe0d8" opacity="0.85"/>
<circle cx="285.34" cy="557.67" r="1.36" fill="#e2d8e4" opacity="0.85"/>
<circle cx="339.69" cy="536.08" r="1.59" fill="#e2d8e4" opacity="0.85"/>
<circle cx="295.25" cy="573.24" r="1.72" fill="#e2d8e4" opacity="0.85"/>
<circle cx="279.80" cy="552.34" r="1.14" fill="#e6dde6" opacity="0.85"/>
<circle cx="338.34" cy="583.73" r="1.39" fill="#ebe0d8" opacity="0.85"/>
<circle cx="339.63" cy="532.47" r="1.84" fill="#ebe0d8" opacity="0.85"/>
<circle cx="305.05" cy="534.70" r="1.42" fill="#e6dde6" opacity="0.85"/>
<circle cx="258.82" cy="556.68" r="1.53" fill="#e6dde6" opacity="0.85"/>
<circle cx="260.55" cy="530.08" r="1.83" fill="#ebe0d8" opacity="0.85"/>
<circle cx="298.14" cy="544.99" r="1.09" fill="#e6dde6" opacity="0.85"/>
<circle cx="259.23" cy="538.61" r="1.86" fill="#ebe0d8" opacity="0.85"/>
<circle cx="342.75" cy="562.73" r="1.37" fill="#e6dde6" opacity="0.85"/>
<circle cx="257.08" cy="536.95" r="1.84" fill="#e6dde6" opacity="0.85"/>
<circle cx="327.83" cy="541.24" r="1.53" fill="#ebe0d8" opacity="0.85"/>
<circle cx="255.24" cy="569.87" r="1.19" fill="#e2d8e4" opacity="0.85"/>
<circle cx="332.91" cy="572.02" r="1.44" fill="#e6dde6" opacity="0.85"/>
<circle cx="349.05" cy="551.14" r="1.84" fill="#e6dde6" opacity="0.85"/>
<circle cx="251.96" cy="594.20" r="1.52" fill="#e2d8e4" opacity="0.85"/>
<circle cx="327.53" cy="598.31" r="1.76" fill="#ebe0d8" opacity="0.85"/>
<circle cx="301.53" cy="588.32" r="1.37" fill="#e6dde6" opacity="0.85"/>
<circle cx="246.29" cy="584.23" r="1.53" fill="#e2d8e4" opacity="0.85"/>
<circle cx="273.14" cy="545.32" r="1.30" fill="#ebe0d8" opacity="0.85"/>
<circle cx="328.70" cy="580.26" r="1.52" fill="#e2d8e4" opacity="0.85"/>
<circle cx="315.69" cy="590.09" r="1.65" fill="#ebe0d8" opacity="0.85"/>
<circle cx="317.30" cy="548.13" r="1.65" fill="#e6dde6" opacity="0.85"/>
<circle cx="255.90" cy="585.16" r="1.06" fill="#e6dde6" opacity="0.85"/>
<circle cx="257.96" cy="597.89" r="1.53" fill="#e6dde6" opacity="0.85"/>
<circle cx="301.98" cy="592.35" r="1.35" fill="#e6dde6" opacity="0.85"/>
<circle cx="332.16" cy="521.87" r="1.14" fill="#ebe0d8" opacity="0.85"/>
<circle cx="304.22" cy="576.60" r="1.75" fill="#ebe0d8" opacity="0.85"/>
<circle cx="323.52" cy="543.22" r="1.76" fill="#ebe0d8" opacity="0.85"/>
<circle cx="265.61" cy="596.94" r="1.93" fill="#ebe0d8" opacity="0.85"/>
<circle cx="281.75" cy="527.85" r="1.49" fill="#ebe0d8" opacity="0.85"/>
<circle cx="281.50" cy="523.52" r="1.30" fill="#e2d8e4" opacity="0.85"/>
<circle cx="309.82" cy="564.85" r="1.01" fill="#e2d8e4" opacity="0.85"/>
<circle cx="336.39" cy="545.61" r="1.94" fill="#e6dde6" opacity="0.85"/>
<circle cx="341.30" cy="539.51" r="1.55" fill="#e2d8e4" opacity="0.85"/>
<circle cx="338.66" cy="591.32" r="1.09" fill="#e6dde6" opacity="0.85"/>
<circle cx="308.50" cy="579.96" r="1.99" fill="#e2d8e4" opacity="0.85"/>
<circle cx="279.89" cy="541.79" r="1.05" fill="#e6dde6" opacity="0.85"/>
<circle cx="340.59" cy="545.73" r="1.05" fill="#ebe0d8" opacity="0.85"/>
<circle cx="313.89" cy="558.85" r="1.20" fill="#e6dde6" opacity="0.85"/>
<circle cx="309.72" cy="586.64" r="1.67" fill="#ebe0d8" opacity="0.85"/>
<circle cx="338.97" cy="595.16" r="1.51" fill="#e2d8e4" opacity="0.85"/>
<circle cx="339.87" cy="563.17" r="1.39" fill="#ebe0d8" opacity="0.85"/>
<circle cx="348.39" cy="588.21" r="1.68" fill="#e2d8e4" opacity="0.85"/>
<circle cx="316.25" cy="562.87" r="1.72" fill="#e6dde6" opacity="0.85"/>
<circle cx="255.89" cy="572.50" r="1.21" fill="#ebe0d8" opacity="0.85"/>
<circle cx="310.05" cy="546.64" r="1.99" fill="#e2d8e4" opacity="0.85"/>
<circle cx="291.61" cy="527.57" r="1.66" fill="#e6dde6" opacity="0.85"/>
<circle cx="261.65" cy="588.18" r="1.57" fill="#e6dde6" opacity="0.85"/>
<circle cx="312.81" cy="531.87" r="1.54" fill="#e6dde6" opacity="0.85"/>
<circle cx="320.58" cy="570.58" r="1.66" fill="#e6dde6" opacity="0.85"/>
<circle cx="268.48" cy="578.95" r="1.48" fill="#e6dde6" opacity="0.85"/>
<circle cx="260.63" cy="527.41" r="1.94" fill="#e2d8e4" opacity="0.85"/>
<circle cx="349.41" cy="565.43" r="1.23" fill="#ebe0d8" opacity="0.85"/>
<circle cx="328.02" cy="598.25" r="1.89" fill="#e2d8e4" opacity="0.85"/>
<circle cx="302.07" cy="540.18" r="1.86" fill="#ebe0d8" opacity="0.85"/>
<circle cx="270.29" cy="551.85" r="1.55" fill="#e2d8e4" opacity="0.85"/>
<circle cx="337.07" cy="574.07" r="1.43" fill="#e6dde6" opacity="0.85"/>
<circle cx="291.60" cy="562.09" r="1.96" fill="#e2d8e4" opacity="0.85"/>
<circle cx="289.95" cy="589.56" r="1.18" fill="#e6dde6" opacity="0.85"/>
<circle cx="315.17" cy="521.79" r="1.12" fill="#e2d8e4" opacity="0.85"/>
<circle cx="258.66" cy="544.31" r="1.21" fill="#ebe0d8" opacity="0.85"/>
<circle cx="312.92" cy="577.23" r="1.84" fill="#e6dde6" opacity="0.85"/>
<circle cx="297.98" cy="583.99" r="1.07" fill="#e6dde6" opacity="0.85"/>
<circle cx="341.06" cy="522.35" r="1.33" fill="#e6dde6" opacity="0.85"/>
<circle cx="259.74" cy="526.71" r="1.27" fill="#ebe0d8" opacity="0.85"/>
<circle cx="271.67" cy="578.21" r="1.12" fill="#e2d8e4" opacity="0.85"/>
<circle cx="305.86" cy="555.52" r="1.80" fill="#e6dde6" opacity="0.85"/>
<circle cx="337.10" cy="555.32" r="1.98" fill="#ebe0d8" opacity="0.85"/>
<circle cx="283.21" cy="542.79" r="1.36" fill="#e6dde6" opacity="0.85"/>
<circle cx="254.95" cy="542.26" r="1.70" fill="#ebe0d8" opacity="0.85"/>
<circle cx="326.37" cy="558.77" r="1.34" fill="#e6dde6" opacity="0.85"/>
<circle cx="252.74" cy="520.88" r="1.23" fill="#ebe0d8" opacity="0.85"/>
<circle cx="315.92" cy="589.61" r="1.92" fill="#ebe0d8" opacity="0.85"/>
<circle cx="337.80" cy="581.75" r="1.39" fill="#e6dde6" opacity="0.85"/>
<circle cx="253.54" cy="591.64" r="1.16" fill="#ebe0d8" opacity="0.85"/>
<circle cx="261.57" cy="599.77" r="1.85" fill="#ebe0d8" opacity="0.85"/>
<circle cx="276.90" cy="544.23" r="1.73" fill="#e6dde6" opacity="0.85"/>
<circle cx="243.95" cy="536.04" r="1.49" fill="#e2d8e4" opacity="0.85"/>
<circle cx="276.96" cy="577.60" r="1.17" fill="#e6dde6" opacity="0.85"/>
<circle cx="329.10" cy="553.52" r="1.08" fill="#ebe0d8" opacity="0.85"/>
<circle cx="348.83" cy="520.77" r="1.46" fill="#ebe0d8" opacity="0.85"/>
<circle cx="251.76" cy="547.45" r="1.02" fill="#ebe0d8" opacity="0.85"/>
<circle cx="288.75" cy="541.68" r="1.06" fill="#e6dde6" opacity="0.85"/>
<circle cx="265.66" cy="583.01" r="1.98" fill="#e2d8e4" opacity="0.85"/>
<circle cx="330.22" cy="579.60" r="1.23" fill="#e6dde6" opacity="0.85"/>
<circle cx="249.16" cy="584.18" r="1.65" fill="#e2d8e4" opacity="0.85"/>
<circle cx="258.96" cy="583.88" r="1.54" fill="#e6dde6" opacity="0.85"/>
<circle cx="282.79" cy="534.13" r="1.43" fill="#e6dde6" opacity="0.85"/>
<circle cx="253.36" cy="526.80" r="1.75" fill="#ebe0d8" opacity="0.85"/>
<circle cx="332.93" cy="535.16" r="1.63" fill="#e2d8e4" opacity="0.85"/>
<circle cx="296.56" cy="554.62" r="1.19" fill="#e6dde6" opacity="0.85"/>
<circle cx="276.12" cy="580.93" r="1.92" fill="#e6dde6" opacity="0.85"/>
<circle cx="294.04" cy="524.41" r="1.73" fill="#ebe0d8" opacity="0.85"/>
<circle cx="318.68" cy="596.70" r="1.17" fill="#ebe0d8" opacity="0.85"/>
<circle cx="310.40" cy="589.65" r="1.33" fill="#e6dde6" opacity="0.85"/>
<circle cx="248.03" cy="599.24" r="1.68" fill="#e6dde6" opacity="0.85"/>
<circle cx="293.87" cy="571.78" r="1.42" fill="#e2d8e4" opacity="0.85"/>
<circle cx="276.62" cy="562.75" r="1.50" fill="#ebe0d8" opacity="0.85"/>
<circle cx="305.18" cy="564.26" r="1.41" fill="#e2d8e4" opacity="0.85"/>
<circle cx="264.59" cy="520.90" r="1.47" fill="#ebe0d8" opacity="0.85"/>
<circle cx="261.92" cy="598.46" r="1.81" fill="#ebe0d8" opacity="0.85"/>
<circle cx="299.62" cy="578.67" r="1.07" fill="#e6dde6" opacity="0.85"/>
<circle cx="331.41" cy="586.80" r="1.02" fill="#ebe0d8" opacity="0.85"/>
<circle cx="303.19" cy="591.10" r="1.43" fill="#e6dde6" opacity="0.85"/>
<circle cx="348.53" cy="576.25" r="1.66" fill="#e6dde6" opacity="0.85"/>
<circle cx="262.65" cy="575.11" r="1.34" fill="#e2d8e4" opacity="0.85"/>
<g filter="url(#rag2)">
<circle cx="265.2" cy="526.1999999999999" r="5" fill="#e0c3a3" opacity="0.88"/>
<circle cx="265.2" cy="526.1999999999999" r="4.3" fill="none" stroke="#c08a55" stroke-width="1.1" opacity="0.75"/>
<circle cx="276.0" cy="526.3" r="5" fill="#e0c3a3" opacity="0.88"/>
<circle cx="276.0" cy="526.3" r="4.3" fill="none" stroke="#c08a55" stroke-width="1.1" opacity="0.75"/>
<circle cx="290.4" cy="527.0999999999999" r="5" fill="#e0c3a3" opacity="0.88"/>
<circle cx="290.4" cy="527.0999999999999" r="4.3" fill="none" stroke="#c08a55" stroke-width="1.1" opacity="0.75"/>
<circle cx="312.2" cy="525.3" r="6" fill="#e0c3a3" opacity="0.88"/>
<circle cx="312.2" cy="525.3" r="5.3" fill="none" stroke="#c08a55" stroke-width="1.1" opacity="0.75"/>
<circle cx="327.29999999999995" cy="532.9" r="5" fill="#e0c3a3" opacity="0.88"/>
<circle cx="327.29999999999995" cy="532.9" r="4.3" fill="none" stroke="#c08a55" stroke-width="1.1" opacity="0.75"/>
<circle cx="339.0" cy="538.0" r="4.5" fill="#e0c3a3" opacity="0.88"/>
<circle cx="339.0" cy="538.0" r="3.8" fill="none" stroke="#c08a55" stroke-width="1.1" opacity="0.75"/>
<circle cx="280.3" cy="543.0" r="8.5" fill="#e0c3a3" opacity="0.88"/>
<circle cx="280.3" cy="543.0" r="7.8" fill="none" stroke="#c08a55" stroke-width="1.1" opacity="0.75"/>
<circle cx="297.0" cy="544.6999999999999" r="6.5" fill="#e0c3a3" opacity="0.88"/>
<circle cx="297.0" cy="544.6999999999999" r="5.8" fill="none" stroke="#c08a55" stroke-width="1.1" opacity="0.75"/>
<circle cx="258.5" cy="544.6999999999999" r="5" fill="#e0c3a3" opacity="0.88"/>
<circle cx="258.5" cy="544.6999999999999" r="4.3" fill="none" stroke="#c08a55" stroke-width="1.1" opacity="0.75"/>
<circle cx="320.6" cy="550.5999999999999" r="6.5" fill="#e0c3a3" opacity="0.88"/>
<circle cx="320.6" cy="550.5999999999999" r="5.8" fill="none" stroke="#c08a55" stroke-width="1.1" opacity="0.75"/>
<circle cx="339.0" cy="550.5999999999999" r="5" fill="#e0c3a3" opacity="0.88"/>
<circle cx="339.0" cy="550.5999999999999" r="4.3" fill="none" stroke="#c08a55" stroke-width="1.1" opacity="0.75"/>
<circle cx="258.5" cy="556.4" r="6.5" fill="#e0c3a3" opacity="0.88"/>
<circle cx="258.5" cy="556.4" r="5.8" fill="none" stroke="#c08a55" stroke-width="1.1" opacity="0.75"/>
<circle cx="290.4" cy="559.8" r="7" fill="#e0c3a3" opacity="0.88"/>
<circle cx="290.4" cy="559.8" r="6.3" fill="none" stroke="#c08a55" stroke-width="1.1" opacity="0.75"/>
<circle cx="298.8" cy="570.6999999999999" r="6.5" fill="#e0c3a3" opacity="0.88"/>
<circle cx="298.8" cy="570.6999999999999" r="5.8" fill="none" stroke="#c08a55" stroke-width="1.1" opacity="0.75"/>
<circle cx="285.3" cy="572.3" r="5.5" fill="#e0c3a3" opacity="0.88"/>
<circle cx="285.3" cy="572.3" r="4.8" fill="none" stroke="#c08a55" stroke-width="1.1" opacity="0.75"/>
<circle cx="259.3" cy="569.0" r="4.5" fill="#e0c3a3" opacity="0.88"/>
<circle cx="259.3" cy="569.0" r="3.8" fill="none" stroke="#c08a55" stroke-width="1.1" opacity="0.75"/>
<circle cx="266.0" cy="577.4" r="5" fill="#e0c3a3" opacity="0.88"/>
<circle cx="266.0" cy="577.4" r="4.3" fill="none" stroke="#c08a55" stroke-width="1.1" opacity="0.75"/>
<circle cx="245.89999999999998" cy="577.3" r="5" fill="#e0c3a3" opacity="0.88"/>
<circle cx="245.89999999999998" cy="577.3" r="4.3" fill="none" stroke="#c08a55" stroke-width="1.1" opacity="0.75"/>
<circle cx="260.09999999999997" cy="592.5" r="5" fill="#e0c3a3" opacity="0.88"/>
<circle cx="260.09999999999997" cy="592.5" r="4.3" fill="none" stroke="#c08a55" stroke-width="1.1" opacity="0.75"/>
<circle cx="280.3" cy="592.5" r="6.5" fill="#e0c3a3" opacity="0.88"/>
<circle cx="280.3" cy="592.5" r="5.8" fill="none" stroke="#c08a55" stroke-width="1.1" opacity="0.75"/>
<circle cx="324.0" cy="570.6999999999999" r="5" fill="#e0c3a3" opacity="0.88"/>
<circle cx="324.0" cy="570.6999999999999" r="4.3" fill="none" stroke="#c08a55" stroke-width="1.1" opacity="0.75"/>
<circle cx="334.0" cy="579.0999999999999" r="4" fill="#e0c3a3" opacity="0.88"/>
<circle cx="334.0" cy="579.0999999999999" r="3.3" fill="none" stroke="#c08a55" stroke-width="1.1" opacity="0.75"/>
<circle cx="303.7" cy="535.3" r="4" fill="#e0c3a3" opacity="0.88"/>
<circle cx="303.7" cy="535.3" r="3.3" fill="none" stroke="#c08a55" stroke-width="1.1" opacity="0.75"/>
<circle cx="345.7" cy="565.3" r="4" fill="#e0c3a3" opacity="0.88"/>
<circle cx="345.7" cy="565.3" r="3.3" fill="none" stroke="#c08a55" stroke-width="1.1" opacity="0.75"/>
<circle cx="249.7" cy="535.3" r="4" fill="#e0c3a3" opacity="0.88"/>
<circle cx="249.7" cy="535.3" r="3.3" fill="none" stroke="#c08a55" stroke-width="1.1" opacity="0.75"/>
<circle cx="270.7" cy="560.3" r="4" fill="#e0c3a3" opacity="0.88"/>
<circle cx="270.7" cy="560.3" r="3.3" fill="none" stroke="#c08a55" stroke-width="1.1" opacity="0.75"/>
<ellipse cx="265.2" cy="525.8" rx="2.4" ry="1.92" fill="#7e86c0" opacity="0.8"/>
<ellipse cx="327.29999999999995" cy="532.3" rx="2.4" ry="1.92" fill="#7e86c0" opacity="0.8"/>
<ellipse cx="297.0" cy="544.3" rx="3" ry="2.4000000000000004" fill="#7e86c0" opacity="0.8"/>
<ellipse cx="339.0" cy="550.3" rx="2.4" ry="1.92" fill="#7e86c0" opacity="0.8"/>
<ellipse cx="298.7" cy="570.3" rx="2.8" ry="2.2399999999999998" fill="#7e86c0" opacity="0.8"/>
<ellipse cx="259.3" cy="569.0" rx="2.6" ry="2.08" fill="#7e86c0" opacity="0.8"/>
<ellipse cx="280.3" cy="592.3" rx="3" ry="2.4000000000000004" fill="#7e86c0" opacity="0.8"/>
<ellipse cx="290.4" cy="559.8" rx="2.5" ry="2.0" fill="#7e86c0" opacity="0.8"/>
<ellipse cx="260.09999999999997" cy="592.3" rx="2" ry="1.6" fill="#7e86c0" opacity="0.8"/>
<ellipse cx="280.3" cy="543.0" rx="2" ry="1.6" fill="#7e86c0" opacity="0.8"/>
</g>
<circle cx="304.60" cy="561.80" r="1.70" fill="#2a1830"/>
<circle cx="296.48" cy="575.08" r="0.86" fill="#b88456" opacity="0.7"/>
<circle cx="245.96" cy="594.79" r="0.45" fill="#b88456" opacity="0.7"/>
<circle cx="327.55" cy="540.90" r="0.76" fill="#c89a70" opacity="0.7"/>
<circle cx="291.78" cy="570.64" r="0.63" fill="#b88456" opacity="0.7"/>
<circle cx="317.59" cy="520.75" r="0.72" fill="#b88456" opacity="0.7"/>
<circle cx="300.68" cy="563.77" r="0.47" fill="#b88456" opacity="0.7"/>
<circle cx="300.33" cy="593.93" r="0.41" fill="#b88456" opacity="0.7"/>
<circle cx="289.66" cy="555.43" r="0.87" fill="#c89a70" opacity="0.7"/>
<circle cx="333.51" cy="595.30" r="0.42" fill="#c89a70" opacity="0.7"/>
<circle cx="250.04" cy="596.44" r="0.45" fill="#c89a70" opacity="0.7"/>
<circle cx="283.85" cy="535.39" r="0.60" fill="#c89a70" opacity="0.7"/>
<circle cx="269.71" cy="594.50" r="0.50" fill="#c89a70" opacity="0.7"/>
<circle cx="307.76" cy="590.57" r="0.89" fill="#b88456" opacity="0.7"/>
<circle cx="324.89" cy="570.60" r="0.67" fill="#b88456" opacity="0.7"/>
<circle cx="326.03" cy="532.09" r="0.80" fill="#c89a70" opacity="0.7"/>
<circle cx="283.12" cy="560.84" r="0.70" fill="#c89a70" opacity="0.7"/>
<circle cx="308.53" cy="555.10" r="0.74" fill="#b88456" opacity="0.7"/>
<circle cx="271.97" cy="559.19" r="0.46" fill="#c89a70" opacity="0.7"/>
<circle cx="274.08" cy="536.77" r="0.74" fill="#c89a70" opacity="0.7"/>
<circle cx="309.16" cy="585.71" r="0.44" fill="#c89a70" opacity="0.7"/>
<circle cx="334.65" cy="561.62" r="0.72" fill="#c89a70" opacity="0.7"/>
<circle cx="268.22" cy="523.80" r="0.71" fill="#c89a70" opacity="0.7"/>
<circle cx="324.13" cy="569.34" r="0.42" fill="#c89a70" opacity="0.7"/>
<circle cx="254.27" cy="580.85" r="0.49" fill="#c89a70" opacity="0.7"/>
<circle cx="262.65" cy="585.77" r="0.59" fill="#b88456" opacity="0.7"/>
<circle cx="347.59" cy="528.66" r="0.63" fill="#c89a70" opacity="0.7"/>
<circle cx="325.35" cy="593.87" r="0.51" fill="#c89a70" opacity="0.7"/>
<circle cx="335.17" cy="577.15" r="0.56" fill="#b88456" opacity="0.7"/>
<circle cx="275.25" cy="531.20" r="0.82" fill="#c89a70" opacity="0.7"/>
<circle cx="331.32" cy="570.71" r="0.84" fill="#b88456" opacity="0.7"/>
<circle cx="250.60" cy="580.68" r="0.43" fill="#b88456" opacity="0.7"/>
<circle cx="323.01" cy="582.01" r="0.69" fill="#b88456" opacity="0.7"/>
<circle cx="276.85" cy="595.24" r="0.75" fill="#b88456" opacity="0.7"/>
<circle cx="272.23" cy="558.89" r="0.74" fill="#b88456" opacity="0.7"/>
<circle cx="278.09" cy="553.73" r="0.85" fill="#c89a70" opacity="0.7"/>
<circle cx="262.17" cy="574.89" r="0.83" fill="#b88456" opacity="0.7"/>
<circle cx="271.86" cy="543.55" r="0.83" fill="#c89a70" opacity="0.7"/>
<circle cx="296.29" cy="541.95" r="0.84" fill="#b88456" opacity="0.7"/>
<circle cx="298.81" cy="538.80" r="0.70" fill="#c89a70" opacity="0.7"/>
<circle cx="244.82" cy="566.62" r="0.78" fill="#b88456" opacity="0.7"/>
<circle cx="292.55" cy="600.52" r="0.49" fill="#c89a70" opacity="0.7"/>
<circle cx="322.77" cy="568.40" r="0.80" fill="#b88456" opacity="0.7"/>
<circle cx="276.12" cy="586.07" r="0.81" fill="#c89a70" opacity="0.7"/>
<circle cx="320.51" cy="552.80" r="0.64" fill="#c89a70" opacity="0.7"/>
<circle cx="278.21" cy="557.38" r="0.55" fill="#c89a70" opacity="0.7"/>
<circle cx="308.94" cy="562.28" r="0.63" fill="#b88456" opacity="0.7"/>
<circle cx="304.82" cy="542.85" r="0.41" fill="#b88456" opacity="0.7"/>
<circle cx="288.06" cy="563.87" r="0.88" fill="#b88456" opacity="0.7"/>
<circle cx="259.02" cy="574.56" r="0.77" fill="#b88456" opacity="0.7"/>
<circle cx="297.67" cy="554.98" r="0.47" fill="#c89a70" opacity="0.7"/>
<circle cx="319.88" cy="542.52" r="0.60" fill="#b88456" opacity="0.7"/>
<circle cx="345.29" cy="585.98" r="0.83" fill="#c89a70" opacity="0.7"/>
<circle cx="316.04" cy="560.29" r="0.77" fill="#b88456" opacity="0.7"/>
<circle cx="332.93" cy="550.62" r="0.54" fill="#c89a70" opacity="0.7"/>
<circle cx="281.41" cy="576.61" r="0.66" fill="#c89a70" opacity="0.7"/>
<circle cx="303.27" cy="533.13" r="0.83" fill="#c89a70" opacity="0.7"/>
<circle cx="294.46" cy="522.89" r="0.66" fill="#c89a70" opacity="0.7"/>
<circle cx="296.42" cy="554.33" r="0.72" fill="#b88456" opacity="0.7"/>
<circle cx="334.18" cy="594.65" r="0.76" fill="#c89a70" opacity="0.7"/>
<circle cx="275.62" cy="594.76" r="0.84" fill="#c89a70" opacity="0.7"/>
</g></g>
<defs><clipPath id="clip13"><rect x="134.2" y="604.0" width="106.6" height="82.0"/></clipPath></defs>
<g clip-path="url(#clip13)"><g filter="url(#soft)">
<rect x="134.20" y="604.00" width="106.60" height="82.00" fill="#cdc5d3"/>
<rect x="114.19999999999999" y="584.0" width="146.6" height="122.0" fill="#000" filter="url(#grB2)" transform="rotate(-18 187.5 645.0)"/>
<rect x="134.2" y="604.0" width="106.6" height="82.0" fill="#000" filter="url(#grB1)"/>
<rect x="134.2" y="604.0" width="106.6" height="82.0" fill="#000" filter="url(#grU1)"/>
<g filter="url(#rag)">
<path d="M215.7,603.9 L242.0,603.9 L242.0,633.8 L234.8,632.2 L228.5,625.9 L222.1,619.5 L217.3,611.5 Z" fill="#fbf9f8" stroke="#fbf9f8" stroke-width="1" stroke-linejoin="round"/>
<path d="M169.6,622.7 L185.5,619.5 L199.8,617.9 L212.6,622.7 L207.8,627.5 L193.5,625.9 L180.7,629.1 L171.2,632.2 Z" fill="#fbf9f8" stroke="#fbf9f8" stroke-width="1" stroke-linejoin="round"/>
<path d="M180.7,611.5 L190.3,608.4 L199.8,611.5 L193.5,614.7 L183.9,615.5 Z" fill="#fbf9f8" stroke="#fbf9f8" stroke-width="1" stroke-linejoin="round"/>
<path d="M161.6,629.1 L171.2,630.6 L177.6,638.6 L171.2,643.4 L164.8,638.6 Z" fill="#fbf9f8" stroke="#fbf9f8" stroke-width="1" stroke-linejoin="round"/>
<path d="M193.5,629.8 L203.0,628.3 L207.8,632.2 L203.0,640.2 L196.7,638.6 Z" fill="#fbf9f8" stroke="#fbf9f8" stroke-width="1" stroke-linejoin="round"/>
<path d="M133.0,645.0 L142.5,644.2 L150.5,648.1 L142.5,652.9 L133.0,652.9 Z" fill="#fbf9f8" stroke="#fbf9f8" stroke-width="1" stroke-linejoin="round"/>
<path d="M176.0,645.0 L185.5,643.4 L188.7,649.7 L183.9,656.1 L176.0,652.9 Z" fill="#fbf9f8" stroke="#fbf9f8" stroke-width="1" stroke-linejoin="round"/>
<path d="M137.8,665.7 L152.1,662.5 L164.8,664.1 L161.6,670.4 L145.7,672.0 L136.2,672.0 Z" fill="#fbf9f8" stroke="#fbf9f8" stroke-width="1" stroke-linejoin="round"/>
<path d="M218.9,668.8 L242.0,662.5 L242.0,686.0 L222.1,686.0 L217.3,678.4 Z" fill="#fbf9f8" stroke="#fbf9f8" stroke-width="1" stroke-linejoin="round"/>
<path d="M195.1,648.1 L209.4,648.1 L206.2,654.5 L196.7,654.5 Z" fill="#fbf9f8" stroke="#fbf9f8" stroke-width="1" stroke-linejoin="round"/>
<path d="M156.9,649.7 L169.6,648.1 L172.8,654.5 L163.2,656.1 Z" fill="#fbf9f8" stroke="#fbf9f8" stroke-width="1" stroke-linejoin="round"/>
<path d="M133.0,676.8 L150.5,675.2 L163.2,680.0 L172.8,686.0 L133.0,686.0 Z" fill="#fbf9f8" stroke="#fbf9f8" stroke-width="1" stroke-linejoin="round"/>
<path d="M155.3,605.2 L168.0,604.4 L171.2,608.4 L158.5,610.0 Z" fill="#fbf9f8" stroke="#fbf9f8" stroke-width="1" stroke-linejoin="round"/>
</g>
<circle cx="161.81" cy="660.19" r="0.67" fill="#b27844" opacity="0.7"/>
<circle cx="203.70" cy="658.63" r="0.75" fill="#c09060" opacity="0.7"/>
<circle cx="212.45" cy="614.68" r="0.61" fill="#b27844" opacity="0.7"/>
<circle cx="213.58" cy="606.46" r="0.45" fill="#c09060" opacity="0.7"/>
<circle cx="199.06" cy="605.18" r="0.51" fill="#b27844" opacity="0.7"/>
<circle cx="143.26" cy="669.12" r="0.76" fill="#9c98c8" opacity="0.7"/>
<circle cx="222.29" cy="665.07" r="0.78" fill="#9c98c8" opacity="0.7"/>
<circle cx="172.12" cy="623.19" r="0.76" fill="#c09060" opacity="0.7"/>
<circle cx="194.34" cy="639.23" r="0.55" fill="#9c98c8" opacity="0.7"/>
<circle cx="202.28" cy="657.73" r="0.54" fill="#c09060" opacity="0.7"/>
<circle cx="219.29" cy="684.83" r="0.68" fill="#c09060" opacity="0.7"/>
<circle cx="199.35" cy="684.95" r="0.58" fill="#c09060" opacity="0.7"/>
<circle cx="181.47" cy="618.48" r="0.48" fill="#c09060" opacity="0.7"/>
<circle cx="172.18" cy="634.43" r="0.50" fill="#9c98c8" opacity="0.7"/>
<circle cx="176.39" cy="614.72" r="0.60" fill="#b27844" opacity="0.7"/>
<circle cx="194.47" cy="676.70" r="0.68" fill="#b27844" opacity="0.7"/>
<circle cx="142.01" cy="657.40" r="0.78" fill="#9c98c8" opacity="0.7"/>
<circle cx="134.43" cy="638.79" r="0.75" fill="#b27844" opacity="0.7"/>
<circle cx="149.31" cy="670.10" r="0.74" fill="#c09060" opacity="0.7"/>
<circle cx="161.24" cy="664.12" r="0.69" fill="#9c98c8" opacity="0.7"/>
<circle cx="228.67" cy="669.86" r="0.48" fill="#c09060" opacity="0.7"/>
<circle cx="174.15" cy="662.75" r="0.45" fill="#c09060" opacity="0.7"/>
<circle cx="198.53" cy="663.26" r="0.48" fill="#c09060" opacity="0.7"/>
<circle cx="138.74" cy="661.55" r="0.42" fill="#c09060" opacity="0.7"/>
<circle cx="211.77" cy="631.99" r="0.52" fill="#b27844" opacity="0.7"/>
<circle cx="218.14" cy="649.53" r="0.76" fill="#b27844" opacity="0.7"/>
<circle cx="141.57" cy="656.77" r="0.62" fill="#c09060" opacity="0.7"/>
<circle cx="208.30" cy="683.63" r="0.73" fill="#c09060" opacity="0.7"/>
<circle cx="144.08" cy="604.24" r="0.80" fill="#b27844" opacity="0.7"/>
<circle cx="177.70" cy="678.35" r="0.63" fill="#c09060" opacity="0.7"/>
<circle cx="142.45" cy="642.53" r="0.55" fill="#b27844" opacity="0.7"/>
<circle cx="134.81" cy="631.45" r="0.60" fill="#c09060" opacity="0.7"/>
<circle cx="189.28" cy="642.89" r="0.67" fill="#9c98c8" opacity="0.7"/>
<circle cx="219.35" cy="634.85" r="0.69" fill="#b27844" opacity="0.7"/>
<circle cx="212.91" cy="625.18" r="0.67" fill="#b27844" opacity="0.7"/>
<circle cx="161.76" cy="652.22" r="0.54" fill="#b27844" opacity="0.7"/>
<circle cx="197.32" cy="639.09" r="0.66" fill="#9c98c8" opacity="0.7"/>
<circle cx="138.26" cy="636.61" r="0.43" fill="#b27844" opacity="0.7"/>
<circle cx="198.14" cy="604.34" r="0.71" fill="#b27844" opacity="0.7"/>
<circle cx="182.12" cy="685.30" r="0.56" fill="#b27844" opacity="0.7"/>
<circle cx="165.05" cy="639.67" r="0.45" fill="#b27844" opacity="0.7"/>
<circle cx="146.13" cy="671.53" r="0.49" fill="#9c98c8" opacity="0.7"/>
<circle cx="198.50" cy="627.86" r="0.54" fill="#b27844" opacity="0.7"/>
<circle cx="172.69" cy="640.23" r="0.75" fill="#9c98c8" opacity="0.7"/>
<circle cx="138.85" cy="647.87" r="0.45" fill="#b27844" opacity="0.7"/>
<circle cx="168.60" cy="677.22" r="0.62" fill="#b27844" opacity="0.7"/>
<circle cx="230.39" cy="677.35" r="0.76" fill="#c09060" opacity="0.7"/>
<circle cx="150.16" cy="643.27" r="0.55" fill="#9c98c8" opacity="0.7"/>
<circle cx="162.35" cy="671.36" r="0.42" fill="#b27844" opacity="0.7"/>
<circle cx="205.26" cy="680.70" r="0.61" fill="#9c98c8" opacity="0.7"/>
<circle cx="154.99" cy="636.23" r="0.42" fill="#c09060" opacity="0.7"/>
<circle cx="229.88" cy="613.46" r="0.45" fill="#c09060" opacity="0.7"/>
<circle cx="215.22" cy="634.40" r="0.56" fill="#b27844" opacity="0.7"/>
<circle cx="236.73" cy="628.42" r="0.43" fill="#b27844" opacity="0.7"/>
<circle cx="233.52" cy="617.70" r="0.41" fill="#c09060" opacity="0.7"/>
<circle cx="210.54" cy="675.04" r="0.80" fill="#c09060" opacity="0.7"/>
<circle cx="179.44" cy="655.01" r="0.73" fill="#c09060" opacity="0.7"/>
<circle cx="208.91" cy="679.30" r="0.42" fill="#b27844" opacity="0.7"/>
<circle cx="167.08" cy="685.68" r="0.59" fill="#9c98c8" opacity="0.7"/>
<circle cx="150.28" cy="616.26" r="0.52" fill="#c09060" opacity="0.7"/>
<circle cx="137.32" cy="625.24" r="0.53" fill="#b27844" opacity="0.7"/>
<circle cx="235.89" cy="682.10" r="0.55" fill="#b27844" opacity="0.7"/>
<circle cx="240.08" cy="666.47" r="0.59" fill="#9c98c8" opacity="0.7"/>
<circle cx="150.73" cy="651.41" r="0.78" fill="#9c98c8" opacity="0.7"/>
<circle cx="154.87" cy="634.80" r="0.59" fill="#b27844" opacity="0.7"/>
<circle cx="137.30" cy="678.27" r="0.59" fill="#c09060" opacity="0.7"/>
<circle cx="153.25" cy="612.44" r="0.64" fill="#9c98c8" opacity="0.7"/>
<circle cx="142.80" cy="678.10" r="0.63" fill="#c09060" opacity="0.7"/>
<circle cx="223.16" cy="621.57" r="0.70" fill="#c09060" opacity="0.7"/>
<circle cx="207.89" cy="606.22" r="0.61" fill="#c09060" opacity="0.7"/>
<circle cx="149.49" cy="672.86" r="0.46" fill="#b27844" opacity="0.7"/>
<circle cx="212.23" cy="639.09" r="0.70" fill="#b27844" opacity="0.7"/>
<circle cx="186.06" cy="653.86" r="0.50" fill="#c09060" opacity="0.7"/>
<circle cx="187.93" cy="650.85" r="0.76" fill="#9c98c8" opacity="0.7"/>
<circle cx="203.80" cy="653.87" r="0.61" fill="#9c98c8" opacity="0.7"/>
<circle cx="159.30" cy="645.82" r="0.41" fill="#9c98c8" opacity="0.7"/>
<circle cx="231.65" cy="680.41" r="0.73" fill="#b27844" opacity="0.7"/>
<circle cx="206.83" cy="663.11" r="0.67" fill="#c09060" opacity="0.7"/>
<circle cx="144.10" cy="662.45" r="0.45" fill="#b27844" opacity="0.7"/>
<circle cx="197.79" cy="608.63" r="0.66" fill="#c09060" opacity="0.7"/>
<circle cx="212.59" cy="606.14" r="0.58" fill="#9c98c8" opacity="0.7"/>
<circle cx="174.83" cy="670.81" r="0.60" fill="#c09060" opacity="0.7"/>
<circle cx="188.91" cy="609.53" r="0.74" fill="#c09060" opacity="0.7"/>
<circle cx="235.73" cy="631.74" r="0.67" fill="#b27844" opacity="0.7"/>
<circle cx="207.08" cy="634.77" r="0.43" fill="#9c98c8" opacity="0.7"/>
<circle cx="233.52" cy="628.61" r="0.77" fill="#b27844" opacity="0.7"/>
<circle cx="239.33" cy="640.71" r="0.56" fill="#c09060" opacity="0.7"/>
<circle cx="229.55" cy="609.00" r="0.50" fill="#b27844" opacity="0.7"/>
<circle cx="149.74" cy="630.62" r="0.52" fill="#c09060" opacity="0.7"/>
<circle cx="156.35" cy="680.55" r="0.52" fill="#b27844" opacity="0.7"/>
<circle cx="201.25" cy="675.86" r="0.70" fill="#c09060" opacity="0.7"/>
<circle cx="147.91" cy="609.49" r="0.55" fill="#b27844" opacity="0.7"/>
<circle cx="167.61" cy="685.31" r="0.46" fill="#b27844" opacity="0.7"/>
<circle cx="139.45" cy="622.98" r="0.63" fill="#b27844" opacity="0.7"/>
<circle cx="204.50" cy="662.12" r="0.68" fill="#9c98c8" opacity="0.7"/>
<circle cx="225.13" cy="616.71" r="0.42" fill="#c09060" opacity="0.7"/>
<circle cx="139.72" cy="671.26" r="0.71" fill="#c09060" opacity="0.7"/>
<circle cx="152.77" cy="661.90" r="0.57" fill="#9c98c8" opacity="0.7"/>
<circle cx="165.91" cy="625.50" r="0.72" fill="#c09060" opacity="0.7"/>
<circle cx="193.25" cy="678.35" r="0.51" fill="#c09060" opacity="0.7"/>
<circle cx="156.78" cy="672.83" r="0.43" fill="#b27844" opacity="0.7"/>
<circle cx="225.62" cy="683.15" r="0.50" fill="#b27844" opacity="0.7"/>
<circle cx="200.78" cy="612.21" r="0.60" fill="#c09060" opacity="0.7"/>
<circle cx="145.32" cy="661.76" r="0.63" fill="#9c98c8" opacity="0.7"/>
<circle cx="148.79" cy="643.16" r="0.59" fill="#9c98c8" opacity="0.7"/>
<circle cx="147.51" cy="662.42" r="0.60" fill="#c09060" opacity="0.7"/>
<circle cx="144.98" cy="669.42" r="0.73" fill="#9c98c8" opacity="0.7"/>
<circle cx="135.83" cy="679.47" r="0.68" fill="#c09060" opacity="0.7"/>
<circle cx="189.68" cy="623.99" r="0.46" fill="#9c98c8" opacity="0.7"/>
<circle cx="136.25" cy="633.71" r="0.70" fill="#c09060" opacity="0.7"/>
<circle cx="154.76" cy="616.13" r="0.46" fill="#b27844" opacity="0.7"/>
<circle cx="201.35" cy="681.35" r="0.72" fill="#c09060" opacity="0.7"/>
<circle cx="180.28" cy="614.10" r="0.56" fill="#b27844" opacity="0.7"/>
<circle cx="221.34" cy="654.79" r="0.55" fill="#b27844" opacity="0.7"/>
<circle cx="176.64" cy="636.29" r="0.76" fill="#9c98c8" opacity="0.7"/>
<circle cx="164.85" cy="649.54" r="0.56" fill="#c09060" opacity="0.7"/>
<circle cx="214.27" cy="608.04" r="0.58" fill="#b27844" opacity="0.7"/>
<circle cx="191.38" cy="665.53" r="0.69" fill="#c09060" opacity="0.7"/>
<circle cx="149.44" cy="667.90" r="0.42" fill="#c09060" opacity="0.7"/>
<circle cx="154.29" cy="623.78" r="0.57" fill="#9c98c8" opacity="0.7"/>
<circle cx="163.29" cy="638.82" r="0.71" fill="#b27844" opacity="0.7"/>
<circle cx="213.10" cy="641.63" r="0.74" fill="#b27844" opacity="0.7"/>
<circle cx="181.08" cy="620.89" r="0.70" fill="#9c98c8" opacity="0.7"/>
<circle cx="140.27" cy="637.03" r="0.72" fill="#c09060" opacity="0.7"/>
<circle cx="154.59" cy="676.09" r="0.48" fill="#b27844" opacity="0.7"/>
<circle cx="208.73" cy="640.60" r="0.69" fill="#c09060" opacity="0.7"/>
<circle cx="176.11" cy="679.11" r="0.60" fill="#9c98c8" opacity="0.7"/>
<circle cx="143.37" cy="683.47" r="0.63" fill="#9c98c8" opacity="0.7"/>
<circle cx="142.87" cy="647.85" r="0.68" fill="#b27844" opacity="0.7"/>
<circle cx="140.59" cy="669.41" r="0.66" fill="#b27844" opacity="0.7"/>
<circle cx="211.33" cy="606.24" r="0.68" fill="#c09060" opacity="0.7"/>
<circle cx="227.00" cy="642.17" r="0.41" fill="#b27844" opacity="0.7"/>
<circle cx="155.75" cy="663.94" r="0.60" fill="#b27844" opacity="0.7"/>
<circle cx="149.94" cy="669.08" r="0.69" fill="#b27844" opacity="0.7"/>
<circle cx="153.13" cy="609.47" r="0.47" fill="#9c98c8" opacity="0.7"/>
<circle cx="236.68" cy="658.62" r="0.60" fill="#c09060" opacity="0.7"/>
<circle cx="210.65" cy="609.57" r="0.71" fill="#b27844" opacity="0.7"/>
<circle cx="211.02" cy="609.39" r="0.61" fill="#b27844" opacity="0.7"/>
<circle cx="154.67" cy="679.01" r="0.69" fill="#9c98c8" opacity="0.7"/>
<circle cx="200.81" cy="663.00" r="0.76" fill="#c09060" opacity="0.7"/>
<circle cx="219.94" cy="630.93" r="0.58" fill="#c09060" opacity="0.7"/>
<circle cx="202.03" cy="618.38" r="0.46" fill="#b27844" opacity="0.7"/>
<circle cx="195.97" cy="680.90" r="0.68" fill="#c09060" opacity="0.7"/>
<circle cx="208.57" cy="645.32" r="0.57" fill="#b27844" opacity="0.7"/>
<circle cx="176.80" cy="637.92" r="0.71" fill="#9c98c8" opacity="0.7"/>
<circle cx="182.31" cy="665.60" r="0.44" fill="#9c98c8" opacity="0.7"/>
<circle cx="182.96" cy="662.47" r="0.72" fill="#b27844" opacity="0.7"/>
<circle cx="162.36" cy="663.02" r="0.59" fill="#b27844" opacity="0.7"/>
<circle cx="193.91" cy="653.66" r="0.76" fill="#c09060" opacity="0.7"/>
<circle cx="198.35" cy="604.04" r="0.71" fill="#c09060" opacity="0.7"/>
<line x1="224.50" y1="611.55" x2="234.85" y2="621.10" stroke="#b07040" stroke-width="1.3" opacity="0.6"/>
<line x1="228.48" y1="632.24" x2="239.62" y2="636.21" stroke="#b07040" stroke-width="1.3" opacity="0.6"/>
</g></g>
<defs><clipPath id="clip14"><rect x="243.4" y="604.0" width="106.6" height="80.0"/></clipPath></defs>
<g clip-path="url(#clip14)"><g filter="url(#soft)">
<rect x="243.40" y="604.00" width="106.60" height="80.00" fill="#e2d4c6"/>
<ellipse cx="254.8" cy="660.2" rx="2.6" ry="2.2" transform="rotate(-27 254.8 660.2)" fill="#4a5aae" opacity="0.85"/>
<ellipse cx="274.4" cy="609.8" rx="2.3" ry="1.8" transform="rotate(45 274.4 609.8)" fill="#4a5aae" opacity="0.85"/>
<ellipse cx="326.3" cy="613.5" rx="2.1" ry="2.2" transform="rotate(-17 326.3 613.5)" fill="#4a5aae" opacity="0.85"/>
<ellipse cx="281.8" cy="654.6" rx="2.4" ry="1.5" transform="rotate(20 281.8 654.6)" fill="#4a5aae" opacity="0.85"/>
<ellipse cx="261.0" cy="656.1" rx="1.9" ry="1.7" transform="rotate(-50 261.0 656.1)" fill="#5564b6" opacity="0.85"/>
<ellipse cx="334.4" cy="634.6" rx="2.5" ry="2.2" transform="rotate(48 334.4 634.6)" fill="#5564b6" opacity="0.85"/>
<ellipse cx="336.4" cy="659.0" rx="1.9" ry="1.9" transform="rotate(16 336.4 659.0)" fill="#5564b6" opacity="0.85"/>
<ellipse cx="335.6" cy="663.8" rx="2.4" ry="2.0" transform="rotate(-28 335.6 663.8)" fill="#6a78c0" opacity="0.85"/>
<ellipse cx="266.7" cy="667.9" rx="2.4" ry="1.5" transform="rotate(38 266.7 667.9)" fill="#5564b6" opacity="0.85"/>
<ellipse cx="273.1" cy="613.5" rx="2.0" ry="1.8" transform="rotate(22 273.1 613.5)" fill="#6a78c0" opacity="0.85"/>
<ellipse cx="253.3" cy="642.4" rx="2.6" ry="1.9" transform="rotate(-5 253.3 642.4)" fill="#4a5aae" opacity="0.85"/>
<ellipse cx="292.4" cy="637.4" rx="2.8" ry="1.6" transform="rotate(-13 292.4 637.4)" fill="#4a5aae" opacity="0.85"/>
<ellipse cx="335.7" cy="679.1" rx="1.9" ry="1.5" transform="rotate(24 335.7 679.1)" fill="#6a78c0" opacity="0.85"/>
<ellipse cx="290.5" cy="670.0" rx="2.3" ry="2.3" transform="rotate(-58 290.5 670.0)" fill="#6a78c0" opacity="0.85"/>
<ellipse cx="304.1" cy="679.1" rx="2.1" ry="1.7" transform="rotate(-37 304.1 679.1)" fill="#6a78c0" opacity="0.85"/>
<ellipse cx="303.1" cy="667.8" rx="1.9" ry="1.5" transform="rotate(-37 303.1 667.8)" fill="#5564b6" opacity="0.85"/>
<ellipse cx="348.2" cy="650.9" rx="2.1" ry="2.2" transform="rotate(-17 348.2 650.9)" fill="#4a5aae" opacity="0.85"/>
<ellipse cx="255.5" cy="680.5" rx="2.7" ry="1.4" transform="rotate(-30 255.5 680.5)" fill="#6a78c0" opacity="0.85"/>
<ellipse cx="271.6" cy="623.9" rx="2.5" ry="2.2" transform="rotate(-25 271.6 623.9)" fill="#4a5aae" opacity="0.85"/>
<ellipse cx="246.8" cy="677.7" rx="2.7" ry="2.1" transform="rotate(-41 246.8 677.7)" fill="#6a78c0" opacity="0.85"/>
<ellipse cx="333.1" cy="633.3" rx="2.3" ry="2.3" transform="rotate(6 333.1 633.3)" fill="#4a5aae" opacity="0.85"/>
<ellipse cx="295.4" cy="680.2" rx="1.8" ry="2.0" transform="rotate(-8 295.4 680.2)" fill="#4a5aae" opacity="0.85"/>
<ellipse cx="253.0" cy="668.6" rx="2.0" ry="1.4" transform="rotate(51 253.0 668.6)" fill="#5564b6" opacity="0.85"/>
<ellipse cx="271.0" cy="639.8" rx="2.5" ry="1.7" transform="rotate(34 271.0 639.8)" fill="#4a5aae" opacity="0.85"/>
<ellipse cx="318.4" cy="647.3" rx="2.3" ry="1.8" transform="rotate(-49 318.4 647.3)" fill="#6a78c0" opacity="0.85"/>
<ellipse cx="261.7" cy="605.4" rx="2.9" ry="2.3" transform="rotate(43 261.7 605.4)" fill="#4a5aae" opacity="0.85"/>
<ellipse cx="349.4" cy="651.6" rx="2.8" ry="2.0" transform="rotate(9 349.4 651.6)" fill="#4a5aae" opacity="0.85"/>
<ellipse cx="271.8" cy="641.6" rx="2.9" ry="2.2" transform="rotate(-53 271.8 641.6)" fill="#6a78c0" opacity="0.85"/>
<ellipse cx="311.8" cy="655.8" rx="2.8" ry="2.2" transform="rotate(-52 311.8 655.8)" fill="#5564b6" opacity="0.85"/>
<ellipse cx="336.6" cy="670.3" rx="2.9" ry="1.5" transform="rotate(35 336.6 670.3)" fill="#4a5aae" opacity="0.85"/>
<ellipse cx="248.2" cy="682.7" rx="2.9" ry="1.5" transform="rotate(46 248.2 682.7)" fill="#4a5aae" opacity="0.85"/>
<ellipse cx="327.0" cy="643.6" rx="2.4" ry="1.7" transform="rotate(57 327.0 643.6)" fill="#5564b6" opacity="0.85"/>
<ellipse cx="273.4" cy="651.5" rx="2.4" ry="1.9" transform="rotate(36 273.4 651.5)" fill="#6a78c0" opacity="0.85"/>
<ellipse cx="348.8" cy="678.3" rx="2.9" ry="2.2" transform="rotate(-12 348.8 678.3)" fill="#4a5aae" opacity="0.85"/>
<ellipse cx="274.7" cy="662.0" rx="2.2" ry="1.6" transform="rotate(-26 274.7 662.0)" fill="#6a78c0" opacity="0.85"/>
<ellipse cx="329.4" cy="660.5" rx="3.0" ry="1.9" transform="rotate(40 329.4 660.5)" fill="#4a5aae" opacity="0.85"/>
<ellipse cx="246.1" cy="655.7" rx="3.0" ry="1.7" transform="rotate(-14 246.1 655.7)" fill="#6a78c0" opacity="0.85"/>
<ellipse cx="288.4" cy="658.4" rx="3.0" ry="1.8" transform="rotate(-36 288.4 658.4)" fill="#5564b6" opacity="0.85"/>
<ellipse cx="283.5" cy="661.2" rx="2.1" ry="2.1" transform="rotate(57 283.5 661.2)" fill="#5564b6" opacity="0.85"/>
<ellipse cx="331.6" cy="619.6" rx="2.8" ry="1.5" transform="rotate(35 331.6 619.6)" fill="#4a5aae" opacity="0.85"/>
<ellipse cx="335.8" cy="648.7" rx="1.8" ry="2.0" transform="rotate(22 335.8 648.7)" fill="#6a78c0" opacity="0.85"/>
<ellipse cx="273.6" cy="683.6" rx="2.4" ry="2.2" transform="rotate(-52 273.6 683.6)" fill="#5564b6" opacity="0.85"/>
<ellipse cx="318.4" cy="618.7" rx="2.2" ry="2.0" transform="rotate(-14 318.4 618.7)" fill="#6a78c0" opacity="0.85"/>
<ellipse cx="282.2" cy="621.4" rx="2.6" ry="1.7" transform="rotate(4 282.2 621.4)" fill="#4a5aae" opacity="0.85"/>
<ellipse cx="248.7" cy="652.8" rx="2.4" ry="2.2" transform="rotate(38 248.7 652.8)" fill="#4a5aae" opacity="0.85"/>
<ellipse cx="339.8" cy="646.7" rx="2.0" ry="1.9" transform="rotate(22 339.8 646.7)" fill="#4a5aae" opacity="0.85"/>
<ellipse cx="282.3" cy="627.7" rx="2.6" ry="2.1" transform="rotate(-44 282.3 627.7)" fill="#5564b6" opacity="0.85"/>
<ellipse cx="265.7" cy="665.6" rx="3.0" ry="2.2" transform="rotate(-33 265.7 665.6)" fill="#4a5aae" opacity="0.85"/>
<ellipse cx="333.9" cy="651.3" rx="2.8" ry="2.1" transform="rotate(-39 333.9 651.3)" fill="#5564b6" opacity="0.85"/>
<ellipse cx="334.4" cy="648.5" rx="2.2" ry="2.1" transform="rotate(60 334.4 648.5)" fill="#4a5aae" opacity="0.85"/>
<ellipse cx="255.2" cy="607.2" rx="2.8" ry="1.6" transform="rotate(-24 255.2 607.2)" fill="#5564b6" opacity="0.85"/>
<ellipse cx="255.6" cy="672.0" rx="2.1" ry="1.7" transform="rotate(11 255.6 672.0)" fill="#5564b6" opacity="0.85"/>
<ellipse cx="284.5" cy="613.0" rx="3.0" ry="1.9" transform="rotate(37 284.5 613.0)" fill="#6a78c0" opacity="0.85"/>
<ellipse cx="331.1" cy="669.7" rx="2.1" ry="1.9" transform="rotate(-35 331.1 669.7)" fill="#6a78c0" opacity="0.85"/>
<ellipse cx="348.0" cy="651.0" rx="2.0" ry="1.5" transform="rotate(-16 348.0 651.0)" fill="#6a78c0" opacity="0.85"/>
<ellipse cx="294.2" cy="613.5" rx="2.7" ry="2.3" transform="rotate(45 294.2 613.5)" fill="#6a78c0" opacity="0.85"/>
<ellipse cx="268.0" cy="676.1" rx="1.9" ry="1.8" transform="rotate(-3 268.0 676.1)" fill="#4a5aae" opacity="0.85"/>
<ellipse cx="297.9" cy="655.5" rx="2.9" ry="2.2" transform="rotate(-45 297.9 655.5)" fill="#6a78c0" opacity="0.85"/>
<ellipse cx="279.5" cy="625.9" rx="2.3" ry="2.3" transform="rotate(34 279.5 625.9)" fill="#6a78c0" opacity="0.85"/>
<ellipse cx="281.2" cy="646.9" rx="2.2" ry="2.1" transform="rotate(4 281.2 646.9)" fill="#5564b6" opacity="0.85"/>
<ellipse cx="269.4" cy="612.3" rx="2.4" ry="2.1" transform="rotate(51 269.4 612.3)" fill="#4a5aae" opacity="0.85"/>
<ellipse cx="288.8" cy="618.3" rx="3.0" ry="1.8" transform="rotate(-19 288.8 618.3)" fill="#5564b6" opacity="0.85"/>
<ellipse cx="302.9" cy="680.2" rx="2.6" ry="2.3" transform="rotate(-42 302.9 680.2)" fill="#6a78c0" opacity="0.85"/>
<ellipse cx="301.1" cy="659.7" rx="2.2" ry="1.6" transform="rotate(-24 301.1 659.7)" fill="#5564b6" opacity="0.85"/>
<ellipse cx="317.6" cy="656.3" rx="2.1" ry="1.9" transform="rotate(-53 317.6 656.3)" fill="#5564b6" opacity="0.85"/>
<ellipse cx="266.2" cy="624.2" rx="2.1" ry="1.4" transform="rotate(29 266.2 624.2)" fill="#6a78c0" opacity="0.85"/>
<ellipse cx="325.8" cy="606.8" rx="2.1" ry="1.6" transform="rotate(-20 325.8 606.8)" fill="#5564b6" opacity="0.85"/>
<ellipse cx="267.9" cy="668.8" rx="2.8" ry="1.4" transform="rotate(42 267.9 668.8)" fill="#4a5aae" opacity="0.85"/>
<ellipse cx="311.1" cy="625.9" rx="2.4" ry="2.1" transform="rotate(30 311.1 625.9)" fill="#4a5aae" opacity="0.85"/>
<ellipse cx="337.8" cy="640.4" rx="2.7" ry="2.0" transform="rotate(58 337.8 640.4)" fill="#5564b6" opacity="0.85"/>
<ellipse cx="297.2" cy="676.8" rx="2.2" ry="1.5" transform="rotate(17 297.2 676.8)" fill="#5564b6" opacity="0.85"/>
<ellipse cx="294.4" cy="646.6" rx="3.0" ry="1.7" transform="rotate(5 294.4 646.6)" fill="#6a78c0" opacity="0.85"/>
<ellipse cx="250.8" cy="656.4" rx="3.0" ry="1.5" transform="rotate(-41 250.8 656.4)" fill="#5564b6" opacity="0.85"/>
<ellipse cx="290.2" cy="639.5" rx="2.9" ry="1.7" transform="rotate(-14 290.2 639.5)" fill="#4a5aae" opacity="0.85"/>
<ellipse cx="304.2" cy="672.1" rx="1.9" ry="1.5" transform="rotate(12 304.2 672.1)" fill="#5564b6" opacity="0.85"/>
<ellipse cx="325.1" cy="663.2" rx="2.4" ry="2.3" transform="rotate(53 325.1 663.2)" fill="#4a5aae" opacity="0.85"/>
<ellipse cx="319.5" cy="640.3" rx="2.2" ry="2.2" transform="rotate(-3 319.5 640.3)" fill="#6a78c0" opacity="0.85"/>
<ellipse cx="271.7" cy="626.5" rx="2.0" ry="1.5" transform="rotate(58 271.7 626.5)" fill="#5564b6" opacity="0.85"/>
<ellipse cx="296.1" cy="662.1" rx="2.8" ry="2.3" transform="rotate(20 296.1 662.1)" fill="#5564b6" opacity="0.85"/>
<ellipse cx="293.6" cy="605.8" rx="2.0" ry="2.0" transform="rotate(31 293.6 605.8)" fill="#5564b6" opacity="0.85"/>
<ellipse cx="306.8" cy="673.5" rx="2.0" ry="1.4" transform="rotate(-24 306.8 673.5)" fill="#5564b6" opacity="0.85"/>
<ellipse cx="278.4" cy="609.1" rx="3.0" ry="2.2" transform="rotate(-58 278.4 609.1)" fill="#6a78c0" opacity="0.85"/>
<ellipse cx="252.5" cy="683.8" rx="1.8" ry="1.6" transform="rotate(-11 252.5 683.8)" fill="#5564b6" opacity="0.85"/>
<ellipse cx="279.2" cy="649.6" rx="2.8" ry="2.0" transform="rotate(40 279.2 649.6)" fill="#5564b6" opacity="0.85"/>
<ellipse cx="310.1" cy="642.4" rx="2.9" ry="1.4" transform="rotate(56 310.1 642.4)" fill="#6a78c0" opacity="0.85"/>
<ellipse cx="289.1" cy="653.7" rx="1.8" ry="2.0" transform="rotate(-48 289.1 653.7)" fill="#4a5aae" opacity="0.85"/>
<ellipse cx="245.5" cy="647.5" rx="2.0" ry="1.8" transform="rotate(19 245.5 647.5)" fill="#5564b6" opacity="0.85"/>
<ellipse cx="270.0" cy="681.0" rx="2.8" ry="2.3" transform="rotate(-10 270.0 681.0)" fill="#4a5aae" opacity="0.85"/>
<ellipse cx="315.6" cy="666.9" rx="2.4" ry="2.1" transform="rotate(-0 315.6 666.9)" fill="#4a5aae" opacity="0.85"/>
<ellipse cx="348.5" cy="616.8" rx="1.9" ry="1.8" transform="rotate(-1 348.5 616.8)" fill="#5564b6" opacity="0.85"/>
<ellipse cx="327.9" cy="646.1" rx="2.2" ry="2.2" transform="rotate(53 327.9 646.1)" fill="#4a5aae" opacity="0.85"/>
<ellipse cx="326.1" cy="631.5" rx="1.9" ry="1.4" transform="rotate(4 326.1 631.5)" fill="#5564b6" opacity="0.85"/>
<ellipse cx="246.5" cy="605.4" rx="1.9" ry="1.5" transform="rotate(31 246.5 605.4)" fill="#5564b6" opacity="0.85"/>
<ellipse cx="324.6" cy="652.4" rx="2.3" ry="1.7" transform="rotate(-44 324.6 652.4)" fill="#4a5aae" opacity="0.85"/>
<ellipse cx="263.8" cy="614.5" rx="3.0" ry="2.2" transform="rotate(-12 263.8 614.5)" fill="#5564b6" opacity="0.85"/>
<ellipse cx="275.4" cy="673.8" rx="2.7" ry="2.0" transform="rotate(11 275.4 673.8)" fill="#6a78c0" opacity="0.85"/>
<ellipse cx="297.0" cy="625.5" rx="2.6" ry="1.7" transform="rotate(-6 297.0 625.5)" fill="#5564b6" opacity="0.85"/>
<ellipse cx="342.2" cy="674.7" rx="2.6" ry="1.5" transform="rotate(47 342.2 674.7)" fill="#4a5aae" opacity="0.85"/>
<ellipse cx="284.9" cy="613.5" rx="2.2" ry="1.7" transform="rotate(30 284.9 613.5)" fill="#4a5aae" opacity="0.85"/>
<ellipse cx="336.1" cy="621.3" rx="1.9" ry="1.8" transform="rotate(-5 336.1 621.3)" fill="#5564b6" opacity="0.85"/>
<ellipse cx="273.3" cy="627.4" rx="2.2" ry="1.9" transform="rotate(-44 273.3 627.4)" fill="#6a78c0" opacity="0.85"/>
<ellipse cx="345.5" cy="678.0" rx="2.2" ry="2.0" transform="rotate(-49 345.5 678.0)" fill="#4a5aae" opacity="0.85"/>
<ellipse cx="293.7" cy="664.8" rx="1.8" ry="2.0" transform="rotate(51 293.7 664.8)" fill="#4a5aae" opacity="0.85"/>
<ellipse cx="335.1" cy="661.2" rx="2.0" ry="1.5" transform="rotate(12 335.1 661.2)" fill="#6a78c0" opacity="0.85"/>
<ellipse cx="336.4" cy="678.5" rx="2.7" ry="1.9" transform="rotate(53 336.4 678.5)" fill="#6a78c0" opacity="0.85"/>
<ellipse cx="316.4" cy="646.5" rx="2.1" ry="1.8" transform="rotate(39 316.4 646.5)" fill="#5564b6" opacity="0.85"/>
<ellipse cx="343.1" cy="644.0" rx="2.2" ry="1.6" transform="rotate(57 343.1 644.0)" fill="#4a5aae" opacity="0.85"/>
<ellipse cx="291.1" cy="678.2" rx="2.7" ry="2.1" transform="rotate(19 291.1 678.2)" fill="#4a5aae" opacity="0.85"/>
<ellipse cx="334.7" cy="665.0" rx="2.5" ry="1.7" transform="rotate(-8 334.7 665.0)" fill="#4a5aae" opacity="0.85"/>
<ellipse cx="272.8" cy="625.0" rx="2.8" ry="1.8" transform="rotate(-25 272.8 625.0)" fill="#5564b6" opacity="0.85"/>
<ellipse cx="291.8" cy="662.6" rx="3.0" ry="1.9" transform="rotate(-6 291.8 662.6)" fill="#5564b6" opacity="0.85"/>
<ellipse cx="342.9" cy="607.2" rx="2.4" ry="1.5" transform="rotate(-47 342.9 607.2)" fill="#5564b6" opacity="0.85"/>
<ellipse cx="247.1" cy="665.4" rx="3.0" ry="1.6" transform="rotate(53 247.1 665.4)" fill="#5564b6" opacity="0.85"/>
<ellipse cx="306.4" cy="682.3" rx="2.8" ry="1.9" transform="rotate(-2 306.4 682.3)" fill="#5564b6" opacity="0.85"/>
<ellipse cx="304.7" cy="659.2" rx="2.1" ry="1.8" transform="rotate(-21 304.7 659.2)" fill="#5564b6" opacity="0.85"/>
<ellipse cx="304.0" cy="659.9" rx="2.3" ry="1.5" transform="rotate(-48 304.0 659.9)" fill="#5564b6" opacity="0.85"/>
<ellipse cx="261.2" cy="652.0" rx="2.2" ry="2.1" transform="rotate(-41 261.2 652.0)" fill="#4a5aae" opacity="0.85"/>
<ellipse cx="271.6" cy="625.1" rx="2.4" ry="1.6" transform="rotate(41 271.6 625.1)" fill="#5564b6" opacity="0.85"/>
<ellipse cx="270.4" cy="645.4" rx="2.6" ry="1.9" transform="rotate(-55 270.4 645.4)" fill="#4a5aae" opacity="0.85"/>
<ellipse cx="285.7" cy="649.2" rx="1.9" ry="1.4" transform="rotate(6 285.7 649.2)" fill="#5564b6" opacity="0.85"/>
<g filter="url(#rag)">
<path d="M257.6,607.7 L273.6,606.7 L282.0,609.4 L290.4,616.5 L290.4,621.2 L295.4,620.3 L303.8,619.5 L310.5,622.8 L315.5,627.9 L320.6,636.3 L324.8,642.0 L318.9,646.3 L313.9,648.7 L311.8,656.8 L310.5,665.1 L306.3,671.9 L298.8,677.2 L292.0,677.2 L282.0,676.9 L270.2,675.2 L260.1,671.9 L256.8,665.1 L255.4,653.4 L256.5,640.0 L256.8,624.9 Z" fill="#fbf8f4"/>
<path d="M261.8,618.1 L273.6,621.5 L282.0,628.2 L290.4,634.9 L288.7,641.6 L280.3,640.0 L273.6,638.3 L265.2,636.6 L261.0,628.2 Z" fill="#a6682e" opacity="0.9" stroke="#c89868" stroke-width="1.2" stroke-linejoin="round"/>
<path d="M263.5,638.3 L273.6,636.6 L280.3,640.0 L285.3,648.4 L282.0,658.4 L275.3,668.5 L266.9,666.8 L261.8,656.8 L260.1,646.7 Z" fill="#a0622a" opacity="0.9" stroke="#c89868" stroke-width="1.2" stroke-linejoin="round"/>
<path d="M261.8,658.4 L273.6,656.8 L283.6,661.8 L295.4,670.2 L298.8,676.9 L287.0,677.7 L273.6,675.2 L265.2,671.9 L261.0,665.1 Z" fill="#a86a30" opacity="0.9" stroke="#c89868" stroke-width="1.2" stroke-linejoin="round"/>
<path d="M310.5,646.7 L318.9,645.0 L323.9,648.4 L320.6,655.1 L313.9,658.4 L310.5,653.4 Z" fill="#b88250" opacity="0.9" stroke="#c89868" stroke-width="1.2" stroke-linejoin="round"/>
<path d="M256.8,608.1 L263.5,607.2 L266.9,611.4 L261.8,616.5 L256.8,614.8 Z" fill="#c09460" opacity="0.9" stroke="#c89868" stroke-width="1.2" stroke-linejoin="round"/>
</g>
<ellipse cx="269.4" cy="643.3" rx="2" ry="2.6" fill="#5a4a60" opacity="0.7"/>
<ellipse cx="271.1" cy="664.3" rx="2" ry="2.6" fill="#5a4a60" opacity="0.7"/>
<ellipse cx="268.5" cy="627.4" rx="2" ry="2.6" fill="#5a4a60" opacity="0.7"/>
<ellipse cx="277.8" cy="630.7" rx="2" ry="2.6" fill="#5a4a60" opacity="0.7"/>
<ellipse cx="285.3" cy="637.4" rx="2" ry="2.6" fill="#5a4a60" opacity="0.7"/>
<circle cx="288.68" cy="648.36" r="2.20" fill="#8c7a80"/>
<circle cx="314.09" cy="676.70" r="0.88" fill="#c49a70" opacity="0.6"/>
<circle cx="349.71" cy="642.67" r="0.97" fill="#b07a46" opacity="0.6"/>
<circle cx="264.35" cy="633.78" r="0.94" fill="#b07a46" opacity="0.6"/>
<circle cx="256.84" cy="660.72" r="0.58" fill="#c49a70" opacity="0.6"/>
<circle cx="328.35" cy="665.88" r="0.43" fill="#b07a46" opacity="0.6"/>
<circle cx="284.98" cy="608.82" r="0.55" fill="#b07a46" opacity="0.6"/>
<circle cx="348.24" cy="650.09" r="0.56" fill="#b07a46" opacity="0.6"/>
<circle cx="271.24" cy="616.00" r="0.57" fill="#b07a46" opacity="0.6"/>
<circle cx="277.83" cy="622.75" r="0.58" fill="#b07a46" opacity="0.6"/>
<circle cx="260.36" cy="637.23" r="0.87" fill="#c49a70" opacity="0.6"/>
<circle cx="244.74" cy="645.48" r="0.85" fill="#c49a70" opacity="0.6"/>
<circle cx="313.67" cy="650.04" r="0.73" fill="#c49a70" opacity="0.6"/>
<circle cx="250.28" cy="606.36" r="0.87" fill="#c49a70" opacity="0.6"/>
<circle cx="319.26" cy="651.93" r="0.66" fill="#c49a70" opacity="0.6"/>
<circle cx="330.27" cy="647.19" r="0.75" fill="#c49a70" opacity="0.6"/>
<circle cx="250.24" cy="681.24" r="0.75" fill="#b07a46" opacity="0.6"/>
<circle cx="248.31" cy="675.83" r="0.80" fill="#c49a70" opacity="0.6"/>
<circle cx="303.33" cy="622.57" r="0.48" fill="#b07a46" opacity="0.6"/>
<circle cx="339.00" cy="623.51" r="0.82" fill="#b07a46" opacity="0.6"/>
<circle cx="279.71" cy="651.21" r="0.69" fill="#b07a46" opacity="0.6"/>
<circle cx="248.50" cy="681.71" r="0.63" fill="#c49a70" opacity="0.6"/>
<circle cx="330.76" cy="679.23" r="0.57" fill="#c49a70" opacity="0.6"/>
<circle cx="256.13" cy="635.90" r="0.67" fill="#b07a46" opacity="0.6"/>
<circle cx="340.99" cy="683.93" r="0.54" fill="#b07a46" opacity="0.6"/>
<circle cx="321.37" cy="614.86" r="1.00" fill="#c49a70" opacity="0.6"/>
<circle cx="246.15" cy="620.71" r="0.64" fill="#c49a70" opacity="0.6"/>
<circle cx="257.51" cy="608.67" r="0.54" fill="#b07a46" opacity="0.6"/>
<circle cx="253.92" cy="664.10" r="0.54" fill="#c49a70" opacity="0.6"/>
<circle cx="255.81" cy="654.07" r="0.54" fill="#b07a46" opacity="0.6"/>
<circle cx="317.47" cy="650.59" r="0.95" fill="#c49a70" opacity="0.6"/>
<circle cx="252.09" cy="642.45" r="0.89" fill="#b07a46" opacity="0.6"/>
<circle cx="321.63" cy="631.28" r="0.40" fill="#b07a46" opacity="0.6"/>
<circle cx="244.43" cy="660.23" r="0.43" fill="#c49a70" opacity="0.6"/>
<circle cx="306.28" cy="642.71" r="1.00" fill="#b07a46" opacity="0.6"/>
<circle cx="329.91" cy="662.48" r="0.63" fill="#b07a46" opacity="0.6"/>
<circle cx="270.43" cy="617.46" r="0.90" fill="#c49a70" opacity="0.6"/>
<circle cx="300.70" cy="624.36" r="0.79" fill="#b07a46" opacity="0.6"/>
<circle cx="329.87" cy="669.27" r="0.46" fill="#c49a70" opacity="0.6"/>
<circle cx="301.39" cy="608.94" r="0.91" fill="#c49a70" opacity="0.6"/>
<circle cx="298.79" cy="647.60" r="0.71" fill="#c49a70" opacity="0.6"/>
<circle cx="342.84" cy="621.36" r="0.92" fill="#c49a70" opacity="0.6"/>
<circle cx="349.28" cy="673.85" r="0.57" fill="#b07a46" opacity="0.6"/>
<circle cx="343.52" cy="666.08" r="0.46" fill="#c49a70" opacity="0.6"/>
<circle cx="284.75" cy="648.18" r="0.46" fill="#b07a46" opacity="0.6"/>
<circle cx="329.15" cy="659.53" r="0.45" fill="#c49a70" opacity="0.6"/>
<circle cx="331.15" cy="668.39" r="0.45" fill="#b07a46" opacity="0.6"/>
<circle cx="314.08" cy="629.49" r="0.51" fill="#c49a70" opacity="0.6"/>
<circle cx="336.39" cy="643.15" r="0.53" fill="#b07a46" opacity="0.6"/>
<circle cx="335.16" cy="645.29" r="0.49" fill="#b07a46" opacity="0.6"/>
<circle cx="335.43" cy="658.40" r="0.58" fill="#c49a70" opacity="0.6"/>
<circle cx="323.67" cy="637.33" r="0.81" fill="#b07a46" opacity="0.6"/>
<circle cx="346.27" cy="661.64" r="0.69" fill="#c49a70" opacity="0.6"/>
<circle cx="285.76" cy="619.02" r="0.85" fill="#b07a46" opacity="0.6"/>
<circle cx="283.89" cy="621.98" r="0.75" fill="#b07a46" opacity="0.6"/>
<circle cx="306.11" cy="613.42" r="0.93" fill="#b07a46" opacity="0.6"/>
<circle cx="321.20" cy="669.73" r="0.84" fill="#c49a70" opacity="0.6"/>
<circle cx="323.64" cy="666.61" r="0.51" fill="#b07a46" opacity="0.6"/>
<circle cx="260.70" cy="680.20" r="0.44" fill="#b07a46" opacity="0.6"/>
<circle cx="337.14" cy="664.85" r="0.79" fill="#c49a70" opacity="0.6"/>
<circle cx="276.09" cy="607.61" r="0.75" fill="#b07a46" opacity="0.6"/>
<circle cx="260.47" cy="665.95" r="0.96" fill="#b07a46" opacity="0.6"/>
<circle cx="341.21" cy="638.57" r="0.79" fill="#b07a46" opacity="0.6"/>
<circle cx="315.80" cy="634.43" r="0.94" fill="#b07a46" opacity="0.6"/>
<circle cx="326.32" cy="683.16" r="0.56" fill="#b07a46" opacity="0.6"/>
<circle cx="264.83" cy="614.54" r="0.56" fill="#c49a70" opacity="0.6"/>
<circle cx="251.97" cy="653.38" r="0.72" fill="#c49a70" opacity="0.6"/>
<circle cx="314.01" cy="628.04" r="0.47" fill="#b07a46" opacity="0.6"/>
<circle cx="246.76" cy="676.05" r="0.49" fill="#c49a70" opacity="0.6"/>
<circle cx="263.98" cy="659.94" r="0.45" fill="#c49a70" opacity="0.6"/>
<circle cx="291.63" cy="641.72" r="0.74" fill="#b07a46" opacity="0.6"/>
<circle cx="316.27" cy="680.72" r="0.53" fill="#b07a46" opacity="0.6"/>
<circle cx="341.15" cy="616.24" r="0.84" fill="#b07a46" opacity="0.6"/>
<circle cx="335.63" cy="609.41" r="0.59" fill="#b07a46" opacity="0.6"/>
<circle cx="327.17" cy="628.32" r="0.72" fill="#b07a46" opacity="0.6"/>
<circle cx="336.08" cy="618.72" r="0.98" fill="#c49a70" opacity="0.6"/>
<circle cx="322.87" cy="644.21" r="0.80" fill="#b07a46" opacity="0.6"/>
<circle cx="276.49" cy="624.22" r="0.64" fill="#c49a70" opacity="0.6"/>
<circle cx="285.79" cy="644.21" r="0.56" fill="#c49a70" opacity="0.6"/>
<circle cx="275.42" cy="624.22" r="0.95" fill="#b07a46" opacity="0.6"/>
<circle cx="339.23" cy="644.31" r="0.56" fill="#c49a70" opacity="0.6"/>
</g></g>
<rect x="185" y="562.3" width="18.5" height="13.1" fill="none" stroke="#222" stroke-width="0.7"/>
<line x1="203.50" y1="562.30" x2="240.30" y2="520.60" stroke="#222" stroke-width="0.7"/>
<line x1="203.50" y1="575.40" x2="240.30" y2="600.30" stroke="#222" stroke-width="0.7"/>
<rect x="178.7" y="662.3" width="18.4" height="12.9" fill="none" stroke="#222" stroke-width="0.7"/>
<line x1="197.10" y1="662.30" x2="240.60" y2="604.20" stroke="#222" stroke-width="0.7"/>
<line x1="197.10" y1="675.20" x2="240.60" y2="685.60" stroke="#222" stroke-width="0.7"/>
<text x="137.40" y="531.20" font-size="8.2" text-anchor="start" font-weight="bold" fill="#1a1a1a">CTL</text>
<text x="137.40" y="614.60" font-size="8.2" text-anchor="start" font-weight="bold" fill="#1a1a1a">CIP</text>
<line x1="135.90" y1="592.20" x2="151.90" y2="592.20" stroke="#111" stroke-width="1.1"/>
<text x="135.90" y="599.20" font-size="7.2" text-anchor="start" fill="#222">50 &#181;m</text>
<line x1="135.90" y1="675.30" x2="151.90" y2="675.30" stroke="#111" stroke-width="1.1"/>
<text x="135.90" y="682.80" font-size="7.2" text-anchor="start" fill="#222">50 &#181;m</text>
<line x1="327.50" y1="592.00" x2="347.00" y2="592.00" stroke="#111" stroke-width="1.1"/>
<text x="328.20" y="599.30" font-size="7.2" text-anchor="start" fill="#222">20 &#181;m</text>
<line x1="328.00" y1="675.20" x2="347.50" y2="675.20" stroke="#111" stroke-width="1.1"/>
<text x="328.20" y="682.80" font-size="7.2" text-anchor="start" fill="#222">20 &#181;m</text>
<text x="349.20" y="522.00" font-size="13.5" text-anchor="start" font-weight="bold" fill="#1a1a1a">k</text>
<line x1="375.80" y1="539.30" x2="375.80" y2="668.00" stroke="#333" stroke-width="0.8"/>
<line x1="375.40" y1="668.00" x2="465.70" y2="668.00" stroke="#333" stroke-width="0.8"/>
<line x1="373.70" y1="663.20" x2="375.80" y2="663.20" stroke="#333" stroke-width="0.7"/>
<text x="373.20" y="665.80" font-size="7.4" text-anchor="end" fill="#222">0</text>
<line x1="373.70" y1="639.58" x2="375.80" y2="639.58" stroke="#333" stroke-width="0.7"/>
<text x="373.20" y="642.18" font-size="7.4" text-anchor="end" fill="#222">10</text>
<line x1="373.70" y1="615.96" x2="375.80" y2="615.96" stroke="#333" stroke-width="0.7"/>
<text x="373.20" y="618.56" font-size="7.4" text-anchor="end" fill="#222">20</text>
<line x1="373.70" y1="592.34" x2="375.80" y2="592.34" stroke="#333" stroke-width="0.7"/>
<text x="373.20" y="594.94" font-size="7.4" text-anchor="end" fill="#222">30</text>
<line x1="373.70" y1="568.72" x2="375.80" y2="568.72" stroke="#333" stroke-width="0.7"/>
<text x="373.20" y="571.32" font-size="7.4" text-anchor="end" fill="#222">40</text>
<line x1="373.70" y1="545.10" x2="375.80" y2="545.10" stroke="#333" stroke-width="0.7"/>
<text x="373.20" y="547.70" font-size="7.4" text-anchor="end" fill="#222">50</text>
<line x1="400.40" y1="668.00" x2="400.40" y2="670.00" stroke="#333" stroke-width="0.7"/>
<text x="400.40" y="679.10" font-size="7.4" text-anchor="middle" fill="#222">CTL</text>
<line x1="440.70" y1="668.00" x2="440.70" y2="670.00" stroke="#333" stroke-width="0.7"/>
<text x="440.70" y="679.10" font-size="7.4" text-anchor="middle" fill="#222">CIP</text>
<text x="361.0" y="600.5" font-size="8.5" text-anchor="middle" fill="#222" transform="rotate(-90 361.0 600.5)">Proportion of IgG<tspan font-size="5" dy="-3">+</tspan><tspan dy="3"> cells (%)</tspan></text>
<line x1="400.10" y1="631.00" x2="400.10" y2="633.70" stroke="#5dbb96" stroke-width="0.9"/>
<line x1="400.10" y1="636.80" x2="400.10" y2="637.50" stroke="#5dbb96" stroke-width="0.9"/>
<rect x="385.30" y="633.70" width="29.60" height="3.10" fill="#ffffff" stroke="#5dbb96" stroke-width="0.9"/>
<line x1="385.30" y1="635.40" x2="414.90" y2="635.40" stroke="#5dbb96" stroke-width="0.9"/>
<line x1="441.20" y1="597.50" x2="441.20" y2="601.20" stroke="#e3bf6f" stroke-width="0.9"/>
<line x1="441.20" y1="619.20" x2="441.20" y2="625.00" stroke="#e3bf6f" stroke-width="0.9"/>
<rect x="426.70" y="601.20" width="29.00" height="18.00" fill="#ffffff" stroke="#e3bf6f" stroke-width="0.9"/>
<line x1="426.70" y1="609.90" x2="455.70" y2="609.90" stroke="#e3bf6f" stroke-width="0.9"/>
<circle cx="398.50" cy="630.00" r="2.60" fill="#5dbb96"/>
<circle cx="396.40" cy="636.80" r="2.60" fill="#5dbb96"/>
<circle cx="405.10" cy="634.70" r="2.60" fill="#5dbb96"/>
<circle cx="406.20" cy="638.10" r="2.60" fill="#5dbb96"/>
<circle cx="441.80" cy="597.30" r="2.60" fill="#e0bb62"/>
<circle cx="448.60" cy="601.80" r="2.60" fill="#e0bb62"/>
<circle cx="447.80" cy="617.60" r="2.60" fill="#e0bb62"/>
<circle cx="434.60" cy="625.00" r="2.60" fill="#e0bb62"/>
<path d="M396.4,549.4 L396.4,546.7 L439.4,546.7 L439.4,549.4" stroke="#333" stroke-width="0.8" fill="none"/>
<text x="418.8" y="541.9" font-size="7.4" text-anchor="middle" fill="#141414"><tspan font-style="italic">P</tspan> = 0.029</text>
<text x="455.00" y="521.60" font-size="13.5" text-anchor="start" font-weight="bold" fill="#1a1a1a">l</text>
<text x="559.60" y="531.60" font-size="8.8" text-anchor="end" fill="#141414">-log10(<tspan font-style="italic">P</tspan>adj)</text>
<path d="M563.0,528.0 L608.8,518.6 L608.8,528.0 Z" fill="#bdbdbd"/>
<text x="564.60" y="535.00" font-size="6.6" text-anchor="middle" fill="#141414">0</text>
<text x="606.00" y="535.00" font-size="6.6" text-anchor="middle" fill="#141414">6</text>
<text x="554.20" y="544.00" font-size="7.45" text-anchor="end" fill="#141414"><tspan font-style="italic">P</tspan>adj &lt; 0.05</text>
<text x="554.20" y="554.50" font-size="7.45" text-anchor="end" fill="#141414"><tspan font-style="italic">P</tspan>adj &gt; 0.05</text>
<line x1="563.00" y1="541.40" x2="605.90" y2="541.40" stroke="#9a9a9a" stroke-width="3.1"/>
<line x1="563.00" y1="551.90" x2="605.90" y2="551.90" stroke="#a0a0a0" stroke-width="3.6" stroke-dasharray="2.5 2.3"/>
<text x="473.60" y="566.60" font-size="8.4" text-anchor="start" font-weight="bold" fill="#1a1a1a">CTL</text>
<line x1="500.90" y1="662.90" x2="552.50" y2="598.50" stroke="#b4b4b4" stroke-width="7.2"/>
<line x1="500.90" y1="662.90" x2="478.40" y2="631.40" stroke="#b4b4b4" stroke-width="6.6"/>
<line x1="500.90" y1="662.90" x2="521.90" y2="577.00" stroke="#b8b8b8" stroke-width="2.5" stroke-dasharray="2.4 1.9"/>
<line x1="500.90" y1="662.90" x2="490.20" y2="598.00" stroke="#b8b8b8" stroke-width="2.4" stroke-dasharray="2.3 1.8"/>
<line x1="490.20" y1="598.00" x2="564.70" y2="631.40" stroke="#b8b8b8" stroke-width="2.7" stroke-dasharray="2.6 2.0"/>
<line x1="478.40" y1="631.40" x2="542.30" y2="662.90" stroke="#b8b8b8" stroke-width="2.7" stroke-dasharray="2.6 2.0"/>
<circle cx="521.90" cy="577.00" r="7.30" fill="#92c5de"/>
<circle cx="490.20" cy="598.00" r="7.30" fill="#f4b870"/>
<circle cx="552.50" cy="598.50" r="7.30" fill="#2c4f9e"/>
<circle cx="478.40" cy="631.40" r="7.30" fill="#e98a90"/>
<circle cx="564.70" cy="631.40" r="7.30" fill="#e88224"/>
<circle cx="500.90" cy="662.90" r="7.30" fill="#8b0a8b"/>
<circle cx="542.30" cy="662.90" r="7.30" fill="#dc2a2a"/>
<text x="523.20" y="567.50" font-size="7.0" text-anchor="middle" fill="#222">IgM/D</text>
<text x="488.90" y="588.20" font-size="7.0" text-anchor="middle" fill="#222">IgG3</text>
<text x="551.90" y="588.20" font-size="7.0" text-anchor="middle" fill="#222">IgA2</text>
<text x="474.50" y="646.40" font-size="7.0" text-anchor="middle" fill="#222">IgG1</text>
<text x="564.30" y="646.40" font-size="7.0" text-anchor="middle" fill="#222">IgG4</text>
<text x="503.20" y="677.00" font-size="7.0" text-anchor="middle" fill="#222">IgA1</text>
<text x="542.90" y="677.00" font-size="7.0" text-anchor="middle" fill="#222">IgG2</text>
<text x="580.60" y="566.60" font-size="8.4" text-anchor="start" font-weight="bold" fill="#1a1a1a">CIP</text>
<line x1="610.90" y1="665.80" x2="662.50" y2="601.20" stroke="#b4b4b4" stroke-width="5.0"/>
<line x1="588.00" y1="634.30" x2="652.30" y2="665.80" stroke="#b4b4b4" stroke-width="5.0"/>
<line x1="588.00" y1="634.30" x2="631.90" y2="579.40" stroke="#b8b8b8" stroke-width="2.8" stroke-dasharray="2.7 2.1"/>
<line x1="588.00" y1="634.30" x2="600.20" y2="600.80" stroke="#b8b8b8" stroke-width="2.6" stroke-dasharray="2.5 2.0"/>
<line x1="588.00" y1="634.30" x2="610.90" y2="665.80" stroke="#b8b8b8" stroke-width="2.6" stroke-dasharray="2.5 2.0"/>
<line x1="610.90" y1="665.80" x2="631.90" y2="579.40" stroke="#b8b8b8" stroke-width="1.8" stroke-dasharray="1.7 1.4"/>
<line x1="600.20" y1="600.80" x2="674.30" y2="634.30" stroke="#b8b8b8" stroke-width="2.0" stroke-dasharray="1.9 1.5"/>
<line x1="652.30" y1="665.80" x2="662.50" y2="601.20" stroke="#b8b8b8" stroke-width="2.6" stroke-dasharray="2.5 2.0"/>
<line x1="652.30" y1="665.80" x2="674.30" y2="634.30" stroke="#b8b8b8" stroke-width="0.8" stroke-dasharray="1.5 1.2"/>
<circle cx="631.90" cy="579.40" r="7.30" fill="#92c5de"/>
<circle cx="600.20" cy="600.80" r="7.30" fill="#f4b870"/>
<circle cx="662.50" cy="601.20" r="7.30" fill="#2c4f9e"/>
<circle cx="588.00" cy="634.30" r="7.30" fill="#e98a90"/>
<circle cx="674.30" cy="634.30" r="7.30" fill="#e88224"/>
<circle cx="610.90" cy="665.80" r="7.30" fill="#8b0a8b"/>
<circle cx="652.30" cy="665.80" r="7.30" fill="#dc2a2a"/>
<text x="633.20" y="567.50" font-size="7.0" text-anchor="middle" fill="#222">IgM/D</text>
<text x="598.90" y="591.60" font-size="7.0" text-anchor="middle" fill="#222">IgG3</text>
<text x="662.50" y="591.60" font-size="7.0" text-anchor="middle" fill="#222">IgA2</text>
<text x="584.90" y="650.20" font-size="7.0" text-anchor="middle" fill="#222">IgG1</text>
<text x="676.20" y="650.20" font-size="7.0" text-anchor="middle" fill="#222">IgG4</text>
<text x="623.10" y="680.20" font-size="7.0" text-anchor="middle" fill="#222">IgA1</text>
<text x="662.90" y="680.20" font-size="7.0" text-anchor="middle" fill="#222">IgG2</text>
</svg></body></html>
